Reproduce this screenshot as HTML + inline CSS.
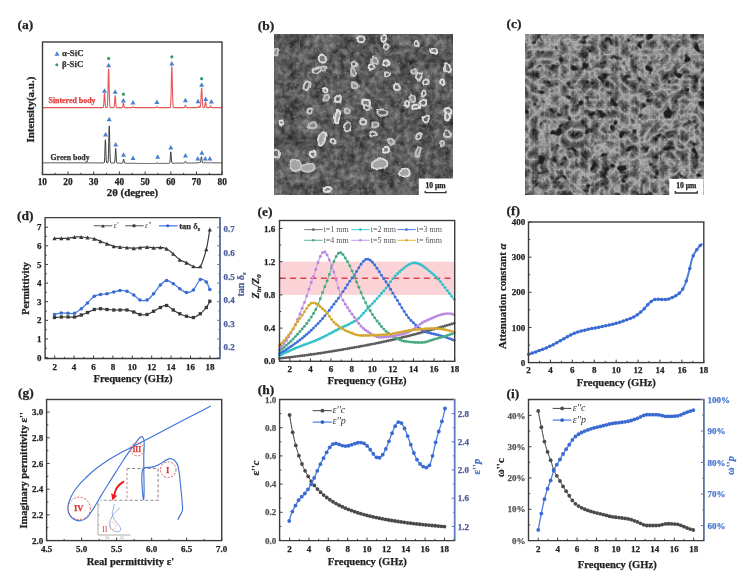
<!DOCTYPE html><html><head><meta charset="utf-8"><style>html,body{margin:0;padding:0;background:#fff;}svg{display:block;font-family:"Liberation Serif",serif;opacity:0.999;}</style></head><body>
<svg width="747" height="579" viewBox="0 0 747 579">
<rect width="747" height="579" fill="#fff"/>
<defs>
<filter id="semb" x="0" y="0" width="100%" height="100%" color-interpolation-filters="sRGB">
<feTurbulence type="fractalNoise" baseFrequency="0.06" numOctaves="2" seed="11" result="n"/>
<feColorMatrix in="n" type="matrix" values="0.6 0 0 0 0.05  0.6 0 0 0 0.05  0.6 0 0 0 0.05  0 0 0 0 1" result="A"/>
<feTurbulence type="fractalNoise" baseFrequency="0.2" numOctaves="2" seed="17" result="n2"/>
<feColorMatrix in="n2" type="matrix" values="0.9 0 0 0 -0.1  0.9 0 0 0 -0.1  0.9 0 0 0 -0.1  0 0 0 0 1" result="B"/>
<feComposite in="A" in2="B" operator="arithmetic" k1="0" k2="0.55" k3="0.45" k4="0" result="base"/>
<feTurbulence type="turbulence" baseFrequency="0.11" numOctaves="2" seed="5" result="t"/>
<feColorMatrix in="t" type="matrix" values="0 0 0 0 0.62  0 0 0 0 0.62  0 0 0 0 0.62  -3.5 0 0 0 0.45" result="edges"/>
<feMerge><feMergeNode in="base"/><feMergeNode in="edges"/></feMerge>
<feGaussianBlur stdDeviation="0.4"/>
</filter>
<filter id="semc" x="0" y="0" width="100%" height="100%" color-interpolation-filters="sRGB">
<feTurbulence type="turbulence" baseFrequency="0.1" numOctaves="3" seed="4" result="t"/>
<feColorMatrix in="t" type="matrix" values="-0.8 0 0 0 0.73  -0.8 0 0 0 0.73  -0.8 0 0 0 0.73  0 0 0 0 1" result="ridge"/>
<feTurbulence type="fractalNoise" baseFrequency="0.11" numOctaves="2" seed="21" result="n1"/>
<feColorMatrix in="n1" type="matrix" values="0 0 0 0 0  0 0 0 0 0  0 0 0 0 0  -7 0 0 0 2.8" result="holes"/>
<feFlood flood-color="#1e1e1e" result="blk"/>
<feComposite in="blk" in2="holes" operator="in" result="hl"/>
<feGaussianBlur in="hl" stdDeviation="0.5" result="hlb"/>
<feMerge><feMergeNode in="ridge"/><feMergeNode in="hlb"/></feMerge>
<feGaussianBlur stdDeviation="0.35"/>
</filter>
<filter id="ringblur" x="-5%" y="-5%" width="110%" height="110%" color-interpolation-filters="sRGB">
<feTurbulence type="fractalNoise" baseFrequency="0.12" numOctaves="1" seed="3" result="dn"/>
<feDisplacementMap in="SourceGraphic" in2="dn" scale="5" xChannelSelector="R" yChannelSelector="G" result="d"/>
<feGaussianBlur in="d" stdDeviation="0.65"/>
</filter>
<filter id="gblur" x="0" y="0" width="747" height="579" filterUnits="userSpaceOnUse" color-interpolation-filters="sRGB"><feGaussianBlur stdDeviation="0.5"/></filter>
<clipPath id="clipb"><rect x="274" y="34" width="179" height="161"/></clipPath>
</defs>
<text x="17.6" y="28.8" font-size="13.5" text-anchor="start" font-weight="bold" font-style="normal" fill="#222" stroke="#222" stroke-width="0.25">(a)</text>
<path d="M43 107.6 L43.25 107.6 L43.5 107.6 L43.75 107.6 L44 107.6 L44.25 107.6 L44.5 107.6 L44.75 107.6 L45 107.6 L45.25 107.6 L45.5 107.6 L45.75 107.6 L46 107.6 L46.25 107.6 L46.5 107.6 L46.75 107.6 L47 107.6 L47.25 107.6 L47.5 107.6 L47.75 107.6 L48 107.6 L48.25 107.6 L48.5 107.6 L48.75 107.6 L49 107.6 L49.25 107.6 L49.5 107.6 L49.75 107.6 L50 107.6 L50.25 107.6 L50.5 107.6 L50.75 107.6 L51 107.6 L51.25 107.6 L51.5 107.6 L51.75 107.6 L52 107.6 L52.25 107.6 L52.5 107.6 L52.75 107.6 L53 107.6 L53.25 107.6 L53.5 107.6 L53.75 107.6 L54 107.6 L54.25 107.6 L54.5 107.6 L54.75 107.6 L55 107.6 L55.25 107.6 L55.5 107.6 L55.75 107.6 L56 107.6 L56.25 107.6 L56.5 107.6 L56.75 107.6 L57 107.6 L57.25 107.6 L57.5 107.6 L57.75 107.6 L58 107.6 L58.25 107.6 L58.5 107.6 L58.75 107.6 L59 107.6 L59.25 107.6 L59.5 107.6 L59.75 107.6 L60 107.6 L60.25 107.6 L60.5 107.6 L60.75 107.6 L61 107.6 L61.25 107.6 L61.5 107.6 L61.75 107.6 L62 107.6 L62.25 107.6 L62.5 107.6 L62.75 107.6 L63 107.6 L63.25 107.6 L63.5 107.6 L63.75 107.6 L64 107.6 L64.25 107.6 L64.5 107.6 L64.75 107.6 L65 107.6 L65.25 107.6 L65.5 107.6 L65.75 107.6 L66 107.6 L66.25 107.6 L66.5 107.6 L66.75 107.6 L67 107.6 L67.25 107.6 L67.5 107.6 L67.75 107.6 L68 107.6 L68.25 107.6 L68.5 107.6 L68.75 107.6 L69 107.6 L69.25 107.6 L69.5 107.6 L69.75 107.6 L70 107.6 L70.25 107.6 L70.5 107.6 L70.75 107.6 L71 107.6 L71.25 107.6 L71.5 107.6 L71.75 107.6 L72 107.6 L72.25 107.6 L72.5 107.6 L72.75 107.6 L73 107.6 L73.25 107.6 L73.5 107.6 L73.75 107.6 L74 107.6 L74.25 107.6 L74.5 107.6 L74.75 107.6 L75 107.6 L75.25 107.6 L75.5 107.6 L75.75 107.6 L76 107.6 L76.25 107.6 L76.5 107.6 L76.75 107.6 L77 107.6 L77.25 107.6 L77.5 107.6 L77.75 107.6 L78 107.6 L78.25 107.6 L78.5 107.6 L78.75 107.6 L79 107.6 L79.25 107.6 L79.5 107.6 L79.75 107.6 L80 107.6 L80.25 107.6 L80.5 107.6 L80.75 107.6 L81 107.6 L81.25 107.6 L81.5 107.6 L81.75 107.6 L82 107.6 L82.25 107.6 L82.5 107.6 L82.75 107.6 L83 107.6 L83.25 107.6 L83.5 107.6 L83.75 107.6 L84 107.6 L84.25 107.6 L84.5 107.6 L84.75 107.6 L85 107.6 L85.25 107.6 L85.5 107.6 L85.75 107.6 L86 107.6 L86.25 107.6 L86.5 107.6 L86.75 107.6 L87 107.6 L87.25 107.6 L87.5 107.6 L87.75 107.6 L88 107.6 L88.25 107.6 L88.5 107.6 L88.75 107.6 L89 107.6 L89.25 107.6 L89.5 107.6 L89.75 107.6 L90 107.6 L90.25 107.6 L90.5 107.6 L90.75 107.6 L91 107.6 L91.25 107.6 L91.5 107.6 L91.75 107.6 L92 107.6 L92.25 107.6 L92.5 107.6 L92.75 107.6 L93 107.6 L93.25 107.6 L93.5 107.6 L93.75 107.6 L94 107.6 L94.25 107.6 L94.5 107.6 L94.75 107.6 L95 107.6 L95.25 107.6 L95.5 107.6 L95.75 107.6 L96 107.6 L96.25 107.6 L96.5 107.6 L96.75 107.6 L97 107.6 L97.25 107.6 L97.5 107.6 L97.75 107.6 L98 107.6 L98.25 107.6 L98.5 107.6 L98.75 107.6 L99 107.6 L99.25 107.6 L99.5 107.6 L99.75 107.6 L100 107.6 L100.25 107.6 L100.5 107.6 L100.75 107.6 L101 107.6 L101.25 107.6 L101.5 107.6 L101.75 107.6 L102 107.6 L102.25 107.6 L102.5 107.6 L102.75 107.59 L103 107.54 L103.25 107.28 L103.5 106.34 L103.75 103.9 L104 99.66 L104.25 95.08 L104.5 93.1 L104.75 95.27 L105 99.89 L105.25 104.06 L105.5 106.41 L105.75 107.31 L106 107.55 L106.25 107.59 L106.5 107.59 L106.75 107.56 L107 107.37 L107.25 106.6 L107.5 104.18 L107.75 98.48 L108 88.65 L108.25 76.94 L108.5 68.98 L108.75 69.7 L109 78.64 L109.25 90.37 L109.5 99.61 L109.75 104.72 L110 106.79 L110.25 107.42 L110.5 107.57 L110.75 107.6 L111 107.6 L111.25 107.6 L111.5 107.6 L111.75 107.6 L112 107.6 L112.25 107.6 L112.5 107.6 L112.75 107.6 L113 107.6 L113.25 107.6 L113.5 107.59 L113.75 107.51 L114 107.17 L114.25 106.04 L114.5 103.5 L114.75 99.67 L115 96.33 L115.25 95.84 L115.5 98.59 L115.75 102.53 L116 105.5 L116.25 106.96 L116.5 107.46 L116.75 107.58 L117 107.6 L117.25 107.6 L117.5 107.6 L117.75 107.6 L118 107.6 L118.25 107.6 L118.5 107.6 L118.75 107.6 L119 107.6 L119.25 107.6 L119.5 107.6 L119.75 107.6 L120 107.6 L120.25 107.6 L120.5 107.6 L120.75 107.6 L121 107.6 L121.25 107.6 L121.5 107.6 L121.75 107.6 L122 107.59 L122.25 107.52 L122.5 107.21 L122.75 106.32 L123 104.76 L123.25 103.34 L123.5 103.29 L123.75 104.64 L124 106.23 L124.25 107.17 L124.5 107.51 L124.75 107.59 L125 107.6 L125.25 107.6 L125.5 107.6 L125.75 107.6 L126 107.6 L126.25 107.6 L126.5 107.6 L126.75 107.6 L127 107.6 L127.25 107.6 L127.5 107.6 L127.75 107.6 L128 107.6 L128.25 107.6 L128.5 107.6 L128.75 107.6 L129 107.6 L129.25 107.6 L129.5 107.6 L129.75 107.6 L130 107.6 L130.25 107.6 L130.5 107.6 L130.75 107.6 L131 107.6 L131.25 107.6 L131.5 107.6 L131.75 107.59 L132 107.56 L132.25 107.44 L132.5 107.17 L132.75 106.81 L133 106.6 L133.25 106.75 L133.5 107.11 L133.75 107.41 L134 107.55 L134.25 107.59 L134.5 107.6 L134.75 107.6 L135 107.6 L135.25 107.6 L135.5 107.6 L135.75 107.6 L136 107.6 L136.25 107.6 L136.5 107.6 L136.75 107.6 L137 107.6 L137.25 107.6 L137.5 107.6 L137.75 107.6 L138 107.6 L138.25 107.6 L138.5 107.6 L138.75 107.6 L139 107.6 L139.25 107.6 L139.5 107.6 L139.75 107.6 L140 107.6 L140.25 107.6 L140.5 107.6 L140.75 107.6 L141 107.6 L141.25 107.6 L141.5 107.6 L141.75 107.6 L142 107.6 L142.25 107.6 L142.5 107.6 L142.75 107.6 L143 107.6 L143.25 107.6 L143.5 107.6 L143.75 107.6 L144 107.6 L144.25 107.6 L144.5 107.6 L144.75 107.6 L145 107.6 L145.25 107.6 L145.5 107.6 L145.75 107.6 L146 107.6 L146.25 107.6 L146.5 107.6 L146.75 107.6 L147 107.6 L147.25 107.6 L147.5 107.6 L147.75 107.6 L148 107.6 L148.25 107.6 L148.5 107.6 L148.75 107.6 L149 107.6 L149.25 107.6 L149.5 107.6 L149.75 107.6 L150 107.6 L150.25 107.6 L150.5 107.6 L150.75 107.6 L151 107.6 L151.25 107.6 L151.5 107.6 L151.75 107.6 L152 107.6 L152.25 107.6 L152.5 107.6 L152.75 107.6 L153 107.6 L153.25 107.6 L153.5 107.6 L153.75 107.6 L154 107.6 L154.25 107.6 L154.5 107.6 L154.75 107.6 L155 107.6 L155.25 107.6 L155.5 107.6 L155.75 107.59 L156 107.53 L156.25 107.36 L156.5 107.03 L156.75 106.69 L157 106.62 L157.25 106.89 L157.5 107.25 L157.75 107.48 L158 107.57 L158.25 107.6 L158.5 107.6 L158.75 107.6 L159 107.6 L159.25 107.6 L159.5 107.6 L159.75 107.6 L160 107.6 L160.25 107.6 L160.5 107.6 L160.75 107.6 L161 107.6 L161.25 107.6 L161.5 107.6 L161.75 107.6 L162 107.6 L162.25 107.6 L162.5 107.6 L162.75 107.6 L163 107.6 L163.25 107.6 L163.5 107.6 L163.75 107.6 L164 107.6 L164.25 107.6 L164.5 107.6 L164.75 107.6 L165 107.6 L165.25 107.6 L165.5 107.6 L165.75 107.6 L166 107.6 L166.25 107.6 L166.5 107.6 L166.75 107.6 L167 107.6 L167.25 107.6 L167.5 107.6 L167.75 107.6 L168 107.6 L168.25 107.6 L168.5 107.6 L168.75 107.6 L169 107.6 L169.25 107.6 L169.5 107.6 L169.75 107.59 L170 107.55 L170.25 107.31 L170.5 106.38 L170.75 103.54 L171 97.07 L171.25 86.33 L171.5 74.13 L171.75 66.6 L172 68.48 L172.25 78.54 L172.5 90.78 L172.75 100.02 L173 104.94 L173.25 106.87 L173.5 107.45 L173.75 107.57 L174 107.6 L174.25 107.6 L174.5 107.6 L174.75 107.6 L175 107.6 L175.25 107.6 L175.5 107.6 L175.75 107.6 L176 107.6 L176.25 107.6 L176.5 107.6 L176.75 107.6 L177 107.6 L177.25 107.6 L177.5 107.6 L177.75 107.6 L178 107.6 L178.25 107.6 L178.5 107.6 L178.75 107.6 L179 107.6 L179.25 107.6 L179.5 107.6 L179.75 107.6 L180 107.6 L180.25 107.6 L180.5 107.6 L180.75 107.6 L181 107.6 L181.25 107.6 L181.5 107.6 L181.75 107.6 L182 107.6 L182.25 107.6 L182.5 107.6 L182.75 107.6 L183 107.6 L183.25 107.6 L183.5 107.6 L183.75 107.6 L184 107.6 L184.25 107.58 L184.5 107.47 L184.75 107.12 L185 106.43 L185.25 105.66 L185.5 105.42 L185.75 105.94 L186 106.75 L186.25 107.3 L186.5 107.53 L186.75 107.59 L187 107.6 L187.25 107.6 L187.5 107.6 L187.75 107.6 L188 107.6 L188.25 107.6 L188.5 107.6 L188.75 107.6 L189 107.6 L189.25 107.6 L189.5 107.6 L189.75 107.6 L190 107.6 L190.25 107.6 L190.5 107.6 L190.75 107.6 L191 107.6 L191.25 107.6 L191.5 107.6 L191.75 107.6 L192 107.6 L192.25 107.6 L192.5 107.6 L192.75 107.6 L193 107.6 L193.25 107.6 L193.5 107.6 L193.75 107.6 L194 107.6 L194.25 107.6 L194.5 107.6 L194.75 107.6 L195 107.6 L195.25 107.6 L195.5 107.6 L195.75 107.6 L196 107.6 L196.25 107.6 L196.5 107.6 L196.75 107.6 L197 107.6 L197.25 107.6 L197.5 107.59 L197.75 107.56 L198 107.41 L198.25 107.04 L198.5 106.5 L198.75 106.12 L199 106.26 L199.25 106.77 L199.5 107.25 L199.75 107.49 L200 107.49 L200.25 107.18 L200.5 106.11 L200.75 103.5 L201 98.78 L201.25 92.85 L201.5 88.37 L201.75 88.08 L202 92.17 L202.25 98.1 L202.5 103.04 L202.75 105.9 L203 107.11 L203.25 107.49 L203.5 107.58 L203.75 107.59 L204 107.58 L204.25 107.47 L204.5 107.08 L204.75 106.08 L205 104.32 L205.25 102.43 L205.5 101.6 L205.75 102.49 L206 104.4 L206.25 106.13 L206.5 107.1 L206.75 107.48 L207 107.58 L207.25 107.6 L207.5 107.6 L207.75 107.6 L208 107.6 L208.25 107.6 L208.5 107.6 L208.75 107.6 L209 107.6 L209.25 107.6 L209.5 107.57 L209.75 107.44 L210 107.09 L210.25 106.47 L210.5 105.9 L210.75 105.87 L211 106.41 L211.25 107.05 L211.5 107.43 L211.75 107.56 L212 107.59 L212.25 107.6 L212.5 107.6 L212.75 107.6 L213 107.6 L213.25 107.6 L213.5 107.6 L213.75 107.6 L214 107.6 L214.25 107.6 L214.5 107.6 L214.75 107.6 L215 107.6 L215.25 107.6 L215.5 107.6 L215.75 107.6 L216 107.6 L216.25 107.6 L216.5 107.6 L216.75 107.6 L217 107.6 L217.25 107.6 L217.5 107.6 L217.75 107.6 L218 107.6 L218.25 107.6 L218.5 107.6 L218.75 107.6 L219 107.6 L219.25 107.6 L219.5 107.6 L219.75 107.6 L220 107.6 L220.25 107.6 L220.5 107.6 L220.75 107.6 L221 107.6 L221.25 107.6 L221.5 107.6" fill="none" stroke="#e45858" stroke-width="1.1" stroke-linejoin="round" />
<path d="M43 162.8 L43.25 162.8 L43.5 162.8 L43.75 162.8 L44 162.8 L44.25 162.8 L44.5 162.8 L44.75 162.8 L45 162.8 L45.25 162.8 L45.5 162.8 L45.75 162.8 L46 162.8 L46.25 162.8 L46.5 162.8 L46.75 162.8 L47 162.8 L47.25 162.8 L47.5 162.8 L47.75 162.8 L48 162.8 L48.25 162.8 L48.5 162.8 L48.75 162.8 L49 162.8 L49.25 162.8 L49.5 162.8 L49.75 162.8 L50 162.8 L50.25 162.8 L50.5 162.8 L50.75 162.8 L51 162.8 L51.25 162.8 L51.5 162.8 L51.75 162.8 L52 162.8 L52.25 162.8 L52.5 162.8 L52.75 162.8 L53 162.8 L53.25 162.8 L53.5 162.8 L53.75 162.8 L54 162.8 L54.25 162.8 L54.5 162.8 L54.75 162.8 L55 162.8 L55.25 162.8 L55.5 162.8 L55.75 162.8 L56 162.8 L56.25 162.8 L56.5 162.8 L56.75 162.8 L57 162.8 L57.25 162.8 L57.5 162.8 L57.75 162.8 L58 162.8 L58.25 162.8 L58.5 162.8 L58.75 162.8 L59 162.8 L59.25 162.8 L59.5 162.8 L59.75 162.8 L60 162.8 L60.25 162.8 L60.5 162.8 L60.75 162.8 L61 162.8 L61.25 162.8 L61.5 162.8 L61.75 162.8 L62 162.8 L62.25 162.8 L62.5 162.8 L62.75 162.8 L63 162.8 L63.25 162.8 L63.5 162.8 L63.75 162.8 L64 162.8 L64.25 162.8 L64.5 162.8 L64.75 162.8 L65 162.8 L65.25 162.8 L65.5 162.8 L65.75 162.8 L66 162.8 L66.25 162.8 L66.5 162.8 L66.75 162.8 L67 162.8 L67.25 162.8 L67.5 162.8 L67.75 162.8 L68 162.8 L68.25 162.8 L68.5 162.8 L68.75 162.8 L69 162.8 L69.25 162.8 L69.5 162.8 L69.75 162.8 L70 162.8 L70.25 162.8 L70.5 162.8 L70.75 162.8 L71 162.8 L71.25 162.8 L71.5 162.81 L71.75 162.81 L72 162.81 L72.25 162.81 L72.5 162.81 L72.75 162.81 L73 162.81 L73.25 162.81 L73.5 162.81 L73.75 162.81 L74 162.81 L74.25 162.81 L74.5 162.81 L74.75 162.81 L75 162.81 L75.25 162.81 L75.5 162.81 L75.75 162.81 L76 162.81 L76.25 162.81 L76.5 162.81 L76.75 162.81 L77 162.81 L77.25 162.81 L77.5 162.81 L77.75 162.81 L78 162.81 L78.25 162.81 L78.5 162.81 L78.75 162.81 L79 162.81 L79.25 162.81 L79.5 162.81 L79.75 162.81 L80 162.81 L80.25 162.81 L80.5 162.81 L80.75 162.82 L81 162.82 L81.25 162.82 L81.5 162.82 L81.75 162.82 L82 162.82 L82.25 162.82 L82.5 162.82 L82.75 162.82 L83 162.82 L83.25 162.82 L83.5 162.82 L83.75 162.82 L84 162.82 L84.25 162.82 L84.5 162.82 L84.75 162.82 L85 162.82 L85.25 162.82 L85.5 162.83 L85.75 162.83 L86 162.83 L86.25 162.83 L86.5 162.83 L86.75 162.83 L87 162.83 L87.25 162.83 L87.5 162.83 L87.75 162.83 L88 162.83 L88.25 162.83 L88.5 162.83 L88.75 162.83 L89 162.84 L89.25 162.84 L89.5 162.84 L89.75 162.84 L90 162.84 L90.25 162.84 L90.5 162.84 L90.75 162.84 L91 162.84 L91.25 162.84 L91.5 162.85 L91.75 162.85 L92 162.85 L92.25 162.85 L92.5 162.85 L92.75 162.85 L93 162.85 L93.25 162.85 L93.5 162.85 L93.75 162.86 L94 162.86 L94.25 162.86 L94.5 162.86 L94.75 162.86 L95 162.86 L95.25 162.86 L95.5 162.87 L95.75 162.87 L96 162.87 L96.25 162.87 L96.5 162.87 L96.75 162.87 L97 162.87 L97.25 162.88 L97.5 162.88 L97.75 162.88 L98 162.88 L98.25 162.88 L98.5 162.88 L98.75 162.89 L99 162.89 L99.25 162.89 L99.5 162.89 L99.75 162.89 L100 162.89 L100.25 162.9 L100.5 162.9 L100.75 162.9 L101 162.9 L101.25 162.9 L101.5 162.91 L101.75 162.91 L102 162.91 L102.25 162.91 L102.5 162.92 L102.75 162.92 L103 162.92 L103.25 162.92 L103.5 162.92 L103.75 162.92 L104 162.87 L104.25 162.53 L104.5 160.95 L104.75 156.36 L105 148.15 L105.25 140.44 L105.5 139.78 L105.75 146.81 L106 155.35 L106.25 160.53 L106.5 162.43 L106.75 162.88 L107 162.95 L107.25 162.96 L107.5 162.95 L107.75 162.82 L108 162.18 L108.25 159.82 L108.5 153.7 L108.75 142.95 L109 131.21 L109.25 125.99 L109.5 131.34 L109.75 143.11 L110 153.82 L110.25 159.89 L110.5 162.23 L110.75 162.86 L111 162.99 L111.25 163.01 L111.5 163.01 L111.75 163.02 L112 163.02 L112.25 163.02 L112.5 163.03 L112.75 163.03 L113 163.03 L113.25 163.04 L113.5 163.04 L113.75 163.04 L114 163.05 L114.25 163.03 L114.5 162.85 L114.75 162.02 L115 159.43 L115.25 154.5 L115.5 149.42 L115.75 148.35 L116 152.33 L116.25 157.77 L116.5 161.31 L116.75 162.69 L117 163.03 L117.25 163.09 L117.5 163.1 L117.75 163.1 L118 163.11 L118.25 163.11 L118.5 163.12 L118.75 163.12 L119 163.12 L119.25 163.13 L119.5 163.13 L119.75 163.14 L120 163.14 L120.25 163.14 L120.5 163.15 L120.75 163.15 L121 163.16 L121.25 163.16 L121.5 163.17 L121.75 163.17 L122 163.17 L122.25 163.17 L122.5 163.11 L122.75 162.83 L123 162 L123.25 160.52 L123.5 159.16 L123.75 159.06 L124 160.34 L124.25 161.87 L124.5 162.79 L124.75 163.13 L125 163.21 L125.25 163.23 L125.5 163.23 L125.75 163.24 L126 163.24 L126.25 163.25 L126.5 163.25 L126.75 163.25 L127 163.26 L127.25 163.26 L127.5 163.27 L127.75 163.27 L128 163.28 L128.25 163.28 L128.5 163.28 L128.75 163.29 L129 163.29 L129.25 163.3 L129.5 163.3 L129.75 163.3 L130 163.31 L130.25 163.31 L130.5 163.32 L130.75 163.32 L131 163.32 L131.25 163.33 L131.5 163.33 L131.75 163.33 L132 163.32 L132.25 163.25 L132.5 163.09 L132.75 162.87 L133 162.76 L133.25 162.85 L133.5 163.07 L133.75 163.25 L134 163.34 L134.25 163.37 L134.5 163.38 L134.75 163.38 L135 163.38 L135.25 163.39 L135.5 163.39 L135.75 163.4 L136 163.4 L136.25 163.4 L136.5 163.41 L136.75 163.41 L137 163.41 L137.25 163.41 L137.5 163.42 L137.75 163.42 L138 163.42 L138.25 163.43 L138.5 163.43 L138.75 163.43 L139 163.44 L139.25 163.44 L139.5 163.44 L139.75 163.44 L140 163.45 L140.25 163.45 L140.5 163.45 L140.75 163.45 L141 163.46 L141.25 163.46 L141.5 163.46 L141.75 163.46 L142 163.47 L142.25 163.47 L142.5 163.47 L142.75 163.47 L143 163.47 L143.25 163.47 L143.5 163.48 L143.75 163.48 L144 163.48 L144.25 163.48 L144.5 163.48 L144.75 163.48 L145 163.49 L145.25 163.49 L145.5 163.49 L145.75 163.49 L146 163.49 L146.25 163.49 L146.5 163.49 L146.75 163.49 L147 163.49 L147.25 163.5 L147.5 163.5 L147.75 163.5 L148 163.5 L148.25 163.5 L148.5 163.5 L148.75 163.5 L149 163.5 L149.25 163.5 L149.5 163.5 L149.75 163.5 L150 163.5 L150.25 163.5 L150.5 163.5 L150.75 163.5 L151 163.5 L151.25 163.5 L151.5 163.5 L151.75 163.5 L152 163.5 L152.25 163.5 L152.5 163.5 L152.75 163.5 L153 163.49 L153.25 163.49 L153.5 163.49 L153.75 163.49 L154 163.49 L154.25 163.49 L154.5 163.49 L154.75 163.49 L155 163.49 L155.25 163.48 L155.5 163.48 L155.75 163.47 L156 163.42 L156.25 163.28 L156.5 163.02 L156.75 162.75 L157 162.69 L157.25 162.9 L157.5 163.19 L157.75 163.37 L158 163.44 L158.25 163.46 L158.5 163.46 L158.75 163.46 L159 163.46 L159.25 163.45 L159.5 163.45 L159.75 163.45 L160 163.45 L160.25 163.44 L160.5 163.44 L160.75 163.44 L161 163.44 L161.25 163.43 L161.5 163.43 L161.75 163.43 L162 163.42 L162.25 163.42 L162.5 163.42 L162.75 163.41 L163 163.41 L163.25 163.41 L163.5 163.41 L163.75 163.4 L164 163.4 L164.25 163.4 L164.5 163.39 L164.75 163.39 L165 163.38 L165.25 163.38 L165.5 163.38 L165.75 163.37 L166 163.37 L166.25 163.37 L166.5 163.36 L166.75 163.36 L167 163.36 L167.25 163.35 L167.5 163.35 L167.75 163.34 L168 163.34 L168.25 163.34 L168.5 163.33 L168.75 163.33 L169 163.32 L169.25 163.29 L169.5 163.14 L169.75 162.56 L170 160.94 L170.25 157.86 L170.5 154.09 L170.75 151.87 L171 152.87 L171.25 156.31 L171.5 159.85 L171.75 162.04 L172 162.95 L172.25 163.21 L172.5 163.26 L172.75 163.26 L173 163.26 L173.25 163.25 L173.5 163.25 L173.75 163.25 L174 163.24 L174.25 163.24 L174.5 163.23 L174.75 163.23 L175 163.22 L175.25 163.22 L175.5 163.22 L175.75 163.21 L176 163.21 L176.25 163.2 L176.5 163.2 L176.75 163.19 L177 163.19 L177.25 163.19 L177.5 163.18 L177.75 163.18 L178 163.17 L178.25 163.17 L178.5 163.17 L178.75 163.16 L179 163.16 L179.25 163.15 L179.5 163.15 L179.75 163.14 L180 163.14 L180.25 163.14 L180.5 163.13 L180.75 163.13 L181 163.12 L181.25 163.12 L181.5 163.12 L181.75 163.11 L182 163.11 L182.25 163.1 L182.5 163.1 L182.75 163.1 L183 163.09 L183.25 163.09 L183.5 163.09 L183.75 163.08 L184 163.08 L184.25 163.05 L184.5 162.96 L184.75 162.68 L185 162.1 L185.25 161.47 L185.5 161.27 L185.75 161.7 L186 162.35 L186.25 162.8 L186.5 162.98 L186.75 163.03 L187 163.03 L187.25 163.03 L187.5 163.03 L187.75 163.02 L188 163.02 L188.25 163.02 L188.5 163.01 L188.75 163.01 L189 163.01 L189.25 163 L189.5 163 L189.75 163 L190 162.99 L190.25 162.99 L190.5 162.99 L190.75 162.99 L191 162.98 L191.25 162.98 L191.5 162.98 L191.75 162.97 L192 162.97 L192.25 162.97 L192.5 162.97 L192.75 162.96 L193 162.96 L193.25 162.96 L193.5 162.95 L193.75 162.95 L194 162.95 L194.25 162.95 L194.5 162.94 L194.75 162.94 L195 162.94 L195.25 162.94 L195.5 162.93 L195.75 162.93 L196 162.93 L196.25 162.93 L196.5 162.92 L196.75 162.92 L197 162.92 L197.25 162.92 L197.5 162.91 L197.75 162.89 L198 162.81 L198.25 162.61 L198.5 162.32 L198.75 162.11 L199 162.19 L199.25 162.46 L199.5 162.71 L199.75 162.84 L200 162.83 L200.25 162.63 L200.5 161.97 L200.75 160.55 L201 158.5 L201.25 156.85 L201.5 156.79 L201.75 158.36 L202 160.42 L202.25 161.89 L202.5 162.59 L202.75 162.81 L203 162.86 L203.25 162.87 L203.5 162.87 L203.75 162.87 L204 162.87 L204.25 162.86 L204.5 162.82 L204.75 162.69 L205 162.4 L205.25 162.03 L205.5 161.86 L205.75 162.04 L206 162.41 L206.25 162.69 L206.5 162.81 L206.75 162.85 L207 162.85 L207.25 162.85 L207.5 162.85 L207.75 162.85 L208 162.85 L208.25 162.85 L208.5 162.85 L208.75 162.84 L209 162.84 L209.25 162.84 L209.5 162.83 L209.75 162.79 L210 162.67 L210.25 162.46 L210.5 162.27 L210.75 162.26 L211 162.44 L211.25 162.65 L211.5 162.78 L211.75 162.82 L212 162.83 L212.25 162.83 L212.5 162.83 L212.75 162.83 L213 162.83 L213.25 162.83 L213.5 162.83 L213.75 162.83 L214 162.83 L214.25 162.83 L214.5 162.83 L214.75 162.82 L215 162.82 L215.25 162.82 L215.5 162.82 L215.75 162.82 L216 162.82 L216.25 162.82 L216.5 162.82 L216.75 162.82 L217 162.82 L217.25 162.82 L217.5 162.82 L217.75 162.82 L218 162.82 L218.25 162.82 L218.5 162.82 L218.75 162.82 L219 162.82 L219.25 162.82 L219.5 162.81 L219.75 162.81 L220 162.81 L220.25 162.81 L220.5 162.81 L220.75 162.81 L221 162.81 L221.25 162.81 L221.5 162.81" fill="none" stroke="#3a3a3a" stroke-width="1.0" stroke-linejoin="round" />
<path d="M104.49 88.15 L106.99 92.65 L101.99 92.65 Z" fill="#4a80d0"/>
<path d="M108.61 62.75 L111.11 67.25 L106.11 67.25 Z" fill="#4a80d0"/>
<path d="M115.16 89.35 L117.66 93.85 L112.66 93.85 Z" fill="#4a80d0"/>
<path d="M123.38 97.95 L125.88 102.45 L120.88 102.45 Z" fill="#4a80d0"/>
<path d="M133.02 99.95 L135.52 104.45 L130.52 104.45 Z" fill="#4a80d0"/>
<path d="M156.92 99.55 L159.42 104.05 L154.42 104.05 Z" fill="#4a80d0"/>
<path d="M171.83 60.95 L174.33 65.45 L169.33 65.45 Z" fill="#4a80d0"/>
<path d="M185.45 97.75 L187.95 102.25 L182.95 102.25 Z" fill="#4a80d0"/>
<path d="M198.04 98.75 L200.54 103.25 L195.54 103.25 Z" fill="#4a80d0"/>
<path d="M201.64 82.35 L204.14 86.85 L199.14 86.85 Z" fill="#4a80d0"/>
<path d="M205.75 96.45 L208.25 100.95 L203.25 100.95 Z" fill="#4a80d0"/>
<path d="M211.41 98.95 L213.91 103.45 L208.91 103.45 Z" fill="#4a80d0"/>
<circle cx="108.61" cy="58.4" r="1.6" fill="#3a9a66" stroke="none" stroke-width="0"/>
<circle cx="123.38" cy="94.2" r="1.6" fill="#3a9a66" stroke="none" stroke-width="0"/>
<circle cx="171.83" cy="56.8" r="1.6" fill="#3a9a66" stroke="none" stroke-width="0"/>
<circle cx="201.64" cy="78.7" r="1.6" fill="#3a9a66" stroke="none" stroke-width="0"/>
<path d="M105.52 131.95 L108.02 136.45 L103.02 136.45 Z" fill="#4a80d0"/>
<path d="M109.25 116.75 L111.75 121.25 L106.75 121.25 Z" fill="#4a80d0"/>
<path d="M115.67 141.95 L118.17 146.45 L113.17 146.45 Z" fill="#4a80d0"/>
<path d="M123.51 152.25 L126.01 156.75 L121.01 156.75 Z" fill="#4a80d0"/>
<path d="M133.02 155.55 L135.52 160.05 L130.52 160.05 Z" fill="#4a80d0"/>
<path d="M157.69 154.25 L160.19 158.75 L155.19 158.75 Z" fill="#4a80d0"/>
<path d="M170.8 144.95 L173.3 149.45 L168.3 149.45 Z" fill="#4a80d0"/>
<path d="M185.45 152.95 L187.95 157.45 L182.95 157.45 Z" fill="#4a80d0"/>
<path d="M197.78 155.95 L200.28 160.45 L195.28 160.45 Z" fill="#4a80d0"/>
<path d="M201.9 150.25 L204.4 154.75 L199.4 154.75 Z" fill="#4a80d0"/>
<path d="M205.24 155.95 L207.74 160.45 L202.74 160.45 Z" fill="#4a80d0"/>
<path d="M209.86 155.95 L212.36 160.45 L207.36 160.45 Z" fill="#4a80d0"/>
<rect x="42.5" y="42" width="179.5" height="132.5" fill="none" stroke="#3c3c3c" stroke-width="1.4"/>
<line x1="42.3" y1="174.5" x2="42.3" y2="171.5" stroke="#3c3c3c" stroke-width="1.0" />
<text x="42.3" y="184.8" font-size="9.3" text-anchor="middle" font-weight="bold" font-style="normal" fill="#222" stroke="#222" stroke-width="0.25">10</text>
<line x1="68" y1="174.5" x2="68" y2="171.5" stroke="#3c3c3c" stroke-width="1.0" />
<text x="68" y="184.8" font-size="9.3" text-anchor="middle" font-weight="bold" font-style="normal" fill="#222" stroke="#222" stroke-width="0.25">20</text>
<line x1="93.7" y1="174.5" x2="93.7" y2="171.5" stroke="#3c3c3c" stroke-width="1.0" />
<text x="93.7" y="184.8" font-size="9.3" text-anchor="middle" font-weight="bold" font-style="normal" fill="#222" stroke="#222" stroke-width="0.25">30</text>
<line x1="119.4" y1="174.5" x2="119.4" y2="171.5" stroke="#3c3c3c" stroke-width="1.0" />
<text x="119.4" y="184.8" font-size="9.3" text-anchor="middle" font-weight="bold" font-style="normal" fill="#222" stroke="#222" stroke-width="0.25">40</text>
<line x1="145.1" y1="174.5" x2="145.1" y2="171.5" stroke="#3c3c3c" stroke-width="1.0" />
<text x="145.1" y="184.8" font-size="9.3" text-anchor="middle" font-weight="bold" font-style="normal" fill="#222" stroke="#222" stroke-width="0.25">50</text>
<line x1="170.8" y1="174.5" x2="170.8" y2="171.5" stroke="#3c3c3c" stroke-width="1.0" />
<text x="170.8" y="184.8" font-size="9.3" text-anchor="middle" font-weight="bold" font-style="normal" fill="#222" stroke="#222" stroke-width="0.25">60</text>
<line x1="196.5" y1="174.5" x2="196.5" y2="171.5" stroke="#3c3c3c" stroke-width="1.0" />
<text x="196.5" y="184.8" font-size="9.3" text-anchor="middle" font-weight="bold" font-style="normal" fill="#222" stroke="#222" stroke-width="0.25">70</text>
<line x1="222.2" y1="174.5" x2="222.2" y2="171.5" stroke="#3c3c3c" stroke-width="1.0" />
<text x="222.2" y="184.8" font-size="9.3" text-anchor="middle" font-weight="bold" font-style="normal" fill="#222" stroke="#222" stroke-width="0.25">80</text>
<line x1="55.15" y1="174.5" x2="55.15" y2="172.8" stroke="#3c3c3c" stroke-width="1.0" />
<line x1="80.85" y1="174.5" x2="80.85" y2="172.8" stroke="#3c3c3c" stroke-width="1.0" />
<line x1="106.55" y1="174.5" x2="106.55" y2="172.8" stroke="#3c3c3c" stroke-width="1.0" />
<line x1="132.25" y1="174.5" x2="132.25" y2="172.8" stroke="#3c3c3c" stroke-width="1.0" />
<line x1="157.95" y1="174.5" x2="157.95" y2="172.8" stroke="#3c3c3c" stroke-width="1.0" />
<line x1="183.65" y1="174.5" x2="183.65" y2="172.8" stroke="#3c3c3c" stroke-width="1.0" />
<line x1="209.35" y1="174.5" x2="209.35" y2="172.8" stroke="#3c3c3c" stroke-width="1.0" />
<text x="132.5" y="195.6" font-size="10.8" text-anchor="middle" font-weight="bold" font-style="normal" fill="#222" stroke="#222" stroke-width="0.25">2&#952; (degree)</text>
<text x="34.2" y="109.6" font-size="11.0" text-anchor="middle" font-weight="bold" font-style="normal" fill="#222" stroke="#222" stroke-width="0.25" transform="rotate(-90 34.2 109.6)">Intensity(a.u.)</text>
<path d="M57 51.35 L59.5 55.85 L54.5 55.85 Z" fill="#4a80d0"/>
<text x="62" y="56.4" font-size="8.8" text-anchor="start" font-weight="bold" font-style="normal" fill="#333" stroke="#333" stroke-width="0.25">&#945;-SiC</text>
<circle cx="56.8" cy="64.8" r="1.5" fill="#3a9a66" stroke="none" stroke-width="0"/>
<text x="62" y="67.2" font-size="8.8" text-anchor="start" font-weight="bold" font-style="normal" fill="#333" stroke="#333" stroke-width="0.25">&#946;-SiC</text>
<text x="48.5" y="102.6" font-size="7.9" text-anchor="start" font-weight="bold" font-style="normal" fill="#e03c3c" stroke="#e03c3c" stroke-width="0.25">Sintered body</text>
<text x="50.5" y="159.6" font-size="7.8" text-anchor="start" font-weight="bold" font-style="normal" fill="#333" stroke="#333" stroke-width="0.25">Green body</text>
<text x="257.7" y="29.8" font-size="13.5" text-anchor="start" font-weight="bold" font-style="normal" fill="#222" stroke="#222" stroke-width="0.25">(b)</text>
<rect x="274" y="34" width="179" height="161" fill="#777"/>
<rect x="274" y="34" width="179" height="161" filter="url(#semb)"/>
<g clip-path="url(#clipb)"><g filter="url(#ringblur)">
<ellipse cx="322.2" cy="58.1" rx="3.5" ry="3.5" transform="rotate(0 322.2 58.1)" fill="#7a7a7a" stroke="#dedede" stroke-width="2.0"/>
<ellipse cx="317.5" cy="70.1" rx="4.0" ry="2.5" transform="rotate(-20 317.5 70.1)" fill="#5e5e5e" stroke="#cdcdcd" stroke-width="2.0"/>
<ellipse cx="323.5" cy="69" rx="3.0" ry="2.5" transform="rotate(0 323.5 69)" fill="#888888" stroke="#c0c0c0" stroke-width="2.0"/>
<ellipse cx="360.7" cy="39.3" rx="3.0" ry="3.0" transform="rotate(0 360.7 39.3)" fill="#666666" stroke="#d6d6d6" stroke-width="2.0"/>
<ellipse cx="383.6" cy="38.8" rx="3.5" ry="3.0" transform="rotate(0 383.6 38.8)" fill="#7a7a7a" stroke="#dedede" stroke-width="2.0"/>
<ellipse cx="386" cy="46" rx="2.5" ry="2.5" transform="rotate(0 386 46)" fill="#5e5e5e" stroke="#cdcdcd" stroke-width="2.0"/>
<ellipse cx="374" cy="60.5" rx="3.0" ry="3.0" transform="rotate(0 374 60.5)" fill="#888888" stroke="#c0c0c0" stroke-width="2.0"/>
<ellipse cx="371.6" cy="67.7" rx="3.0" ry="2.5" transform="rotate(0 371.6 67.7)" fill="#666666" stroke="#d6d6d6" stroke-width="2.0"/>
<ellipse cx="386" cy="62.9" rx="3.5" ry="2.5" transform="rotate(-10 386 62.9)" fill="#7a7a7a" stroke="#dedede" stroke-width="2.0"/>
<ellipse cx="354.7" cy="64.1" rx="2.5" ry="2.5" transform="rotate(0 354.7 64.1)" fill="#5e5e5e" stroke="#cdcdcd" stroke-width="2.0"/>
<ellipse cx="353.5" cy="72.6" rx="2.5" ry="3.5" transform="rotate(0 353.5 72.6)" fill="#888888" stroke="#c0c0c0" stroke-width="2.0"/>
<ellipse cx="416.2" cy="43.6" rx="2.5" ry="2.5" transform="rotate(0 416.2 43.6)" fill="#666666" stroke="#d6d6d6" stroke-width="2.0"/>
<ellipse cx="434.2" cy="50.9" rx="3.0" ry="3.0" transform="rotate(0 434.2 50.9)" fill="#7a7a7a" stroke="#dedede" stroke-width="2.0"/>
<ellipse cx="418.6" cy="76.2" rx="2.5" ry="4.0" transform="rotate(20 418.6 76.2)" fill="#5e5e5e" stroke="#cdcdcd" stroke-width="2.0"/>
<ellipse cx="413.8" cy="71.3" rx="2.5" ry="2.5" transform="rotate(0 413.8 71.3)" fill="#888888" stroke="#c0c0c0" stroke-width="2.0"/>
<ellipse cx="425.8" cy="82.2" rx="3.0" ry="3.0" transform="rotate(0 425.8 82.2)" fill="#666666" stroke="#d6d6d6" stroke-width="2.0"/>
<ellipse cx="442.7" cy="82.2" rx="2.5" ry="3.0" transform="rotate(0 442.7 82.2)" fill="#7a7a7a" stroke="#dedede" stroke-width="2.0"/>
<ellipse cx="306.5" cy="85.8" rx="2.5" ry="4.5" transform="rotate(20 306.5 85.8)" fill="#5e5e5e" stroke="#cdcdcd" stroke-width="2.0"/>
<ellipse cx="354.7" cy="85.8" rx="3.0" ry="2.5" transform="rotate(0 354.7 85.8)" fill="#888888" stroke="#c0c0c0" stroke-width="2.0"/>
<ellipse cx="396.9" cy="87" rx="3.0" ry="3.0" transform="rotate(0 396.9 87)" fill="#666666" stroke="#d6d6d6" stroke-width="2.0"/>
<ellipse cx="325.8" cy="90.6" rx="2.5" ry="2.5" transform="rotate(0 325.8 90.6)" fill="#7a7a7a" stroke="#dedede" stroke-width="2.0"/>
<ellipse cx="423.4" cy="93" rx="2.5" ry="2.5" transform="rotate(0 423.4 93)" fill="#5e5e5e" stroke="#cdcdcd" stroke-width="2.0"/>
<ellipse cx="325.8" cy="97.9" rx="2.5" ry="2.5" transform="rotate(0 325.8 97.9)" fill="#888888" stroke="#c0c0c0" stroke-width="2.0"/>
<ellipse cx="337.9" cy="99.1" rx="3.0" ry="3.0" transform="rotate(0 337.9 99.1)" fill="#666666" stroke="#d6d6d6" stroke-width="2.0"/>
<ellipse cx="365.6" cy="102.7" rx="3.5" ry="3.0" transform="rotate(0 365.6 102.7)" fill="#7a7a7a" stroke="#dedede" stroke-width="2.0"/>
<ellipse cx="366.8" cy="107.5" rx="3.0" ry="2.5" transform="rotate(0 366.8 107.5)" fill="#5e5e5e" stroke="#cdcdcd" stroke-width="2.0"/>
<ellipse cx="412.6" cy="99.1" rx="2.5" ry="3.0" transform="rotate(0 412.6 99.1)" fill="#888888" stroke="#c0c0c0" stroke-width="2.0"/>
<ellipse cx="423.4" cy="102.7" rx="3.0" ry="3.0" transform="rotate(0 423.4 102.7)" fill="#666666" stroke="#d6d6d6" stroke-width="2.0"/>
<ellipse cx="416.2" cy="106.3" rx="3.0" ry="2.5" transform="rotate(0 416.2 106.3)" fill="#7a7a7a" stroke="#dedede" stroke-width="2.0"/>
<ellipse cx="387.3" cy="73.8" rx="2.5" ry="2.5" transform="rotate(0 387.3 73.8)" fill="#5e5e5e" stroke="#cdcdcd" stroke-width="2.0"/>
<ellipse cx="276.4" cy="52" rx="2.5" ry="3.5" transform="rotate(0 276.4 52)" fill="#888888" stroke="#c0c0c0" stroke-width="2.0"/>
<ellipse cx="447.5" cy="67.7" rx="2.5" ry="3.5" transform="rotate(0 447.5 67.7)" fill="#666666" stroke="#d6d6d6" stroke-width="2.0"/>
<ellipse cx="447.5" cy="111" rx="3.0" ry="3.0" transform="rotate(0 447.5 111)" fill="#7a7a7a" stroke="#dedede" stroke-width="2.0"/>
<ellipse cx="310" cy="111" rx="2.5" ry="2.5" transform="rotate(0 310 111)" fill="#5e5e5e" stroke="#cdcdcd" stroke-width="2.0"/>
<ellipse cx="346.3" cy="111" rx="2.5" ry="2.5" transform="rotate(0 346.3 111)" fill="#888888" stroke="#c0c0c0" stroke-width="2.0"/>
<ellipse cx="406.5" cy="103.9" rx="2.5" ry="3.0" transform="rotate(0 406.5 103.9)" fill="#666666" stroke="#d6d6d6" stroke-width="2.0"/>
<ellipse cx="336.7" cy="117.2" rx="2.6" ry="6.5" transform="rotate(10 336.7 117.2)" fill="#a4a4a4" stroke="#dedede" stroke-width="2.0"/>
<ellipse cx="347.5" cy="126.9" rx="3.5" ry="5.0" transform="rotate(30 347.5 126.9)" fill="#5e5e5e" stroke="#cdcdcd" stroke-width="2.0"/>
<ellipse cx="312.6" cy="125.7" rx="4.0" ry="3.5" transform="rotate(0 312.6 125.7)" fill="#888888" stroke="#c0c0c0" stroke-width="2.0"/>
<ellipse cx="322.2" cy="138.9" rx="3.0" ry="7.0" transform="rotate(15 322.2 138.9)" fill="#a4a4a4" stroke="#d6d6d6" stroke-width="2.0"/>
<ellipse cx="312.6" cy="153.4" rx="3.0" ry="3.0" transform="rotate(0 312.6 153.4)" fill="#7a7a7a" stroke="#dedede" stroke-width="2.0"/>
<ellipse cx="295.7" cy="165.4" rx="6.0" ry="5.5" transform="rotate(0 295.7 165.4)" fill="#a4a4a4" stroke="#cdcdcd" stroke-width="2.0"/>
<ellipse cx="307.7" cy="167.8" rx="7.0" ry="4.0" transform="rotate(0 307.7 167.8)" fill="#a4a4a4" stroke="#c0c0c0" stroke-width="2.0"/>
<ellipse cx="380" cy="164.2" rx="8.5" ry="5.0" transform="rotate(-10 380 164.2)" fill="#a4a4a4" stroke="#d6d6d6" stroke-width="2.0"/>
<ellipse cx="404.1" cy="172.7" rx="5.5" ry="4.0" transform="rotate(10 404.1 172.7)" fill="#a4a4a4" stroke="#dedede" stroke-width="2.0"/>
<ellipse cx="382.4" cy="112.4" rx="5.0" ry="3.0" transform="rotate(0 382.4 112.4)" fill="#5e5e5e" stroke="#cdcdcd" stroke-width="2.0"/>
<ellipse cx="375.2" cy="124.5" rx="3.0" ry="3.0" transform="rotate(0 375.2 124.5)" fill="#888888" stroke="#c0c0c0" stroke-width="2.0"/>
<ellipse cx="363.2" cy="122" rx="3.0" ry="2.5" transform="rotate(0 363.2 122)" fill="#666666" stroke="#d6d6d6" stroke-width="2.0"/>
<ellipse cx="386" cy="149.8" rx="3.0" ry="3.0" transform="rotate(0 386 149.8)" fill="#7a7a7a" stroke="#dedede" stroke-width="2.0"/>
<ellipse cx="372.8" cy="134.1" rx="3.0" ry="2.5" transform="rotate(0 372.8 134.1)" fill="#5e5e5e" stroke="#cdcdcd" stroke-width="2.0"/>
<ellipse cx="418.6" cy="152.2" rx="2.5" ry="5.0" transform="rotate(20 418.6 152.2)" fill="#888888" stroke="#c0c0c0" stroke-width="2.0"/>
<ellipse cx="425.8" cy="119.6" rx="3.0" ry="3.0" transform="rotate(0 425.8 119.6)" fill="#666666" stroke="#d6d6d6" stroke-width="2.0"/>
<ellipse cx="447.5" cy="117.2" rx="2.5" ry="3.5" transform="rotate(0 447.5 117.2)" fill="#7a7a7a" stroke="#dedede" stroke-width="2.0"/>
<ellipse cx="447.5" cy="134.1" rx="2.5" ry="3.0" transform="rotate(0 447.5 134.1)" fill="#5e5e5e" stroke="#cdcdcd" stroke-width="2.0"/>
<ellipse cx="442.7" cy="143.7" rx="2.5" ry="3.0" transform="rotate(0 442.7 143.7)" fill="#888888" stroke="#c0c0c0" stroke-width="2.0"/>
<ellipse cx="276.4" cy="153.4" rx="2.5" ry="4.0" transform="rotate(0 276.4 153.4)" fill="#666666" stroke="#d6d6d6" stroke-width="2.0"/>
<ellipse cx="327" cy="189.5" rx="3.5" ry="2.5" transform="rotate(0 327 189.5)" fill="#7a7a7a" stroke="#dedede" stroke-width="2.0"/>
<ellipse cx="418.6" cy="136.5" rx="2.5" ry="2.5" transform="rotate(0 418.6 136.5)" fill="#5e5e5e" stroke="#cdcdcd" stroke-width="2.0"/>
<ellipse cx="390.9" cy="141.3" rx="2.5" ry="2.5" transform="rotate(0 390.9 141.3)" fill="#888888" stroke="#c0c0c0" stroke-width="2.0"/>
<ellipse cx="333" cy="141.3" rx="2.5" ry="2.5" transform="rotate(0 333 141.3)" fill="#666666" stroke="#d6d6d6" stroke-width="2.0"/>
<ellipse cx="281.2" cy="122" rx="2.5" ry="2.5" transform="rotate(0 281.2 122)" fill="#7a7a7a" stroke="#dedede" stroke-width="2.0"/>
</g></g>
<rect x="418.8" y="178.5" width="34.2" height="16.5" fill="#fff"/>
<text x="435.6" y="187.5" font-size="7.6" text-anchor="middle" font-weight="bold" font-style="normal" fill="#222" stroke="#222" stroke-width="0.25">10 &#956;m</text>
<path d="M425.2 190.8 V192.7 H446 V190.8" fill="none" stroke="#333" stroke-width="1.3"/>
<text x="506.4" y="28.2" font-size="13.5" text-anchor="start" font-weight="bold" font-style="normal" fill="#222" stroke="#222" stroke-width="0.25">(c)</text>
<rect x="525" y="34" width="178.5" height="161" fill="#777"/>
<rect x="525" y="34" width="178.5" height="161" filter="url(#semc)"/>
<rect x="669.3" y="178.8" width="34.2" height="16.2" fill="#fff"/>
<text x="686.3" y="187.8" font-size="7.6" text-anchor="middle" font-weight="bold" font-style="normal" fill="#222" stroke="#222" stroke-width="0.25">10 &#956;m</text>
<path d="M675.3 191.1 V193 H697.3 V191.1" fill="none" stroke="#333" stroke-width="1.3"/>
<text x="17.1" y="219.6" font-size="13.5" text-anchor="start" font-weight="bold" font-style="normal" fill="#222" stroke="#222" stroke-width="0.25">(d)</text>
<path d="M54.5 238.3 C55.63 238.3 59.05 238.3 61.3 238.3 C63.55 238.3 65.8 238.52 68 238.3 C70.2 238.08 72.28 237.22 74.5 237 C76.72 236.78 79.13 236.92 81.3 237 C83.47 237.08 85.33 237.2 87.5 237.5 C89.67 237.8 92.13 238.17 94.3 238.8 C96.47 239.43 98.38 240.47 100.5 241.3 C102.62 242.13 104.78 242.97 107 243.8 C109.22 244.63 111.63 245.77 113.8 246.3 C115.97 246.83 117.8 246.8 120 247 C122.2 247.2 124.7 247.28 127 247.5 C129.3 247.72 131.63 248.3 133.8 248.3 C135.97 248.3 137.8 247.72 140 247.5 C142.2 247.28 144.73 246.95 147 247 C149.27 247.05 151.37 247.73 153.6 247.8 C155.83 247.87 158.23 247.25 160.4 247.4 C162.57 247.55 164.45 247.62 166.6 248.7 C168.75 249.78 171.1 252.07 173.3 253.9 C175.5 255.73 177.6 258.23 179.8 259.7 C182 261.17 184.23 261.58 186.5 262.7 C188.77 263.82 191.1 265.78 193.4 266.4 C195.7 267.02 198.15 269.25 200.3 266.4 C202.45 263.55 204.72 255.45 206.3 249.3 C207.88 243.15 209.22 232.8 209.8 229.5" fill="none" stroke="#3a3a3a" stroke-width="1.2" />
<path d="M54.5 317.5 C55.63 317.42 59.05 317.08 61.3 317 C63.55 316.92 65.8 317 68 317 C70.2 317 72.28 317.33 74.5 317 C76.72 316.67 79.13 315.75 81.3 315 C83.47 314.25 85.33 313.42 87.5 312.5 C89.67 311.58 92.13 310.12 94.3 309.5 C96.47 308.88 98.38 308.75 100.5 308.75 C102.62 308.75 104.78 309.29 107 309.5 C109.22 309.71 111.63 309.92 113.8 310 C115.97 310.08 117.8 310 120 310 C122.2 310 124.7 309.67 127 310 C129.3 310.33 131.63 311.25 133.8 312 C135.97 312.75 137.8 314.08 140 314.5 C142.2 314.92 144.73 315.04 147 314.5 C149.27 313.96 151.37 312.42 153.6 311.25 C155.83 310.08 158.23 308.46 160.4 307.5 C162.57 306.54 164.45 305.08 166.6 305.5 C168.75 305.92 171.1 308.62 173.3 310 C175.5 311.38 177.6 312.71 179.8 313.75 C182 314.79 184.23 315.62 186.5 316.25 C188.77 316.88 191.1 317.92 193.4 317.5 C195.7 317.08 198.15 315.42 200.3 313.75 C202.45 312.08 204.72 309.58 206.3 307.5 C207.88 305.42 209.22 302.29 209.8 301.25" fill="none" stroke="#3a3a3a" stroke-width="1.2" />
<path d="M54.5 314.5 C55.63 314.25 59.05 313.21 61.3 313 C63.55 312.79 65.8 313.21 68 313.25 C70.2 313.29 72.28 314 74.5 313.25 C76.72 312.5 79.13 310.46 81.3 308.75 C83.47 307.04 85.33 305.08 87.5 303 C89.67 300.92 92.13 297.67 94.3 296.25 C96.47 294.83 98.38 294.92 100.5 294.5 C102.62 294.08 104.78 294.17 107 293.75 C109.22 293.33 111.63 292.54 113.8 292 C115.97 291.46 117.8 290.62 120 290.5 C122.2 290.38 124.7 290.5 127 291.25 C129.3 292 131.63 293.54 133.8 295 C135.97 296.46 137.8 299.17 140 300 C142.2 300.83 144.73 301.04 147 300 C149.27 298.96 151.37 296.25 153.6 293.75 C155.83 291.25 158.23 287.21 160.4 285 C162.57 282.79 164.45 280.71 166.6 280.5 C168.75 280.29 171.1 282.38 173.3 283.75 C175.5 285.12 177.6 287.29 179.8 288.75 C182 290.21 184.23 292.29 186.5 292.5 C188.77 292.71 191.1 292.17 193.4 290 C195.7 287.83 198.15 280.83 200.3 279.5 C202.45 278.17 204.72 280.33 206.3 282 C207.88 283.67 209.22 288.25 209.8 289.5" fill="none" stroke="#4a7ee0" stroke-width="1.3" />
<path d="M54.5 236.37 L56.65 240.24 L52.35 240.24 Z" fill="#3a3a3a"/>
<path d="M61.3 236.37 L63.45 240.24 L59.15 240.24 Z" fill="#3a3a3a"/>
<path d="M68 236.37 L70.15 240.24 L65.85 240.24 Z" fill="#3a3a3a"/>
<path d="M74.5 235.06 L76.65 238.94 L72.35 238.94 Z" fill="#3a3a3a"/>
<path d="M81.3 235.06 L83.45 238.94 L79.15 238.94 Z" fill="#3a3a3a"/>
<path d="M87.5 235.56 L89.65 239.44 L85.35 239.44 Z" fill="#3a3a3a"/>
<path d="M94.3 236.87 L96.45 240.74 L92.15 240.74 Z" fill="#3a3a3a"/>
<path d="M100.5 239.37 L102.65 243.24 L98.35 243.24 Z" fill="#3a3a3a"/>
<path d="M107 241.87 L109.15 245.74 L104.85 245.74 Z" fill="#3a3a3a"/>
<path d="M113.8 244.37 L115.95 248.24 L111.65 248.24 Z" fill="#3a3a3a"/>
<path d="M120 245.06 L122.15 248.94 L117.85 248.94 Z" fill="#3a3a3a"/>
<path d="M127 245.56 L129.15 249.44 L124.85 249.44 Z" fill="#3a3a3a"/>
<path d="M133.8 246.37 L135.95 250.24 L131.65 250.24 Z" fill="#3a3a3a"/>
<path d="M140 245.56 L142.15 249.44 L137.85 249.44 Z" fill="#3a3a3a"/>
<path d="M147 245.06 L149.15 248.94 L144.85 248.94 Z" fill="#3a3a3a"/>
<path d="M153.6 245.87 L155.75 249.74 L151.45 249.74 Z" fill="#3a3a3a"/>
<path d="M160.4 245.47 L162.55 249.34 L158.25 249.34 Z" fill="#3a3a3a"/>
<path d="M166.6 246.76 L168.75 250.63 L164.45 250.63 Z" fill="#3a3a3a"/>
<path d="M173.3 251.97 L175.45 255.84 L171.15 255.84 Z" fill="#3a3a3a"/>
<path d="M179.8 257.76 L181.95 261.63 L177.65 261.63 Z" fill="#3a3a3a"/>
<path d="M186.5 260.76 L188.65 264.63 L184.35 264.63 Z" fill="#3a3a3a"/>
<path d="M193.4 264.46 L195.55 268.33 L191.25 268.33 Z" fill="#3a3a3a"/>
<path d="M200.3 264.46 L202.45 268.33 L198.15 268.33 Z" fill="#3a3a3a"/>
<path d="M206.3 247.37 L208.45 251.24 L204.15 251.24 Z" fill="#3a3a3a"/>
<path d="M209.8 227.56 L211.95 231.44 L207.65 231.44 Z" fill="#3a3a3a"/>
<rect x="52.85" y="315.85" width="3.3" height="3.3" fill="#3a3a3a"/>
<rect x="59.65" y="315.35" width="3.3" height="3.3" fill="#3a3a3a"/>
<rect x="66.35" y="315.35" width="3.3" height="3.3" fill="#3a3a3a"/>
<rect x="72.85" y="315.35" width="3.3" height="3.3" fill="#3a3a3a"/>
<rect x="79.65" y="313.35" width="3.3" height="3.3" fill="#3a3a3a"/>
<rect x="85.85" y="310.85" width="3.3" height="3.3" fill="#3a3a3a"/>
<rect x="92.65" y="307.85" width="3.3" height="3.3" fill="#3a3a3a"/>
<rect x="98.85" y="307.1" width="3.3" height="3.3" fill="#3a3a3a"/>
<rect x="105.35" y="307.85" width="3.3" height="3.3" fill="#3a3a3a"/>
<rect x="112.15" y="308.35" width="3.3" height="3.3" fill="#3a3a3a"/>
<rect x="118.35" y="308.35" width="3.3" height="3.3" fill="#3a3a3a"/>
<rect x="125.35" y="308.35" width="3.3" height="3.3" fill="#3a3a3a"/>
<rect x="132.15" y="310.35" width="3.3" height="3.3" fill="#3a3a3a"/>
<rect x="138.35" y="312.85" width="3.3" height="3.3" fill="#3a3a3a"/>
<rect x="145.35" y="312.85" width="3.3" height="3.3" fill="#3a3a3a"/>
<rect x="151.95" y="309.6" width="3.3" height="3.3" fill="#3a3a3a"/>
<rect x="158.75" y="305.85" width="3.3" height="3.3" fill="#3a3a3a"/>
<rect x="164.95" y="303.85" width="3.3" height="3.3" fill="#3a3a3a"/>
<rect x="171.65" y="308.35" width="3.3" height="3.3" fill="#3a3a3a"/>
<rect x="178.15" y="312.1" width="3.3" height="3.3" fill="#3a3a3a"/>
<rect x="184.85" y="314.6" width="3.3" height="3.3" fill="#3a3a3a"/>
<rect x="191.75" y="315.85" width="3.3" height="3.3" fill="#3a3a3a"/>
<rect x="198.65" y="312.1" width="3.3" height="3.3" fill="#3a3a3a"/>
<rect x="204.65" y="305.85" width="3.3" height="3.3" fill="#3a3a3a"/>
<rect x="208.15" y="299.6" width="3.3" height="3.3" fill="#3a3a3a"/>
<circle cx="54.5" cy="314.5" r="1.8" fill="#3a6ad0" stroke="none" stroke-width="0"/>
<circle cx="61.3" cy="313" r="1.8" fill="#3a6ad0" stroke="none" stroke-width="0"/>
<circle cx="68" cy="313.25" r="1.8" fill="#3a6ad0" stroke="none" stroke-width="0"/>
<circle cx="74.5" cy="313.25" r="1.8" fill="#3a6ad0" stroke="none" stroke-width="0"/>
<circle cx="81.3" cy="308.75" r="1.8" fill="#3a6ad0" stroke="none" stroke-width="0"/>
<circle cx="87.5" cy="303" r="1.8" fill="#3a6ad0" stroke="none" stroke-width="0"/>
<circle cx="94.3" cy="296.25" r="1.8" fill="#3a6ad0" stroke="none" stroke-width="0"/>
<circle cx="100.5" cy="294.5" r="1.8" fill="#3a6ad0" stroke="none" stroke-width="0"/>
<circle cx="107" cy="293.75" r="1.8" fill="#3a6ad0" stroke="none" stroke-width="0"/>
<circle cx="113.8" cy="292" r="1.8" fill="#3a6ad0" stroke="none" stroke-width="0"/>
<circle cx="120" cy="290.5" r="1.8" fill="#3a6ad0" stroke="none" stroke-width="0"/>
<circle cx="127" cy="291.25" r="1.8" fill="#3a6ad0" stroke="none" stroke-width="0"/>
<circle cx="133.8" cy="295" r="1.8" fill="#3a6ad0" stroke="none" stroke-width="0"/>
<circle cx="140" cy="300" r="1.8" fill="#3a6ad0" stroke="none" stroke-width="0"/>
<circle cx="147" cy="300" r="1.8" fill="#3a6ad0" stroke="none" stroke-width="0"/>
<circle cx="153.6" cy="293.75" r="1.8" fill="#3a6ad0" stroke="none" stroke-width="0"/>
<circle cx="160.4" cy="285" r="1.8" fill="#3a6ad0" stroke="none" stroke-width="0"/>
<circle cx="166.6" cy="280.5" r="1.8" fill="#3a6ad0" stroke="none" stroke-width="0"/>
<circle cx="173.3" cy="283.75" r="1.8" fill="#3a6ad0" stroke="none" stroke-width="0"/>
<circle cx="179.8" cy="288.75" r="1.8" fill="#3a6ad0" stroke="none" stroke-width="0"/>
<circle cx="186.5" cy="292.5" r="1.8" fill="#3a6ad0" stroke="none" stroke-width="0"/>
<circle cx="193.4" cy="290" r="1.8" fill="#3a6ad0" stroke="none" stroke-width="0"/>
<circle cx="200.3" cy="279.5" r="1.8" fill="#3a6ad0" stroke="none" stroke-width="0"/>
<circle cx="206.3" cy="282" r="1.8" fill="#3a6ad0" stroke="none" stroke-width="0"/>
<circle cx="209.8" cy="289.5" r="1.8" fill="#3a6ad0" stroke="none" stroke-width="0"/>
<path d="M45.1 217.6 H220.0 V358.5 H45.1 Z" fill="none" stroke="#3c3c3c" stroke-width="1.4"/>
<line x1="220" y1="217.6" x2="220" y2="358.5" stroke="#5a7cc0" stroke-width="1.3" />
<line x1="54.7" y1="358.5" x2="54.7" y2="355.5" stroke="#3c3c3c" stroke-width="1.0" />
<text x="54.7" y="369.6" font-size="9.0" text-anchor="middle" font-weight="bold" font-style="normal" fill="#222" stroke="#222" stroke-width="0.25">2</text>
<line x1="74.1" y1="358.5" x2="74.1" y2="355.5" stroke="#3c3c3c" stroke-width="1.0" />
<text x="74.1" y="369.6" font-size="9.0" text-anchor="middle" font-weight="bold" font-style="normal" fill="#222" stroke="#222" stroke-width="0.25">4</text>
<line x1="93.5" y1="358.5" x2="93.5" y2="355.5" stroke="#3c3c3c" stroke-width="1.0" />
<text x="93.5" y="369.6" font-size="9.0" text-anchor="middle" font-weight="bold" font-style="normal" fill="#222" stroke="#222" stroke-width="0.25">6</text>
<line x1="112.9" y1="358.5" x2="112.9" y2="355.5" stroke="#3c3c3c" stroke-width="1.0" />
<text x="112.9" y="369.6" font-size="9.0" text-anchor="middle" font-weight="bold" font-style="normal" fill="#222" stroke="#222" stroke-width="0.25">8</text>
<line x1="132.3" y1="358.5" x2="132.3" y2="355.5" stroke="#3c3c3c" stroke-width="1.0" />
<text x="132.3" y="369.6" font-size="9.0" text-anchor="middle" font-weight="bold" font-style="normal" fill="#222" stroke="#222" stroke-width="0.25">10</text>
<line x1="151.7" y1="358.5" x2="151.7" y2="355.5" stroke="#3c3c3c" stroke-width="1.0" />
<text x="151.7" y="369.6" font-size="9.0" text-anchor="middle" font-weight="bold" font-style="normal" fill="#222" stroke="#222" stroke-width="0.25">12</text>
<line x1="171.1" y1="358.5" x2="171.1" y2="355.5" stroke="#3c3c3c" stroke-width="1.0" />
<text x="171.1" y="369.6" font-size="9.0" text-anchor="middle" font-weight="bold" font-style="normal" fill="#222" stroke="#222" stroke-width="0.25">14</text>
<line x1="190.5" y1="358.5" x2="190.5" y2="355.5" stroke="#3c3c3c" stroke-width="1.0" />
<text x="190.5" y="369.6" font-size="9.0" text-anchor="middle" font-weight="bold" font-style="normal" fill="#222" stroke="#222" stroke-width="0.25">16</text>
<line x1="209.9" y1="358.5" x2="209.9" y2="355.5" stroke="#3c3c3c" stroke-width="1.0" />
<text x="209.9" y="369.6" font-size="9.0" text-anchor="middle" font-weight="bold" font-style="normal" fill="#222" stroke="#222" stroke-width="0.25">18</text>
<line x1="64.4" y1="358.5" x2="64.4" y2="356.8" stroke="#3c3c3c" stroke-width="1.0" />
<line x1="83.8" y1="358.5" x2="83.8" y2="356.8" stroke="#3c3c3c" stroke-width="1.0" />
<line x1="103.2" y1="358.5" x2="103.2" y2="356.8" stroke="#3c3c3c" stroke-width="1.0" />
<line x1="122.6" y1="358.5" x2="122.6" y2="356.8" stroke="#3c3c3c" stroke-width="1.0" />
<line x1="142" y1="358.5" x2="142" y2="356.8" stroke="#3c3c3c" stroke-width="1.0" />
<line x1="161.4" y1="358.5" x2="161.4" y2="356.8" stroke="#3c3c3c" stroke-width="1.0" />
<line x1="180.8" y1="358.5" x2="180.8" y2="356.8" stroke="#3c3c3c" stroke-width="1.0" />
<line x1="200.2" y1="358.5" x2="200.2" y2="356.8" stroke="#3c3c3c" stroke-width="1.0" />
<line x1="45.1" y1="357.6" x2="48.1" y2="357.6" stroke="#3c3c3c" stroke-width="1.0" />
<text x="41.6" y="360.7" font-size="9.0" text-anchor="end" font-weight="bold" font-style="normal" fill="#222" stroke="#222" stroke-width="0.25">0</text>
<line x1="45.1" y1="348.29" x2="46.8" y2="348.29" stroke="#3c3c3c" stroke-width="1.0" />
<line x1="45.1" y1="338.97" x2="48.1" y2="338.97" stroke="#3c3c3c" stroke-width="1.0" />
<text x="41.6" y="342.07" font-size="9.0" text-anchor="end" font-weight="bold" font-style="normal" fill="#222" stroke="#222" stroke-width="0.25">1</text>
<line x1="45.1" y1="329.66" x2="46.8" y2="329.66" stroke="#3c3c3c" stroke-width="1.0" />
<line x1="45.1" y1="320.34" x2="48.1" y2="320.34" stroke="#3c3c3c" stroke-width="1.0" />
<text x="41.6" y="323.44" font-size="9.0" text-anchor="end" font-weight="bold" font-style="normal" fill="#222" stroke="#222" stroke-width="0.25">2</text>
<line x1="45.1" y1="311.03" x2="46.8" y2="311.03" stroke="#3c3c3c" stroke-width="1.0" />
<line x1="45.1" y1="301.71" x2="48.1" y2="301.71" stroke="#3c3c3c" stroke-width="1.0" />
<text x="41.6" y="304.81" font-size="9.0" text-anchor="end" font-weight="bold" font-style="normal" fill="#222" stroke="#222" stroke-width="0.25">3</text>
<line x1="45.1" y1="292.4" x2="46.8" y2="292.4" stroke="#3c3c3c" stroke-width="1.0" />
<line x1="45.1" y1="283.08" x2="48.1" y2="283.08" stroke="#3c3c3c" stroke-width="1.0" />
<text x="41.6" y="286.18" font-size="9.0" text-anchor="end" font-weight="bold" font-style="normal" fill="#222" stroke="#222" stroke-width="0.25">4</text>
<line x1="45.1" y1="273.77" x2="46.8" y2="273.77" stroke="#3c3c3c" stroke-width="1.0" />
<line x1="45.1" y1="264.45" x2="48.1" y2="264.45" stroke="#3c3c3c" stroke-width="1.0" />
<text x="41.6" y="267.55" font-size="9.0" text-anchor="end" font-weight="bold" font-style="normal" fill="#222" stroke="#222" stroke-width="0.25">5</text>
<line x1="45.1" y1="255.14" x2="46.8" y2="255.14" stroke="#3c3c3c" stroke-width="1.0" />
<line x1="45.1" y1="245.82" x2="48.1" y2="245.82" stroke="#3c3c3c" stroke-width="1.0" />
<text x="41.6" y="248.92" font-size="9.0" text-anchor="end" font-weight="bold" font-style="normal" fill="#222" stroke="#222" stroke-width="0.25">6</text>
<line x1="45.1" y1="236.51" x2="46.8" y2="236.51" stroke="#3c3c3c" stroke-width="1.0" />
<line x1="45.1" y1="227.19" x2="48.1" y2="227.19" stroke="#3c3c3c" stroke-width="1.0" />
<text x="41.6" y="230.29" font-size="9.0" text-anchor="end" font-weight="bold" font-style="normal" fill="#222" stroke="#222" stroke-width="0.25">7</text>
<line x1="220" y1="357.6" x2="217" y2="357.6" stroke="#5a7cc0" stroke-width="1.0" />
<line x1="220" y1="348.29" x2="218.3" y2="348.29" stroke="#5a7cc0" stroke-width="1.0" />
<line x1="220" y1="338.97" x2="217" y2="338.97" stroke="#5a7cc0" stroke-width="1.0" />
<line x1="220" y1="329.66" x2="218.3" y2="329.66" stroke="#5a7cc0" stroke-width="1.0" />
<line x1="220" y1="320.34" x2="217" y2="320.34" stroke="#5a7cc0" stroke-width="1.0" />
<line x1="220" y1="311.03" x2="218.3" y2="311.03" stroke="#5a7cc0" stroke-width="1.0" />
<line x1="220" y1="301.71" x2="217" y2="301.71" stroke="#5a7cc0" stroke-width="1.0" />
<line x1="220" y1="292.4" x2="218.3" y2="292.4" stroke="#5a7cc0" stroke-width="1.0" />
<line x1="220" y1="283.08" x2="217" y2="283.08" stroke="#5a7cc0" stroke-width="1.0" />
<line x1="220" y1="273.77" x2="218.3" y2="273.77" stroke="#5a7cc0" stroke-width="1.0" />
<line x1="220" y1="264.45" x2="217" y2="264.45" stroke="#5a7cc0" stroke-width="1.0" />
<line x1="220" y1="255.14" x2="218.3" y2="255.14" stroke="#5a7cc0" stroke-width="1.0" />
<line x1="220" y1="245.82" x2="217" y2="245.82" stroke="#5a7cc0" stroke-width="1.0" />
<line x1="220" y1="236.51" x2="218.3" y2="236.51" stroke="#5a7cc0" stroke-width="1.0" />
<line x1="220" y1="227.19" x2="217" y2="227.19" stroke="#5a7cc0" stroke-width="1.0" />
<text x="223.5" y="350.4" font-size="9.0" text-anchor="start" font-weight="bold" font-style="normal" fill="#4a5f98" stroke="#4a5f98" stroke-width="0.25">0.2</text>
<text x="223.5" y="326.8" font-size="9.0" text-anchor="start" font-weight="bold" font-style="normal" fill="#4a5f98" stroke="#4a5f98" stroke-width="0.25">0.3</text>
<text x="223.5" y="303.2" font-size="9.0" text-anchor="start" font-weight="bold" font-style="normal" fill="#4a5f98" stroke="#4a5f98" stroke-width="0.25">0.4</text>
<text x="223.5" y="279.6" font-size="9.0" text-anchor="start" font-weight="bold" font-style="normal" fill="#4a5f98" stroke="#4a5f98" stroke-width="0.25">0.5</text>
<text x="223.5" y="256" font-size="9.0" text-anchor="start" font-weight="bold" font-style="normal" fill="#4a5f98" stroke="#4a5f98" stroke-width="0.25">0.6</text>
<text x="223.5" y="232.4" font-size="9.0" text-anchor="start" font-weight="bold" font-style="normal" fill="#4a5f98" stroke="#4a5f98" stroke-width="0.25">0.7</text>
<text x="133" y="381.6" font-size="10.6" text-anchor="middle" font-weight="bold" font-style="normal" fill="#222" stroke="#222" stroke-width="0.25">Frequency (GHz)</text>
<text x="29.2" y="288.4" font-size="10.2" text-anchor="middle" font-weight="bold" font-style="normal" fill="#222" stroke="#222" stroke-width="0.25" transform="rotate(-90 29.2 288.4)">Permittivity</text>
<text x="244.3" y="284.5" font-size="10.0" text-anchor="middle" font-weight="bold" font-style="normal" fill="#4a5f98" stroke="#4a5f98" stroke-width="0.25" transform="rotate(-90 244.3 284.5)">tan &#948;<tspan font-size="6" dy="2">&#949;</tspan></text>
<line x1="93.8" y1="225.8" x2="112.3" y2="225.8" stroke="#555" stroke-width="1.0" />
<path d="M103 224.18 L104.8 227.42 L101.2 227.42 Z" fill="#333"/>
<text x="113.8" y="228.4" font-size="7.5" text-anchor="start" font-weight="normal" font-style="italic" fill="#444">&#949;'</text>
<line x1="125.2" y1="225.8" x2="143.6" y2="225.8" stroke="#555" stroke-width="1.0" />
<rect x="132.6" y="224.4" width="2.8" height="2.8" fill="#333"/>
<text x="145" y="228.4" font-size="7.5" text-anchor="start" font-weight="normal" font-style="italic" fill="#444">&#949;''</text>
<line x1="158.9" y1="225.8" x2="177.4" y2="225.8" stroke="#4a7ee0" stroke-width="1.3" />
<circle cx="167.7" cy="225.8" r="1.5" fill="#2e62c0" stroke="none" stroke-width="0"/>
<text x="179.2" y="228.8" font-size="8.6" text-anchor="start" font-weight="bold" font-style="normal" fill="#333" stroke="#333" stroke-width="0.25">tan &#948;<tspan font-size="5.5" dy="1.8">&#949;</tspan></text>
<text x="257.5" y="215.6" font-size="13.5" text-anchor="start" font-weight="bold" font-style="normal" fill="#222" stroke="#222" stroke-width="0.25">(e)</text>
<rect x="279.5" y="261.7" width="175.2" height="33.2" fill="#fbd3d6"/>
<line x1="279.7" y1="278.3" x2="454.7" y2="278.3" stroke="#e0414f" stroke-width="1.6" stroke-dasharray="6 4.3"/>
<path d="M279.5 358.4 L279.94 358.35 L280.38 358.31 L280.82 358.26 L281.26 358.21 L281.7 358.17 L282.13 358.12 L282.57 358.08 L283.01 358.03 L283.45 357.98 L283.89 357.93 L284.33 357.89 L284.77 357.84 L285.21 357.79 L285.65 357.74 L286.09 357.69 L286.53 357.65 L286.96 357.6 L287.4 357.55 L287.84 357.5 L288.28 357.45 L288.72 357.4 L289.16 357.35 L289.6 357.3 L290.04 357.25 L290.48 357.19 L290.92 357.14 L291.36 357.09 L291.79 357.04 L292.23 356.99 L292.67 356.94 L293.11 356.88 L293.55 356.83 L293.99 356.78 L294.43 356.72 L294.87 356.67 L295.31 356.62 L295.75 356.56 L296.19 356.51 L296.62 356.45 L297.06 356.4 L297.5 356.34 L297.94 356.29 L298.38 356.23 L298.82 356.18 L299.26 356.12 L299.7 356.06 L300.14 356.01 L300.58 355.95 L301.02 355.89 L301.45 355.84 L301.89 355.78 L302.33 355.72 L302.77 355.66 L303.21 355.61 L303.65 355.55 L304.09 355.49 L304.53 355.43 L304.97 355.37 L305.41 355.31 L305.85 355.25 L306.28 355.19 L306.72 355.13 L307.16 355.07 L307.6 355.01 L308.04 354.95 L308.48 354.89 L308.92 354.83 L309.36 354.77 L309.8 354.71 L310.24 354.65 L310.68 354.59 L311.12 354.52 L311.55 354.46 L311.99 354.4 L312.43 354.34 L312.87 354.27 L313.31 354.21 L313.75 354.15 L314.19 354.08 L314.63 354.02 L315.07 353.96 L315.51 353.89 L315.95 353.83 L316.38 353.76 L316.82 353.7 L317.26 353.63 L317.7 353.57 L318.14 353.5 L318.58 353.44 L319.02 353.37 L319.46 353.31 L319.9 353.24 L320.34 353.17 L320.78 353.11 L321.21 353.04 L321.65 352.97 L322.09 352.91 L322.53 352.84 L322.97 352.77 L323.41 352.7 L323.85 352.63 L324.29 352.57 L324.73 352.5 L325.17 352.43 L325.61 352.36 L326.04 352.29 L326.48 352.22 L326.92 352.15 L327.36 352.08 L327.8 352.02 L328.24 351.95 L328.68 351.88 L329.12 351.81 L329.56 351.73 L330 351.66 L330.44 351.59 L330.87 351.52 L331.31 351.45 L331.75 351.38 L332.19 351.31 L332.63 351.24 L333.07 351.17 L333.51 351.09 L333.95 351.02 L334.39 350.95 L334.83 350.88 L335.27 350.8 L335.7 350.73 L336.14 350.66 L336.58 350.59 L337.02 350.51 L337.46 350.44 L337.9 350.37 L338.34 350.29 L338.78 350.22 L339.22 350.14 L339.66 350.07 L340.1 350 L340.53 349.92 L340.97 349.85 L341.41 349.77 L341.85 349.7 L342.29 349.62 L342.73 349.55 L343.17 349.47 L343.61 349.39 L344.05 349.32 L344.49 349.24 L344.93 349.17 L345.36 349.09 L345.8 349.01 L346.24 348.94 L346.68 348.86 L347.12 348.78 L347.56 348.71 L348 348.63 L348.44 348.55 L348.88 348.47 L349.32 348.4 L349.76 348.32 L350.19 348.24 L350.63 348.16 L351.07 348.09 L351.51 348.01 L351.95 347.93 L352.39 347.85 L352.83 347.77 L353.27 347.69 L353.71 347.61 L354.15 347.53 L354.59 347.45 L355.02 347.38 L355.46 347.3 L355.9 347.22 L356.34 347.14 L356.78 347.06 L357.22 346.98 L357.66 346.9 L358.1 346.82 L358.54 346.74 L358.98 346.65 L359.42 346.57 L359.85 346.49 L360.29 346.41 L360.73 346.33 L361.17 346.25 L361.61 346.17 L362.05 346.09 L362.49 346.01 L362.93 345.92 L363.37 345.84 L363.81 345.76 L364.25 345.68 L364.68 345.6 L365.12 345.51 L365.56 345.43 L366 345.35 L366.44 345.27 L366.88 345.18 L367.32 345.1 L367.76 345.01 L368.2 344.93 L368.64 344.84 L369.08 344.76 L369.52 344.67 L369.95 344.59 L370.39 344.5 L370.83 344.42 L371.27 344.33 L371.71 344.24 L372.15 344.16 L372.59 344.07 L373.03 343.98 L373.47 343.89 L373.91 343.8 L374.35 343.72 L374.78 343.63 L375.22 343.54 L375.66 343.45 L376.1 343.36 L376.54 343.27 L376.98 343.18 L377.42 343.09 L377.86 342.99 L378.3 342.9 L378.74 342.81 L379.18 342.72 L379.61 342.63 L380.05 342.53 L380.49 342.44 L380.93 342.35 L381.37 342.25 L381.81 342.16 L382.25 342.07 L382.69 341.97 L383.13 341.88 L383.57 341.78 L384.01 341.69 L384.44 341.59 L384.88 341.5 L385.32 341.4 L385.76 341.3 L386.2 341.21 L386.64 341.11 L387.08 341.01 L387.52 340.92 L387.96 340.82 L388.4 340.72 L388.84 340.62 L389.27 340.52 L389.71 340.42 L390.15 340.32 L390.59 340.23 L391.03 340.13 L391.47 340.03 L391.91 339.93 L392.35 339.82 L392.79 339.72 L393.23 339.62 L393.67 339.52 L394.1 339.42 L394.54 339.32 L394.98 339.22 L395.42 339.11 L395.86 339.01 L396.3 338.91 L396.74 338.8 L397.18 338.7 L397.62 338.6 L398.06 338.49 L398.5 338.39 L398.93 338.28 L399.37 338.18 L399.81 338.07 L400.25 337.97 L400.69 337.86 L401.13 337.76 L401.57 337.65 L402.01 337.54 L402.45 337.44 L402.89 337.33 L403.33 337.22 L403.76 337.12 L404.2 337.01 L404.64 336.9 L405.08 336.79 L405.52 336.68 L405.96 336.58 L406.4 336.47 L406.84 336.36 L407.28 336.25 L407.72 336.14 L408.16 336.03 L408.59 335.92 L409.03 335.81 L409.47 335.7 L409.91 335.59 L410.35 335.47 L410.79 335.36 L411.23 335.25 L411.67 335.14 L412.11 335.03 L412.55 334.92 L412.99 334.8 L413.42 334.69 L413.86 334.58 L414.3 334.46 L414.74 334.35 L415.18 334.24 L415.62 334.12 L416.06 334.01 L416.5 333.89 L416.94 333.78 L417.38 333.66 L417.82 333.55 L418.25 333.43 L418.69 333.32 L419.13 333.2 L419.57 333.09 L420.01 332.97 L420.45 332.85 L420.89 332.74 L421.33 332.62 L421.77 332.5 L422.21 332.38 L422.65 332.27 L423.08 332.15 L423.52 332.03 L423.96 331.91 L424.4 331.79 L424.84 331.67 L425.28 331.56 L425.72 331.44 L426.16 331.32 L426.6 331.2 L427.04 331.08 L427.48 330.96 L427.92 330.84 L428.35 330.72 L428.79 330.6 L429.23 330.47 L429.67 330.35 L430.11 330.23 L430.55 330.11 L430.99 329.99 L431.43 329.87 L431.87 329.74 L432.31 329.62 L432.75 329.5 L433.18 329.38 L433.62 329.25 L434.06 329.13 L434.5 329.01 L434.94 328.88 L435.38 328.76 L435.82 328.63 L436.26 328.51 L436.7 328.39 L437.14 328.26 L437.58 328.14 L438.01 328.01 L438.45 327.89 L438.89 327.76 L439.33 327.64 L439.77 327.51 L440.21 327.38 L440.65 327.26 L441.09 327.13 L441.53 327 L441.97 326.88 L442.41 326.75 L442.84 326.62 L443.28 326.5 L443.72 326.37 L444.16 326.24 L444.6 326.11 L445.04 325.98 L445.48 325.86 L445.92 325.73 L446.36 325.6 L446.8 325.47 L447.24 325.34 L447.67 325.21 L448.11 325.08 L448.55 324.95 L448.99 324.82 L449.43 324.69 L449.87 324.56 L450.31 324.43 L450.75 324.3 L451.19 324.17 L451.63 324.04 L452.07 323.91 L452.5 323.78 L452.94 323.65 L453.38 323.52 L453.82 323.38 L454.26 323.25 L454.7 323.12" fill="none" stroke="#808080" stroke-width="1.2" stroke-linejoin="round" />
<circle cx="279.5" cy="358.4" r="1.45" fill="#5c5c5c" stroke="none" stroke-width="0"/>
<circle cx="281.77" cy="358.16" r="1.45" fill="#5c5c5c" stroke="none" stroke-width="0"/>
<circle cx="284.03" cy="357.92" r="1.45" fill="#5c5c5c" stroke="none" stroke-width="0"/>
<circle cx="286.3" cy="357.67" r="1.45" fill="#5c5c5c" stroke="none" stroke-width="0"/>
<circle cx="288.57" cy="357.42" r="1.45" fill="#5c5c5c" stroke="none" stroke-width="0"/>
<circle cx="290.84" cy="357.15" r="1.45" fill="#5c5c5c" stroke="none" stroke-width="0"/>
<circle cx="293.1" cy="356.88" r="1.45" fill="#5c5c5c" stroke="none" stroke-width="0"/>
<circle cx="295.37" cy="356.61" r="1.45" fill="#5c5c5c" stroke="none" stroke-width="0"/>
<circle cx="297.64" cy="356.33" r="1.45" fill="#5c5c5c" stroke="none" stroke-width="0"/>
<circle cx="299.91" cy="356.04" r="1.45" fill="#5c5c5c" stroke="none" stroke-width="0"/>
<circle cx="302.17" cy="355.74" r="1.45" fill="#5c5c5c" stroke="none" stroke-width="0"/>
<circle cx="304.44" cy="355.44" r="1.45" fill="#5c5c5c" stroke="none" stroke-width="0"/>
<circle cx="306.71" cy="355.14" r="1.45" fill="#5c5c5c" stroke="none" stroke-width="0"/>
<circle cx="308.97" cy="354.82" r="1.45" fill="#5c5c5c" stroke="none" stroke-width="0"/>
<circle cx="311.24" cy="354.51" r="1.45" fill="#5c5c5c" stroke="none" stroke-width="0"/>
<circle cx="313.51" cy="354.18" r="1.45" fill="#5c5c5c" stroke="none" stroke-width="0"/>
<circle cx="315.78" cy="353.85" r="1.45" fill="#5c5c5c" stroke="none" stroke-width="0"/>
<circle cx="318.04" cy="353.52" r="1.45" fill="#5c5c5c" stroke="none" stroke-width="0"/>
<circle cx="320.31" cy="353.18" r="1.45" fill="#5c5c5c" stroke="none" stroke-width="0"/>
<circle cx="322.58" cy="352.83" r="1.45" fill="#5c5c5c" stroke="none" stroke-width="0"/>
<circle cx="324.85" cy="352.48" r="1.45" fill="#5c5c5c" stroke="none" stroke-width="0"/>
<circle cx="327.11" cy="352.12" r="1.45" fill="#5c5c5c" stroke="none" stroke-width="0"/>
<circle cx="329.38" cy="351.76" r="1.45" fill="#5c5c5c" stroke="none" stroke-width="0"/>
<circle cx="331.65" cy="351.4" r="1.45" fill="#5c5c5c" stroke="none" stroke-width="0"/>
<circle cx="333.92" cy="351.03" r="1.45" fill="#5c5c5c" stroke="none" stroke-width="0"/>
<circle cx="336.18" cy="350.65" r="1.45" fill="#5c5c5c" stroke="none" stroke-width="0"/>
<circle cx="338.45" cy="350.27" r="1.45" fill="#5c5c5c" stroke="none" stroke-width="0"/>
<circle cx="340.72" cy="349.89" r="1.45" fill="#5c5c5c" stroke="none" stroke-width="0"/>
<circle cx="342.98" cy="349.5" r="1.45" fill="#5c5c5c" stroke="none" stroke-width="0"/>
<circle cx="345.25" cy="349.11" r="1.45" fill="#5c5c5c" stroke="none" stroke-width="0"/>
<circle cx="347.52" cy="348.71" r="1.45" fill="#5c5c5c" stroke="none" stroke-width="0"/>
<circle cx="349.79" cy="348.31" r="1.45" fill="#5c5c5c" stroke="none" stroke-width="0"/>
<circle cx="352.05" cy="347.91" r="1.45" fill="#5c5c5c" stroke="none" stroke-width="0"/>
<circle cx="354.32" cy="347.5" r="1.45" fill="#5c5c5c" stroke="none" stroke-width="0"/>
<circle cx="356.59" cy="347.09" r="1.45" fill="#5c5c5c" stroke="none" stroke-width="0"/>
<circle cx="358.86" cy="346.68" r="1.45" fill="#5c5c5c" stroke="none" stroke-width="0"/>
<circle cx="361.12" cy="346.26" r="1.45" fill="#5c5c5c" stroke="none" stroke-width="0"/>
<circle cx="363.39" cy="345.84" r="1.45" fill="#5c5c5c" stroke="none" stroke-width="0"/>
<circle cx="365.66" cy="345.41" r="1.45" fill="#5c5c5c" stroke="none" stroke-width="0"/>
<circle cx="367.92" cy="344.98" r="1.45" fill="#5c5c5c" stroke="none" stroke-width="0"/>
<circle cx="370.19" cy="344.54" r="1.45" fill="#5c5c5c" stroke="none" stroke-width="0"/>
<circle cx="372.46" cy="344.09" r="1.45" fill="#5c5c5c" stroke="none" stroke-width="0"/>
<circle cx="374.73" cy="343.64" r="1.45" fill="#5c5c5c" stroke="none" stroke-width="0"/>
<circle cx="376.99" cy="343.17" r="1.45" fill="#5c5c5c" stroke="none" stroke-width="0"/>
<circle cx="379.26" cy="342.7" r="1.45" fill="#5c5c5c" stroke="none" stroke-width="0"/>
<circle cx="381.53" cy="342.22" r="1.45" fill="#5c5c5c" stroke="none" stroke-width="0"/>
<circle cx="383.8" cy="341.73" r="1.45" fill="#5c5c5c" stroke="none" stroke-width="0"/>
<circle cx="386.06" cy="341.24" r="1.45" fill="#5c5c5c" stroke="none" stroke-width="0"/>
<circle cx="388.33" cy="340.73" r="1.45" fill="#5c5c5c" stroke="none" stroke-width="0"/>
<circle cx="390.6" cy="340.22" r="1.45" fill="#5c5c5c" stroke="none" stroke-width="0"/>
<circle cx="392.86" cy="339.71" r="1.45" fill="#5c5c5c" stroke="none" stroke-width="0"/>
<circle cx="395.13" cy="339.18" r="1.45" fill="#5c5c5c" stroke="none" stroke-width="0"/>
<circle cx="397.4" cy="338.65" r="1.45" fill="#5c5c5c" stroke="none" stroke-width="0"/>
<circle cx="399.67" cy="338.11" r="1.45" fill="#5c5c5c" stroke="none" stroke-width="0"/>
<circle cx="401.93" cy="337.56" r="1.45" fill="#5c5c5c" stroke="none" stroke-width="0"/>
<circle cx="404.2" cy="337.01" r="1.45" fill="#5c5c5c" stroke="none" stroke-width="0"/>
<circle cx="406.47" cy="336.45" r="1.45" fill="#5c5c5c" stroke="none" stroke-width="0"/>
<circle cx="408.74" cy="335.88" r="1.45" fill="#5c5c5c" stroke="none" stroke-width="0"/>
<circle cx="411" cy="335.31" r="1.45" fill="#5c5c5c" stroke="none" stroke-width="0"/>
<circle cx="413.27" cy="334.73" r="1.45" fill="#5c5c5c" stroke="none" stroke-width="0"/>
<circle cx="415.54" cy="334.14" r="1.45" fill="#5c5c5c" stroke="none" stroke-width="0"/>
<circle cx="417.8" cy="333.55" r="1.45" fill="#5c5c5c" stroke="none" stroke-width="0"/>
<circle cx="420.07" cy="332.95" r="1.45" fill="#5c5c5c" stroke="none" stroke-width="0"/>
<circle cx="422.34" cy="332.35" r="1.45" fill="#5c5c5c" stroke="none" stroke-width="0"/>
<circle cx="424.61" cy="331.74" r="1.45" fill="#5c5c5c" stroke="none" stroke-width="0"/>
<circle cx="426.87" cy="331.12" r="1.45" fill="#5c5c5c" stroke="none" stroke-width="0"/>
<circle cx="429.14" cy="330.5" r="1.45" fill="#5c5c5c" stroke="none" stroke-width="0"/>
<circle cx="431.41" cy="329.87" r="1.45" fill="#5c5c5c" stroke="none" stroke-width="0"/>
<circle cx="433.68" cy="329.24" r="1.45" fill="#5c5c5c" stroke="none" stroke-width="0"/>
<circle cx="435.94" cy="328.6" r="1.45" fill="#5c5c5c" stroke="none" stroke-width="0"/>
<circle cx="438.21" cy="327.96" r="1.45" fill="#5c5c5c" stroke="none" stroke-width="0"/>
<circle cx="440.48" cy="327.31" r="1.45" fill="#5c5c5c" stroke="none" stroke-width="0"/>
<circle cx="442.75" cy="326.65" r="1.45" fill="#5c5c5c" stroke="none" stroke-width="0"/>
<circle cx="445.01" cy="325.99" r="1.45" fill="#5c5c5c" stroke="none" stroke-width="0"/>
<circle cx="447.28" cy="325.33" r="1.45" fill="#5c5c5c" stroke="none" stroke-width="0"/>
<circle cx="449.55" cy="324.66" r="1.45" fill="#5c5c5c" stroke="none" stroke-width="0"/>
<circle cx="451.81" cy="323.98" r="1.45" fill="#5c5c5c" stroke="none" stroke-width="0"/>
<circle cx="454.08" cy="323.31" r="1.45" fill="#5c5c5c" stroke="none" stroke-width="0"/>
<path d="M279.5 355.49 L279.94 355.28 L280.38 355.07 L280.82 354.86 L281.26 354.65 L281.7 354.44 L282.13 354.24 L282.57 354.03 L283.01 353.83 L283.45 353.62 L283.89 353.42 L284.33 353.21 L284.77 353.01 L285.21 352.81 L285.65 352.6 L286.09 352.4 L286.53 352.2 L286.96 352 L287.4 351.8 L287.84 351.6 L288.28 351.41 L288.72 351.21 L289.16 351.01 L289.6 350.82 L290.04 350.62 L290.48 350.43 L290.92 350.23 L291.36 350.04 L291.79 349.85 L292.23 349.66 L292.67 349.46 L293.11 349.27 L293.55 349.09 L293.99 348.9 L294.43 348.71 L294.87 348.52 L295.31 348.34 L295.75 348.15 L296.19 347.97 L296.62 347.78 L297.06 347.6 L297.5 347.42 L297.94 347.23 L298.38 347.05 L298.82 346.88 L299.26 346.7 L299.7 346.53 L300.14 346.35 L300.58 346.18 L301.02 346.01 L301.45 345.85 L301.89 345.68 L302.33 345.52 L302.77 345.35 L303.21 345.19 L303.65 345.03 L304.09 344.87 L304.53 344.71 L304.97 344.55 L305.41 344.39 L305.85 344.23 L306.28 344.07 L306.72 343.92 L307.16 343.76 L307.6 343.6 L308.04 343.44 L308.48 343.28 L308.92 343.12 L309.36 342.96 L309.8 342.8 L310.24 342.64 L310.68 342.48 L311.12 342.32 L311.55 342.16 L311.99 341.99 L312.43 341.83 L312.87 341.66 L313.31 341.49 L313.75 341.32 L314.19 341.15 L314.63 340.97 L315.07 340.8 L315.51 340.62 L315.95 340.44 L316.38 340.25 L316.82 340.07 L317.26 339.88 L317.7 339.69 L318.14 339.5 L318.58 339.3 L319.02 339.1 L319.46 338.9 L319.9 338.7 L320.34 338.49 L320.78 338.29 L321.21 338.08 L321.65 337.86 L322.09 337.65 L322.53 337.43 L322.97 337.22 L323.41 337 L323.85 336.78 L324.29 336.56 L324.73 336.33 L325.17 336.11 L325.61 335.88 L326.04 335.65 L326.48 335.43 L326.92 335.2 L327.36 334.97 L327.8 334.74 L328.24 334.51 L328.68 334.27 L329.12 334.04 L329.56 333.81 L330 333.57 L330.44 333.34 L330.87 333.11 L331.31 332.87 L331.75 332.64 L332.19 332.4 L332.63 332.17 L333.07 331.94 L333.51 331.7 L333.95 331.47 L334.39 331.24 L334.83 331.01 L335.27 330.77 L335.7 330.54 L336.14 330.31 L336.58 330.09 L337.02 329.86 L337.46 329.63 L337.9 329.41 L338.34 329.19 L338.78 328.97 L339.22 328.76 L339.66 328.55 L340.1 328.34 L340.53 328.13 L340.97 327.93 L341.41 327.73 L341.85 327.52 L342.29 327.32 L342.73 327.12 L343.17 326.92 L343.61 326.72 L344.05 326.52 L344.49 326.33 L344.93 326.13 L345.36 325.93 L345.8 325.72 L346.24 325.52 L346.68 325.32 L347.12 325.11 L347.56 324.91 L348 324.7 L348.44 324.49 L348.88 324.27 L349.32 324.06 L349.76 323.84 L350.19 323.62 L350.63 323.39 L351.07 323.16 L351.51 322.92 L351.95 322.69 L352.39 322.44 L352.83 322.2 L353.27 321.94 L353.71 321.69 L354.15 321.42 L354.59 321.15 L355.02 320.88 L355.46 320.6 L355.9 320.31 L356.34 320.02 L356.78 319.71 L357.22 319.41 L357.66 319.09 L358.1 318.76 L358.54 318.41 L358.98 318.03 L359.42 317.62 L359.85 317.19 L360.29 316.75 L360.73 316.29 L361.17 315.82 L361.61 315.33 L362.05 314.84 L362.49 314.34 L362.93 313.85 L363.37 313.35 L363.81 312.85 L364.25 312.36 L364.68 311.88 L365.12 311.41 L365.56 310.94 L366 310.48 L366.44 310.01 L366.88 309.54 L367.32 309.08 L367.76 308.61 L368.2 308.14 L368.64 307.68 L369.08 307.21 L369.52 306.74 L369.95 306.27 L370.39 305.8 L370.83 305.33 L371.27 304.86 L371.71 304.39 L372.15 303.92 L372.59 303.45 L373.03 302.97 L373.47 302.5 L373.91 302.02 L374.35 301.55 L374.78 301.07 L375.22 300.59 L375.66 300.11 L376.1 299.63 L376.54 299.14 L376.98 298.66 L377.42 298.17 L377.86 297.68 L378.3 297.19 L378.74 296.7 L379.18 296.21 L379.61 295.71 L380.05 295.22 L380.49 294.72 L380.93 294.22 L381.37 293.71 L381.81 293.21 L382.25 292.7 L382.69 292.19 L383.13 291.68 L383.57 291.17 L384.01 290.65 L384.44 290.13 L384.88 289.6 L385.32 289.06 L385.76 288.51 L386.2 287.94 L386.64 287.35 L387.08 286.76 L387.52 286.16 L387.96 285.55 L388.4 284.94 L388.84 284.32 L389.27 283.7 L389.71 283.08 L390.15 282.45 L390.59 281.84 L391.03 281.22 L391.47 280.61 L391.91 280.01 L392.35 279.42 L392.79 278.84 L393.23 278.27 L393.67 277.72 L394.1 277.18 L394.54 276.66 L394.98 276.16 L395.42 275.68 L395.86 275.22 L396.3 274.78 L396.74 274.37 L397.18 273.98 L397.62 273.6 L398.06 273.21 L398.5 272.82 L398.93 272.43 L399.37 272.04 L399.81 271.64 L400.25 271.25 L400.69 270.86 L401.13 270.47 L401.57 270.08 L402.01 269.7 L402.45 269.32 L402.89 268.94 L403.33 268.57 L403.76 268.2 L404.2 267.85 L404.64 267.49 L405.08 267.15 L405.52 266.81 L405.96 266.49 L406.4 266.17 L406.84 265.87 L407.28 265.57 L407.72 265.29 L408.16 265.02 L408.59 264.76 L409.03 264.52 L409.47 264.29 L409.91 264.08 L410.35 263.88 L410.79 263.7 L411.23 263.54 L411.67 263.4 L412.11 263.27 L412.55 263.17 L412.99 263.08 L413.42 263.01 L413.86 262.97 L414.3 262.95 L414.74 262.95 L415.18 262.97 L415.62 263.01 L416.06 263.07 L416.5 263.15 L416.94 263.25 L417.38 263.37 L417.82 263.5 L418.25 263.65 L418.69 263.82 L419.13 264 L419.57 264.19 L420.01 264.4 L420.45 264.63 L420.89 264.86 L421.33 265.11 L421.77 265.37 L422.21 265.64 L422.65 265.92 L423.08 266.21 L423.52 266.52 L423.96 266.82 L424.4 267.14 L424.84 267.47 L425.28 267.8 L425.72 268.14 L426.16 268.48 L426.6 268.83 L427.04 269.18 L427.48 269.54 L427.92 269.9 L428.35 270.26 L428.79 270.63 L429.23 270.99 L429.67 271.36 L430.11 271.73 L430.55 272.09 L430.99 272.46 L431.43 272.82 L431.87 273.19 L432.31 273.54 L432.75 273.9 L433.18 274.25 L433.62 274.61 L434.06 274.99 L434.5 275.38 L434.94 275.78 L435.38 276.2 L435.82 276.63 L436.26 277.07 L436.7 277.52 L437.14 277.99 L437.58 278.46 L438.01 278.95 L438.45 279.44 L438.89 279.94 L439.33 280.45 L439.77 280.97 L440.21 281.5 L440.65 282.03 L441.09 282.57 L441.53 283.11 L441.97 283.67 L442.41 284.22 L442.84 284.78 L443.28 285.35 L443.72 285.91 L444.16 286.48 L444.6 287.06 L445.04 287.63 L445.48 288.21 L445.92 288.79 L446.36 289.36 L446.8 289.94 L447.24 290.52 L447.67 291.1 L448.11 291.67 L448.55 292.24 L448.99 292.81 L449.43 293.38 L449.87 293.95 L450.31 294.51 L450.75 295.06 L451.19 295.61 L451.63 296.16 L452.07 296.7 L452.5 297.23 L452.94 297.76 L453.38 298.29 L453.82 298.82 L454.26 299.35 L454.7 299.88" fill="none" stroke="#50d8d8" stroke-width="1.2" stroke-linejoin="round" />
<circle cx="279.5" cy="355.49" r="1.45" fill="#30c0c8" stroke="none" stroke-width="0"/>
<circle cx="281.77" cy="354.41" r="1.45" fill="#30c0c8" stroke="none" stroke-width="0"/>
<circle cx="284.03" cy="353.35" r="1.45" fill="#30c0c8" stroke="none" stroke-width="0"/>
<circle cx="286.3" cy="352.3" r="1.45" fill="#30c0c8" stroke="none" stroke-width="0"/>
<circle cx="288.57" cy="351.28" r="1.45" fill="#30c0c8" stroke="none" stroke-width="0"/>
<circle cx="290.84" cy="350.27" r="1.45" fill="#30c0c8" stroke="none" stroke-width="0"/>
<circle cx="293.1" cy="349.28" r="1.45" fill="#30c0c8" stroke="none" stroke-width="0"/>
<circle cx="295.37" cy="348.31" r="1.45" fill="#30c0c8" stroke="none" stroke-width="0"/>
<circle cx="297.64" cy="347.36" r="1.45" fill="#30c0c8" stroke="none" stroke-width="0"/>
<circle cx="299.91" cy="346.44" r="1.45" fill="#30c0c8" stroke="none" stroke-width="0"/>
<circle cx="302.17" cy="345.58" r="1.45" fill="#30c0c8" stroke="none" stroke-width="0"/>
<circle cx="304.44" cy="344.74" r="1.45" fill="#30c0c8" stroke="none" stroke-width="0"/>
<circle cx="306.71" cy="343.92" r="1.45" fill="#30c0c8" stroke="none" stroke-width="0"/>
<circle cx="308.97" cy="343.1" r="1.45" fill="#30c0c8" stroke="none" stroke-width="0"/>
<circle cx="311.24" cy="342.27" r="1.45" fill="#30c0c8" stroke="none" stroke-width="0"/>
<circle cx="313.51" cy="341.41" r="1.45" fill="#30c0c8" stroke="none" stroke-width="0"/>
<circle cx="315.78" cy="340.51" r="1.45" fill="#30c0c8" stroke="none" stroke-width="0"/>
<circle cx="318.04" cy="339.54" r="1.45" fill="#30c0c8" stroke="none" stroke-width="0"/>
<circle cx="320.31" cy="338.5" r="1.45" fill="#30c0c8" stroke="none" stroke-width="0"/>
<circle cx="322.58" cy="337.41" r="1.45" fill="#30c0c8" stroke="none" stroke-width="0"/>
<circle cx="324.85" cy="336.27" r="1.45" fill="#30c0c8" stroke="none" stroke-width="0"/>
<circle cx="327.11" cy="335.1" r="1.45" fill="#30c0c8" stroke="none" stroke-width="0"/>
<circle cx="329.38" cy="333.9" r="1.45" fill="#30c0c8" stroke="none" stroke-width="0"/>
<circle cx="331.65" cy="332.69" r="1.45" fill="#30c0c8" stroke="none" stroke-width="0"/>
<circle cx="333.92" cy="331.49" r="1.45" fill="#30c0c8" stroke="none" stroke-width="0"/>
<circle cx="336.18" cy="330.29" r="1.45" fill="#30c0c8" stroke="none" stroke-width="0"/>
<circle cx="338.45" cy="329.14" r="1.45" fill="#30c0c8" stroke="none" stroke-width="0"/>
<circle cx="340.72" cy="328.05" r="1.45" fill="#30c0c8" stroke="none" stroke-width="0"/>
<circle cx="342.98" cy="327.01" r="1.45" fill="#30c0c8" stroke="none" stroke-width="0"/>
<circle cx="345.25" cy="325.98" r="1.45" fill="#30c0c8" stroke="none" stroke-width="0"/>
<circle cx="347.52" cy="324.93" r="1.45" fill="#30c0c8" stroke="none" stroke-width="0"/>
<circle cx="349.79" cy="323.82" r="1.45" fill="#30c0c8" stroke="none" stroke-width="0"/>
<circle cx="352.05" cy="322.63" r="1.45" fill="#30c0c8" stroke="none" stroke-width="0"/>
<circle cx="354.32" cy="321.32" r="1.45" fill="#30c0c8" stroke="none" stroke-width="0"/>
<circle cx="356.59" cy="319.85" r="1.45" fill="#30c0c8" stroke="none" stroke-width="0"/>
<circle cx="358.86" cy="318.13" r="1.45" fill="#30c0c8" stroke="none" stroke-width="0"/>
<circle cx="361.12" cy="315.87" r="1.45" fill="#30c0c8" stroke="none" stroke-width="0"/>
<circle cx="363.39" cy="313.32" r="1.45" fill="#30c0c8" stroke="none" stroke-width="0"/>
<circle cx="365.66" cy="310.84" r="1.45" fill="#30c0c8" stroke="none" stroke-width="0"/>
<circle cx="367.92" cy="308.43" r="1.45" fill="#30c0c8" stroke="none" stroke-width="0"/>
<circle cx="370.19" cy="306.02" r="1.45" fill="#30c0c8" stroke="none" stroke-width="0"/>
<circle cx="372.46" cy="303.59" r="1.45" fill="#30c0c8" stroke="none" stroke-width="0"/>
<circle cx="374.73" cy="301.13" r="1.45" fill="#30c0c8" stroke="none" stroke-width="0"/>
<circle cx="376.99" cy="298.64" r="1.45" fill="#30c0c8" stroke="none" stroke-width="0"/>
<circle cx="379.26" cy="296.11" r="1.45" fill="#30c0c8" stroke="none" stroke-width="0"/>
<circle cx="381.53" cy="293.53" r="1.45" fill="#30c0c8" stroke="none" stroke-width="0"/>
<circle cx="383.8" cy="290.9" r="1.45" fill="#30c0c8" stroke="none" stroke-width="0"/>
<circle cx="386.06" cy="288.12" r="1.45" fill="#30c0c8" stroke="none" stroke-width="0"/>
<circle cx="388.33" cy="285.03" r="1.45" fill="#30c0c8" stroke="none" stroke-width="0"/>
<circle cx="390.6" cy="281.83" r="1.45" fill="#30c0c8" stroke="none" stroke-width="0"/>
<circle cx="392.86" cy="278.74" r="1.45" fill="#30c0c8" stroke="none" stroke-width="0"/>
<circle cx="395.13" cy="275.99" r="1.45" fill="#30c0c8" stroke="none" stroke-width="0"/>
<circle cx="397.4" cy="273.79" r="1.45" fill="#30c0c8" stroke="none" stroke-width="0"/>
<circle cx="399.67" cy="271.77" r="1.45" fill="#30c0c8" stroke="none" stroke-width="0"/>
<circle cx="401.93" cy="269.76" r="1.45" fill="#30c0c8" stroke="none" stroke-width="0"/>
<circle cx="404.2" cy="267.85" r="1.45" fill="#30c0c8" stroke="none" stroke-width="0"/>
<circle cx="406.47" cy="266.12" r="1.45" fill="#30c0c8" stroke="none" stroke-width="0"/>
<circle cx="408.74" cy="264.68" r="1.45" fill="#30c0c8" stroke="none" stroke-width="0"/>
<circle cx="411" cy="263.62" r="1.45" fill="#30c0c8" stroke="none" stroke-width="0"/>
<circle cx="413.27" cy="263.03" r="1.45" fill="#30c0c8" stroke="none" stroke-width="0"/>
<circle cx="415.54" cy="263" r="1.45" fill="#30c0c8" stroke="none" stroke-width="0"/>
<circle cx="417.8" cy="263.5" r="1.45" fill="#30c0c8" stroke="none" stroke-width="0"/>
<circle cx="420.07" cy="264.43" r="1.45" fill="#30c0c8" stroke="none" stroke-width="0"/>
<circle cx="422.34" cy="265.73" r="1.45" fill="#30c0c8" stroke="none" stroke-width="0"/>
<circle cx="424.61" cy="267.29" r="1.45" fill="#30c0c8" stroke="none" stroke-width="0"/>
<circle cx="426.87" cy="269.05" r="1.45" fill="#30c0c8" stroke="none" stroke-width="0"/>
<circle cx="429.14" cy="270.92" r="1.45" fill="#30c0c8" stroke="none" stroke-width="0"/>
<circle cx="431.41" cy="272.81" r="1.45" fill="#30c0c8" stroke="none" stroke-width="0"/>
<circle cx="433.68" cy="274.66" r="1.45" fill="#30c0c8" stroke="none" stroke-width="0"/>
<circle cx="435.94" cy="276.75" r="1.45" fill="#30c0c8" stroke="none" stroke-width="0"/>
<circle cx="438.21" cy="279.17" r="1.45" fill="#30c0c8" stroke="none" stroke-width="0"/>
<circle cx="440.48" cy="281.82" r="1.45" fill="#30c0c8" stroke="none" stroke-width="0"/>
<circle cx="442.75" cy="284.65" r="1.45" fill="#30c0c8" stroke="none" stroke-width="0"/>
<circle cx="445.01" cy="287.6" r="1.45" fill="#30c0c8" stroke="none" stroke-width="0"/>
<circle cx="447.28" cy="290.58" r="1.45" fill="#30c0c8" stroke="none" stroke-width="0"/>
<circle cx="449.55" cy="293.53" r="1.45" fill="#30c0c8" stroke="none" stroke-width="0"/>
<circle cx="451.81" cy="296.39" r="1.45" fill="#30c0c8" stroke="none" stroke-width="0"/>
<circle cx="454.08" cy="299.13" r="1.45" fill="#30c0c8" stroke="none" stroke-width="0"/>
<path d="M279.5 353.42 L279.94 353.18 L280.38 352.94 L280.82 352.7 L281.26 352.46 L281.7 352.21 L282.13 351.97 L282.57 351.71 L283.01 351.46 L283.45 351.21 L283.89 350.95 L284.33 350.69 L284.77 350.42 L285.21 350.16 L285.65 349.89 L286.09 349.62 L286.53 349.34 L286.96 349.07 L287.4 348.79 L287.84 348.51 L288.28 348.22 L288.72 347.94 L289.16 347.65 L289.6 347.36 L290.04 347.07 L290.48 346.78 L290.92 346.48 L291.36 346.18 L291.79 345.88 L292.23 345.58 L292.67 345.27 L293.11 344.97 L293.55 344.66 L293.99 344.35 L294.43 344.03 L294.87 343.72 L295.31 343.4 L295.75 343.08 L296.19 342.76 L296.62 342.44 L297.06 342.12 L297.5 341.79 L297.94 341.46 L298.38 341.13 L298.82 340.8 L299.26 340.46 L299.7 340.13 L300.14 339.78 L300.58 339.44 L301.02 339.1 L301.45 338.75 L301.89 338.39 L302.33 338.04 L302.77 337.68 L303.21 337.32 L303.65 336.96 L304.09 336.59 L304.53 336.23 L304.97 335.85 L305.41 335.48 L305.85 335.1 L306.28 334.73 L306.72 334.34 L307.16 333.96 L307.6 333.57 L308.04 333.18 L308.48 332.79 L308.92 332.39 L309.36 331.99 L309.8 331.59 L310.24 331.18 L310.68 330.78 L311.12 330.37 L311.55 329.95 L311.99 329.54 L312.43 329.12 L312.87 328.7 L313.31 328.27 L313.75 327.85 L314.19 327.42 L314.63 326.99 L315.07 326.55 L315.51 326.11 L315.95 325.67 L316.38 325.23 L316.82 324.78 L317.26 324.33 L317.7 323.88 L318.14 323.42 L318.58 322.96 L319.02 322.49 L319.46 322.02 L319.9 321.54 L320.34 321.06 L320.78 320.57 L321.21 320.07 L321.65 319.58 L322.09 319.08 L322.53 318.57 L322.97 318.06 L323.41 317.54 L323.85 317.02 L324.29 316.5 L324.73 315.97 L325.17 315.44 L325.61 314.91 L326.04 314.37 L326.48 313.83 L326.92 313.29 L327.36 312.74 L327.8 312.19 L328.24 311.63 L328.68 311.08 L329.12 310.52 L329.56 309.96 L330 309.39 L330.44 308.83 L330.87 308.26 L331.31 307.69 L331.75 307.12 L332.19 306.54 L332.63 305.97 L333.07 305.39 L333.51 304.81 L333.95 304.23 L334.39 303.65 L334.83 303.06 L335.27 302.48 L335.7 301.89 L336.14 301.31 L336.58 300.72 L337.02 300.14 L337.46 299.55 L337.9 298.95 L338.34 298.35 L338.78 297.73 L339.22 297.12 L339.66 296.49 L340.1 295.86 L340.53 295.22 L340.97 294.58 L341.41 293.94 L341.85 293.28 L342.29 292.63 L342.73 291.97 L343.17 291.31 L343.61 290.65 L344.05 289.98 L344.49 289.32 L344.93 288.65 L345.36 287.98 L345.8 287.32 L346.24 286.65 L346.68 285.98 L347.12 285.32 L347.56 284.65 L348 283.99 L348.44 283.33 L348.88 282.68 L349.32 282.03 L349.76 281.38 L350.19 280.73 L350.63 280.1 L351.07 279.46 L351.51 278.84 L351.95 278.21 L352.39 277.6 L352.83 276.99 L353.27 276.39 L353.71 275.8 L354.15 275.2 L354.59 274.57 L355.02 273.92 L355.46 273.25 L355.9 272.56 L356.34 271.86 L356.78 271.14 L357.22 270.42 L357.66 269.7 L358.1 268.97 L358.54 268.24 L358.98 267.53 L359.42 266.82 L359.85 266.12 L360.29 265.44 L360.73 264.77 L361.17 264.13 L361.61 263.51 L362.05 262.92 L362.49 262.36 L362.93 261.84 L363.37 261.35 L363.81 260.91 L364.25 260.51 L364.68 260.16 L365.12 259.85 L365.56 259.61 L366 259.42 L366.44 259.29 L366.88 259.22 L367.32 259.22 L367.76 259.26 L368.2 259.36 L368.64 259.49 L369.08 259.67 L369.52 259.89 L369.95 260.15 L370.39 260.44 L370.83 260.77 L371.27 261.14 L371.71 261.53 L372.15 261.96 L372.59 262.42 L373.03 262.9 L373.47 263.41 L373.91 263.94 L374.35 264.5 L374.78 265.08 L375.22 265.67 L375.66 266.29 L376.1 266.92 L376.54 267.56 L376.98 268.22 L377.42 268.89 L377.86 269.56 L378.3 270.25 L378.74 270.94 L379.18 271.63 L379.61 272.33 L380.05 273.03 L380.49 273.73 L380.93 274.42 L381.37 275.11 L381.81 275.8 L382.25 276.48 L382.69 277.15 L383.13 277.81 L383.57 278.46 L384.01 279.1 L384.44 279.72 L384.88 280.33 L385.32 280.95 L385.76 281.59 L386.2 282.24 L386.64 282.9 L387.08 283.58 L387.52 284.26 L387.96 284.96 L388.4 285.67 L388.84 286.38 L389.27 287.1 L389.71 287.83 L390.15 288.56 L390.59 289.3 L391.03 290.04 L391.47 290.78 L391.91 291.53 L392.35 292.27 L392.79 293.01 L393.23 293.75 L393.67 294.49 L394.1 295.22 L394.54 295.95 L394.98 296.68 L395.42 297.39 L395.86 298.1 L396.3 298.8 L396.74 299.49 L397.18 300.18 L397.62 300.86 L398.06 301.56 L398.5 302.26 L398.93 302.97 L399.37 303.68 L399.81 304.39 L400.25 305.11 L400.69 305.83 L401.13 306.55 L401.57 307.26 L402.01 307.98 L402.45 308.69 L402.89 309.4 L403.33 310.1 L403.76 310.8 L404.2 311.49 L404.64 312.17 L405.08 312.84 L405.52 313.5 L405.96 314.15 L406.4 314.79 L406.84 315.41 L407.28 316.02 L407.72 316.61 L408.16 317.18 L408.59 317.74 L409.03 318.28 L409.47 318.79 L409.91 319.29 L410.35 319.76 L410.79 320.22 L411.23 320.68 L411.67 321.13 L412.11 321.59 L412.55 322.03 L412.99 322.47 L413.42 322.91 L413.86 323.34 L414.3 323.77 L414.74 324.19 L415.18 324.61 L415.62 325.02 L416.06 325.42 L416.5 325.82 L416.94 326.2 L417.38 326.58 L417.82 326.95 L418.25 327.32 L418.69 327.67 L419.13 328.01 L419.57 328.34 L420.01 328.67 L420.45 328.98 L420.89 329.28 L421.33 329.57 L421.77 329.85 L422.21 330.12 L422.65 330.37 L423.08 330.61 L423.52 330.84 L423.96 331.05 L424.4 331.25 L424.84 331.43 L425.28 331.61 L425.72 331.77 L426.16 331.93 L426.6 332.08 L427.04 332.23 L427.48 332.37 L427.92 332.51 L428.35 332.64 L428.79 332.76 L429.23 332.88 L429.67 333 L430.11 333.11 L430.55 333.22 L430.99 333.33 L431.43 333.44 L431.87 333.54 L432.31 333.64 L432.75 333.74 L433.18 333.84 L433.62 333.93 L434.06 334.03 L434.5 334.13 L434.94 334.23 L435.38 334.32 L435.82 334.42 L436.26 334.52 L436.7 334.63 L437.14 334.73 L437.58 334.84 L438.01 334.95 L438.45 335.06 L438.89 335.18 L439.33 335.3 L439.77 335.42 L440.21 335.55 L440.65 335.68 L441.09 335.82 L441.53 335.95 L441.97 336.09 L442.41 336.23 L442.84 336.37 L443.28 336.51 L443.72 336.65 L444.16 336.8 L444.6 336.94 L445.04 337.09 L445.48 337.23 L445.92 337.38 L446.36 337.53 L446.8 337.68 L447.24 337.83 L447.67 337.98 L448.11 338.13 L448.55 338.29 L448.99 338.44 L449.43 338.6 L449.87 338.76 L450.31 338.92 L450.75 339.08 L451.19 339.24 L451.63 339.4 L452.07 339.56 L452.5 339.72 L452.94 339.89 L453.38 340.05 L453.82 340.22 L454.26 340.38 L454.7 340.55" fill="none" stroke="#5a88e8" stroke-width="1.2" stroke-linejoin="round" />
<circle cx="279.5" cy="353.42" r="1.45" fill="#3f6ed8" stroke="none" stroke-width="0"/>
<circle cx="281.77" cy="352.17" r="1.45" fill="#3f6ed8" stroke="none" stroke-width="0"/>
<circle cx="284.03" cy="350.86" r="1.45" fill="#3f6ed8" stroke="none" stroke-width="0"/>
<circle cx="286.3" cy="349.48" r="1.45" fill="#3f6ed8" stroke="none" stroke-width="0"/>
<circle cx="288.57" cy="348.04" r="1.45" fill="#3f6ed8" stroke="none" stroke-width="0"/>
<circle cx="290.84" cy="346.53" r="1.45" fill="#3f6ed8" stroke="none" stroke-width="0"/>
<circle cx="293.1" cy="344.97" r="1.45" fill="#3f6ed8" stroke="none" stroke-width="0"/>
<circle cx="295.37" cy="343.35" r="1.45" fill="#3f6ed8" stroke="none" stroke-width="0"/>
<circle cx="297.64" cy="341.69" r="1.45" fill="#3f6ed8" stroke="none" stroke-width="0"/>
<circle cx="299.91" cy="339.97" r="1.45" fill="#3f6ed8" stroke="none" stroke-width="0"/>
<circle cx="302.17" cy="338.17" r="1.45" fill="#3f6ed8" stroke="none" stroke-width="0"/>
<circle cx="304.44" cy="336.3" r="1.45" fill="#3f6ed8" stroke="none" stroke-width="0"/>
<circle cx="306.71" cy="334.36" r="1.45" fill="#3f6ed8" stroke="none" stroke-width="0"/>
<circle cx="308.97" cy="332.34" r="1.45" fill="#3f6ed8" stroke="none" stroke-width="0"/>
<circle cx="311.24" cy="330.25" r="1.45" fill="#3f6ed8" stroke="none" stroke-width="0"/>
<circle cx="313.51" cy="328.08" r="1.45" fill="#3f6ed8" stroke="none" stroke-width="0"/>
<circle cx="315.78" cy="325.84" r="1.45" fill="#3f6ed8" stroke="none" stroke-width="0"/>
<circle cx="318.04" cy="323.52" r="1.45" fill="#3f6ed8" stroke="none" stroke-width="0"/>
<circle cx="320.31" cy="321.08" r="1.45" fill="#3f6ed8" stroke="none" stroke-width="0"/>
<circle cx="322.58" cy="318.51" r="1.45" fill="#3f6ed8" stroke="none" stroke-width="0"/>
<circle cx="324.85" cy="315.83" r="1.45" fill="#3f6ed8" stroke="none" stroke-width="0"/>
<circle cx="327.11" cy="313.05" r="1.45" fill="#3f6ed8" stroke="none" stroke-width="0"/>
<circle cx="329.38" cy="310.18" r="1.45" fill="#3f6ed8" stroke="none" stroke-width="0"/>
<circle cx="331.65" cy="307.25" r="1.45" fill="#3f6ed8" stroke="none" stroke-width="0"/>
<circle cx="333.92" cy="304.27" r="1.45" fill="#3f6ed8" stroke="none" stroke-width="0"/>
<circle cx="336.18" cy="301.26" r="1.45" fill="#3f6ed8" stroke="none" stroke-width="0"/>
<circle cx="338.45" cy="298.19" r="1.45" fill="#3f6ed8" stroke="none" stroke-width="0"/>
<circle cx="340.72" cy="294.96" r="1.45" fill="#3f6ed8" stroke="none" stroke-width="0"/>
<circle cx="342.98" cy="291.59" r="1.45" fill="#3f6ed8" stroke="none" stroke-width="0"/>
<circle cx="345.25" cy="288.16" r="1.45" fill="#3f6ed8" stroke="none" stroke-width="0"/>
<circle cx="347.52" cy="284.72" r="1.45" fill="#3f6ed8" stroke="none" stroke-width="0"/>
<circle cx="349.79" cy="281.33" r="1.45" fill="#3f6ed8" stroke="none" stroke-width="0"/>
<circle cx="352.05" cy="278.07" r="1.45" fill="#3f6ed8" stroke="none" stroke-width="0"/>
<circle cx="354.32" cy="274.96" r="1.45" fill="#3f6ed8" stroke="none" stroke-width="0"/>
<circle cx="356.59" cy="271.46" r="1.45" fill="#3f6ed8" stroke="none" stroke-width="0"/>
<circle cx="358.86" cy="267.72" r="1.45" fill="#3f6ed8" stroke="none" stroke-width="0"/>
<circle cx="361.12" cy="264.2" r="1.45" fill="#3f6ed8" stroke="none" stroke-width="0"/>
<circle cx="363.39" cy="261.33" r="1.45" fill="#3f6ed8" stroke="none" stroke-width="0"/>
<circle cx="365.66" cy="259.56" r="1.45" fill="#3f6ed8" stroke="none" stroke-width="0"/>
<circle cx="367.92" cy="259.29" r="1.45" fill="#3f6ed8" stroke="none" stroke-width="0"/>
<circle cx="370.19" cy="260.3" r="1.45" fill="#3f6ed8" stroke="none" stroke-width="0"/>
<circle cx="372.46" cy="262.28" r="1.45" fill="#3f6ed8" stroke="none" stroke-width="0"/>
<circle cx="374.73" cy="265" r="1.45" fill="#3f6ed8" stroke="none" stroke-width="0"/>
<circle cx="376.99" cy="268.24" r="1.45" fill="#3f6ed8" stroke="none" stroke-width="0"/>
<circle cx="379.26" cy="271.77" r="1.45" fill="#3f6ed8" stroke="none" stroke-width="0"/>
<circle cx="381.53" cy="275.36" r="1.45" fill="#3f6ed8" stroke="none" stroke-width="0"/>
<circle cx="383.8" cy="278.8" r="1.45" fill="#3f6ed8" stroke="none" stroke-width="0"/>
<circle cx="386.06" cy="282.03" r="1.45" fill="#3f6ed8" stroke="none" stroke-width="0"/>
<circle cx="388.33" cy="285.56" r="1.45" fill="#3f6ed8" stroke="none" stroke-width="0"/>
<circle cx="390.6" cy="289.31" r="1.45" fill="#3f6ed8" stroke="none" stroke-width="0"/>
<circle cx="392.86" cy="293.14" r="1.45" fill="#3f6ed8" stroke="none" stroke-width="0"/>
<circle cx="395.13" cy="296.92" r="1.45" fill="#3f6ed8" stroke="none" stroke-width="0"/>
<circle cx="397.4" cy="300.52" r="1.45" fill="#3f6ed8" stroke="none" stroke-width="0"/>
<circle cx="399.67" cy="304.16" r="1.45" fill="#3f6ed8" stroke="none" stroke-width="0"/>
<circle cx="401.93" cy="307.86" r="1.45" fill="#3f6ed8" stroke="none" stroke-width="0"/>
<circle cx="404.2" cy="311.48" r="1.45" fill="#3f6ed8" stroke="none" stroke-width="0"/>
<circle cx="406.47" cy="314.89" r="1.45" fill="#3f6ed8" stroke="none" stroke-width="0"/>
<circle cx="408.74" cy="317.91" r="1.45" fill="#3f6ed8" stroke="none" stroke-width="0"/>
<circle cx="411" cy="320.45" r="1.45" fill="#3f6ed8" stroke="none" stroke-width="0"/>
<circle cx="413.27" cy="322.76" r="1.45" fill="#3f6ed8" stroke="none" stroke-width="0"/>
<circle cx="415.54" cy="324.94" r="1.45" fill="#3f6ed8" stroke="none" stroke-width="0"/>
<circle cx="417.8" cy="326.94" r="1.45" fill="#3f6ed8" stroke="none" stroke-width="0"/>
<circle cx="420.07" cy="328.71" r="1.45" fill="#3f6ed8" stroke="none" stroke-width="0"/>
<circle cx="422.34" cy="330.19" r="1.45" fill="#3f6ed8" stroke="none" stroke-width="0"/>
<circle cx="424.61" cy="331.33" r="1.45" fill="#3f6ed8" stroke="none" stroke-width="0"/>
<circle cx="426.87" cy="332.18" r="1.45" fill="#3f6ed8" stroke="none" stroke-width="0"/>
<circle cx="429.14" cy="332.86" r="1.45" fill="#3f6ed8" stroke="none" stroke-width="0"/>
<circle cx="431.41" cy="333.43" r="1.45" fill="#3f6ed8" stroke="none" stroke-width="0"/>
<circle cx="433.68" cy="333.95" r="1.45" fill="#3f6ed8" stroke="none" stroke-width="0"/>
<circle cx="435.94" cy="334.45" r="1.45" fill="#3f6ed8" stroke="none" stroke-width="0"/>
<circle cx="438.21" cy="335" r="1.45" fill="#3f6ed8" stroke="none" stroke-width="0"/>
<circle cx="440.48" cy="335.63" r="1.45" fill="#3f6ed8" stroke="none" stroke-width="0"/>
<circle cx="442.75" cy="336.34" r="1.45" fill="#3f6ed8" stroke="none" stroke-width="0"/>
<circle cx="445.01" cy="337.08" r="1.45" fill="#3f6ed8" stroke="none" stroke-width="0"/>
<circle cx="447.28" cy="337.84" r="1.45" fill="#3f6ed8" stroke="none" stroke-width="0"/>
<circle cx="449.55" cy="338.64" r="1.45" fill="#3f6ed8" stroke="none" stroke-width="0"/>
<circle cx="451.81" cy="339.47" r="1.45" fill="#3f6ed8" stroke="none" stroke-width="0"/>
<circle cx="454.08" cy="340.31" r="1.45" fill="#3f6ed8" stroke="none" stroke-width="0"/>
<path d="M279.5 350.51 L279.94 350.22 L280.38 349.92 L280.82 349.62 L281.26 349.3 L281.7 348.99 L282.13 348.67 L282.57 348.34 L283.01 348 L283.45 347.66 L283.89 347.32 L284.33 346.97 L284.77 346.61 L285.21 346.25 L285.65 345.88 L286.09 345.51 L286.53 345.14 L286.96 344.75 L287.4 344.37 L287.84 343.98 L288.28 343.58 L288.72 343.18 L289.16 342.77 L289.6 342.36 L290.04 341.95 L290.48 341.53 L290.92 341.11 L291.36 340.68 L291.79 340.25 L292.23 339.81 L292.67 339.37 L293.11 338.93 L293.55 338.48 L293.99 338.03 L294.43 337.58 L294.87 337.12 L295.31 336.66 L295.75 336.2 L296.19 335.73 L296.62 335.26 L297.06 334.78 L297.5 334.31 L297.94 333.83 L298.38 333.35 L298.82 332.86 L299.26 332.37 L299.7 331.88 L300.14 331.39 L300.58 330.9 L301.02 330.4 L301.45 329.89 L301.89 329.39 L302.33 328.88 L302.77 328.36 L303.21 327.84 L303.65 327.32 L304.09 326.79 L304.53 326.25 L304.97 325.71 L305.41 325.16 L305.85 324.61 L306.28 324.04 L306.72 323.47 L307.16 322.89 L307.6 322.31 L308.04 321.71 L308.48 321.11 L308.92 320.49 L309.36 319.87 L309.8 319.24 L310.24 318.59 L310.68 317.94 L311.12 317.28 L311.55 316.6 L311.99 315.91 L312.43 315.21 L312.87 314.5 L313.31 313.78 L313.75 313.04 L314.19 312.29 L314.63 311.53 L315.07 310.75 L315.51 309.96 L315.95 309.14 L316.38 308.26 L316.82 307.34 L317.26 306.38 L317.7 305.37 L318.14 304.33 L318.58 303.26 L319.02 302.16 L319.46 301.03 L319.9 299.88 L320.34 298.71 L320.78 297.53 L321.21 296.34 L321.65 295.15 L322.09 293.95 L322.53 292.75 L322.97 291.56 L323.41 290.38 L323.85 289.21 L324.29 288.07 L324.73 286.94 L325.17 285.83 L325.61 284.76 L326.04 283.71 L326.48 282.63 L326.92 281.5 L327.36 280.32 L327.8 279.12 L328.24 277.88 L328.68 276.62 L329.12 275.34 L329.56 274.04 L330 272.73 L330.44 271.43 L330.87 270.12 L331.31 268.82 L331.75 267.53 L332.19 266.26 L332.63 265.02 L333.07 263.8 L333.51 262.61 L333.95 261.47 L334.39 260.37 L334.83 259.32 L335.27 258.33 L335.7 257.39 L336.14 256.52 L336.58 255.73 L337.02 255.01 L337.46 254.37 L337.9 253.82 L338.34 253.36 L338.78 253.01 L339.22 252.75 L339.66 252.6 L340.1 252.57 L340.53 252.65 L340.97 252.82 L341.41 253.08 L341.85 253.43 L342.29 253.85 L342.73 254.33 L343.17 254.87 L343.61 255.46 L344.05 256.1 L344.49 256.77 L344.93 257.46 L345.36 258.18 L345.8 258.91 L346.24 259.63 L346.68 260.36 L347.12 261.07 L347.56 261.76 L348 262.48 L348.44 263.24 L348.88 264.04 L349.32 264.89 L349.76 265.77 L350.19 266.69 L350.63 267.64 L351.07 268.62 L351.51 269.62 L351.95 270.65 L352.39 271.69 L352.83 272.75 L353.27 273.82 L353.71 274.9 L354.15 275.98 L354.59 277.07 L355.02 278.15 L355.46 279.23 L355.9 280.3 L356.34 281.36 L356.78 282.41 L357.22 283.43 L357.66 284.44 L358.1 285.46 L358.54 286.5 L358.98 287.55 L359.42 288.61 L359.85 289.68 L360.29 290.76 L360.73 291.83 L361.17 292.9 L361.61 293.96 L362.05 295.01 L362.49 296.05 L362.93 297.06 L363.37 298.05 L363.81 299.01 L364.25 299.95 L364.68 300.84 L365.12 301.7 L365.56 302.54 L366 303.38 L366.44 304.2 L366.88 305.01 L367.32 305.81 L367.76 306.6 L368.2 307.39 L368.64 308.16 L369.08 308.92 L369.52 309.68 L369.95 310.42 L370.39 311.15 L370.83 311.87 L371.27 312.59 L371.71 313.29 L372.15 313.98 L372.59 314.67 L373.03 315.34 L373.47 316 L373.91 316.65 L374.35 317.29 L374.78 317.92 L375.22 318.54 L375.66 319.15 L376.1 319.75 L376.54 320.33 L376.98 320.91 L377.42 321.48 L377.86 322.04 L378.3 322.59 L378.74 323.15 L379.18 323.7 L379.61 324.25 L380.05 324.79 L380.49 325.32 L380.93 325.85 L381.37 326.38 L381.81 326.89 L382.25 327.4 L382.69 327.9 L383.13 328.39 L383.57 328.87 L384.01 329.33 L384.44 329.79 L384.88 330.23 L385.32 330.66 L385.76 331.08 L386.2 331.48 L386.64 331.87 L387.08 332.24 L387.52 332.6 L387.96 332.94 L388.4 333.26 L388.84 333.56 L389.27 333.85 L389.71 334.15 L390.15 334.44 L390.59 334.73 L391.03 335.02 L391.47 335.3 L391.91 335.58 L392.35 335.86 L392.79 336.14 L393.23 336.41 L393.67 336.68 L394.1 336.94 L394.54 337.2 L394.98 337.46 L395.42 337.7 L395.86 337.95 L396.3 338.19 L396.74 338.42 L397.18 338.64 L397.62 338.86 L398.06 339.08 L398.5 339.28 L398.93 339.48 L399.37 339.67 L399.81 339.86 L400.25 340.03 L400.69 340.2 L401.13 340.36 L401.57 340.51 L402.01 340.65 L402.45 340.78 L402.89 340.9 L403.33 341.02 L403.76 341.12 L404.2 341.21 L404.64 341.29 L405.08 341.36 L405.52 341.42 L405.96 341.48 L406.4 341.54 L406.84 341.59 L407.28 341.65 L407.72 341.71 L408.16 341.76 L408.59 341.81 L409.03 341.86 L409.47 341.92 L409.91 341.96 L410.35 342.01 L410.79 342.06 L411.23 342.1 L411.67 342.15 L412.11 342.19 L412.55 342.23 L412.99 342.27 L413.42 342.31 L413.86 342.34 L414.3 342.37 L414.74 342.41 L415.18 342.44 L415.62 342.46 L416.06 342.49 L416.5 342.51 L416.94 342.53 L417.38 342.55 L417.82 342.57 L418.25 342.59 L418.69 342.6 L419.13 342.61 L419.57 342.62 L420.01 342.62 L420.45 342.62 L420.89 342.62 L421.33 342.61 L421.77 342.59 L422.21 342.56 L422.65 342.52 L423.08 342.47 L423.52 342.41 L423.96 342.34 L424.4 342.27 L424.84 342.18 L425.28 342.09 L425.72 342 L426.16 341.89 L426.6 341.78 L427.04 341.67 L427.48 341.55 L427.92 341.43 L428.35 341.3 L428.79 341.16 L429.23 341.03 L429.67 340.89 L430.11 340.75 L430.55 340.6 L430.99 340.46 L431.43 340.31 L431.87 340.17 L432.31 340.02 L432.75 339.87 L433.18 339.72 L433.62 339.58 L434.06 339.43 L434.5 339.29 L434.94 339.15 L435.38 339.01 L435.82 338.87 L436.26 338.74 L436.7 338.61 L437.14 338.49 L437.58 338.37 L438.01 338.24 L438.45 338.12 L438.89 338 L439.33 337.87 L439.77 337.75 L440.21 337.62 L440.65 337.49 L441.09 337.36 L441.53 337.24 L441.97 337.11 L442.41 336.98 L442.84 336.85 L443.28 336.72 L443.72 336.58 L444.16 336.45 L444.6 336.32 L445.04 336.19 L445.48 336.05 L445.92 335.92 L446.36 335.78 L446.8 335.64 L447.24 335.51 L447.67 335.37 L448.11 335.23 L448.55 335.09 L448.99 334.95 L449.43 334.81 L449.87 334.67 L450.31 334.53 L450.75 334.39 L451.19 334.24 L451.63 334.1 L452.07 333.96 L452.5 333.81 L452.94 333.67 L453.38 333.52 L453.82 333.37 L454.26 333.23 L454.7 333.08" fill="none" stroke="#66c09a" stroke-width="1.2" stroke-linejoin="round" />
<circle cx="279.5" cy="350.51" r="1.45" fill="#48a880" stroke="none" stroke-width="0"/>
<circle cx="281.77" cy="348.94" r="1.45" fill="#48a880" stroke="none" stroke-width="0"/>
<circle cx="284.03" cy="347.21" r="1.45" fill="#48a880" stroke="none" stroke-width="0"/>
<circle cx="286.3" cy="345.33" r="1.45" fill="#48a880" stroke="none" stroke-width="0"/>
<circle cx="288.57" cy="343.32" r="1.45" fill="#48a880" stroke="none" stroke-width="0"/>
<circle cx="290.84" cy="341.18" r="1.45" fill="#48a880" stroke="none" stroke-width="0"/>
<circle cx="293.1" cy="338.94" r="1.45" fill="#48a880" stroke="none" stroke-width="0"/>
<circle cx="295.37" cy="336.59" r="1.45" fill="#48a880" stroke="none" stroke-width="0"/>
<circle cx="297.64" cy="334.16" r="1.45" fill="#48a880" stroke="none" stroke-width="0"/>
<circle cx="299.91" cy="331.65" r="1.45" fill="#48a880" stroke="none" stroke-width="0"/>
<circle cx="302.17" cy="329.07" r="1.45" fill="#48a880" stroke="none" stroke-width="0"/>
<circle cx="304.44" cy="326.36" r="1.45" fill="#48a880" stroke="none" stroke-width="0"/>
<circle cx="306.71" cy="323.49" r="1.45" fill="#48a880" stroke="none" stroke-width="0"/>
<circle cx="308.97" cy="320.42" r="1.45" fill="#48a880" stroke="none" stroke-width="0"/>
<circle cx="311.24" cy="317.08" r="1.45" fill="#48a880" stroke="none" stroke-width="0"/>
<circle cx="313.51" cy="313.45" r="1.45" fill="#48a880" stroke="none" stroke-width="0"/>
<circle cx="315.78" cy="309.46" r="1.45" fill="#48a880" stroke="none" stroke-width="0"/>
<circle cx="318.04" cy="304.56" r="1.45" fill="#48a880" stroke="none" stroke-width="0"/>
<circle cx="320.31" cy="298.78" r="1.45" fill="#48a880" stroke="none" stroke-width="0"/>
<circle cx="322.58" cy="292.62" r="1.45" fill="#48a880" stroke="none" stroke-width="0"/>
<circle cx="324.85" cy="286.64" r="1.45" fill="#48a880" stroke="none" stroke-width="0"/>
<circle cx="327.11" cy="280.99" r="1.45" fill="#48a880" stroke="none" stroke-width="0"/>
<circle cx="329.38" cy="274.56" r="1.45" fill="#48a880" stroke="none" stroke-width="0"/>
<circle cx="331.65" cy="267.84" r="1.45" fill="#48a880" stroke="none" stroke-width="0"/>
<circle cx="333.92" cy="261.55" r="1.45" fill="#48a880" stroke="none" stroke-width="0"/>
<circle cx="336.18" cy="256.45" r="1.45" fill="#48a880" stroke="none" stroke-width="0"/>
<circle cx="338.45" cy="253.27" r="1.45" fill="#48a880" stroke="none" stroke-width="0"/>
<circle cx="340.72" cy="252.71" r="1.45" fill="#48a880" stroke="none" stroke-width="0"/>
<circle cx="342.98" cy="254.64" r="1.45" fill="#48a880" stroke="none" stroke-width="0"/>
<circle cx="345.25" cy="257.99" r="1.45" fill="#48a880" stroke="none" stroke-width="0"/>
<circle cx="347.52" cy="261.7" r="1.45" fill="#48a880" stroke="none" stroke-width="0"/>
<circle cx="349.79" cy="265.83" r="1.45" fill="#48a880" stroke="none" stroke-width="0"/>
<circle cx="352.05" cy="270.89" r="1.45" fill="#48a880" stroke="none" stroke-width="0"/>
<circle cx="354.32" cy="276.41" r="1.45" fill="#48a880" stroke="none" stroke-width="0"/>
<circle cx="356.59" cy="281.95" r="1.45" fill="#48a880" stroke="none" stroke-width="0"/>
<circle cx="358.86" cy="287.26" r="1.45" fill="#48a880" stroke="none" stroke-width="0"/>
<circle cx="361.12" cy="292.78" r="1.45" fill="#48a880" stroke="none" stroke-width="0"/>
<circle cx="363.39" cy="298.1" r="1.45" fill="#48a880" stroke="none" stroke-width="0"/>
<circle cx="365.66" cy="302.72" r="1.45" fill="#48a880" stroke="none" stroke-width="0"/>
<circle cx="367.92" cy="306.9" r="1.45" fill="#48a880" stroke="none" stroke-width="0"/>
<circle cx="370.19" cy="310.82" r="1.45" fill="#48a880" stroke="none" stroke-width="0"/>
<circle cx="372.46" cy="314.47" r="1.45" fill="#48a880" stroke="none" stroke-width="0"/>
<circle cx="374.73" cy="317.84" r="1.45" fill="#48a880" stroke="none" stroke-width="0"/>
<circle cx="376.99" cy="320.93" r="1.45" fill="#48a880" stroke="none" stroke-width="0"/>
<circle cx="379.26" cy="323.81" r="1.45" fill="#48a880" stroke="none" stroke-width="0"/>
<circle cx="381.53" cy="326.56" r="1.45" fill="#48a880" stroke="none" stroke-width="0"/>
<circle cx="383.8" cy="329.11" r="1.45" fill="#48a880" stroke="none" stroke-width="0"/>
<circle cx="386.06" cy="331.36" r="1.45" fill="#48a880" stroke="none" stroke-width="0"/>
<circle cx="388.33" cy="333.21" r="1.45" fill="#48a880" stroke="none" stroke-width="0"/>
<circle cx="390.6" cy="334.73" r="1.45" fill="#48a880" stroke="none" stroke-width="0"/>
<circle cx="392.86" cy="336.19" r="1.45" fill="#48a880" stroke="none" stroke-width="0"/>
<circle cx="395.13" cy="337.54" r="1.45" fill="#48a880" stroke="none" stroke-width="0"/>
<circle cx="397.4" cy="338.76" r="1.45" fill="#48a880" stroke="none" stroke-width="0"/>
<circle cx="399.67" cy="339.8" r="1.45" fill="#48a880" stroke="none" stroke-width="0"/>
<circle cx="401.93" cy="340.63" r="1.45" fill="#48a880" stroke="none" stroke-width="0"/>
<circle cx="404.2" cy="341.21" r="1.45" fill="#48a880" stroke="none" stroke-width="0"/>
<circle cx="406.47" cy="341.55" r="1.45" fill="#48a880" stroke="none" stroke-width="0"/>
<circle cx="408.74" cy="341.83" r="1.45" fill="#48a880" stroke="none" stroke-width="0"/>
<circle cx="411" cy="342.08" r="1.45" fill="#48a880" stroke="none" stroke-width="0"/>
<circle cx="413.27" cy="342.29" r="1.45" fill="#48a880" stroke="none" stroke-width="0"/>
<circle cx="415.54" cy="342.46" r="1.45" fill="#48a880" stroke="none" stroke-width="0"/>
<circle cx="417.8" cy="342.57" r="1.45" fill="#48a880" stroke="none" stroke-width="0"/>
<circle cx="420.07" cy="342.62" r="1.45" fill="#48a880" stroke="none" stroke-width="0"/>
<circle cx="422.34" cy="342.55" r="1.45" fill="#48a880" stroke="none" stroke-width="0"/>
<circle cx="424.61" cy="342.23" r="1.45" fill="#48a880" stroke="none" stroke-width="0"/>
<circle cx="426.87" cy="341.71" r="1.45" fill="#48a880" stroke="none" stroke-width="0"/>
<circle cx="429.14" cy="341.06" r="1.45" fill="#48a880" stroke="none" stroke-width="0"/>
<circle cx="431.41" cy="340.32" r="1.45" fill="#48a880" stroke="none" stroke-width="0"/>
<circle cx="433.68" cy="339.56" r="1.45" fill="#48a880" stroke="none" stroke-width="0"/>
<circle cx="435.94" cy="338.83" r="1.45" fill="#48a880" stroke="none" stroke-width="0"/>
<circle cx="438.21" cy="338.19" r="1.45" fill="#48a880" stroke="none" stroke-width="0"/>
<circle cx="440.48" cy="337.54" r="1.45" fill="#48a880" stroke="none" stroke-width="0"/>
<circle cx="442.75" cy="336.88" r="1.45" fill="#48a880" stroke="none" stroke-width="0"/>
<circle cx="445.01" cy="336.19" r="1.45" fill="#48a880" stroke="none" stroke-width="0"/>
<circle cx="447.28" cy="335.49" r="1.45" fill="#48a880" stroke="none" stroke-width="0"/>
<circle cx="449.55" cy="334.77" r="1.45" fill="#48a880" stroke="none" stroke-width="0"/>
<circle cx="451.81" cy="334.04" r="1.45" fill="#48a880" stroke="none" stroke-width="0"/>
<circle cx="454.08" cy="333.29" r="1.45" fill="#48a880" stroke="none" stroke-width="0"/>
<path d="M279.5 348.85 L279.94 348.42 L280.38 347.97 L280.82 347.51 L281.26 347.03 L281.7 346.53 L282.13 346.02 L282.57 345.49 L283.01 344.95 L283.45 344.39 L283.89 343.82 L284.33 343.24 L284.77 342.64 L285.21 342.03 L285.65 341.4 L286.09 340.77 L286.53 340.12 L286.96 339.46 L287.4 338.79 L287.84 338.11 L288.28 337.42 L288.72 336.71 L289.16 336 L289.6 335.28 L290.04 334.55 L290.48 333.81 L290.92 333.06 L291.36 332.31 L291.79 331.55 L292.23 330.77 L292.67 329.97 L293.11 329.14 L293.55 328.29 L293.99 327.42 L294.43 326.53 L294.87 325.61 L295.31 324.68 L295.75 323.72 L296.19 322.75 L296.62 321.77 L297.06 320.76 L297.5 319.74 L297.94 318.71 L298.38 317.67 L298.82 316.61 L299.26 315.54 L299.7 314.46 L300.14 313.38 L300.58 312.28 L301.02 311.18 L301.45 310.07 L301.89 308.96 L302.33 307.84 L302.77 306.72 L303.21 305.59 L303.65 304.47 L304.09 303.34 L304.53 302.17 L304.97 300.97 L305.41 299.75 L305.85 298.5 L306.28 297.22 L306.72 295.93 L307.16 294.63 L307.6 293.31 L308.04 291.99 L308.48 290.67 L308.92 289.34 L309.36 288.02 L309.8 286.71 L310.24 285.42 L310.68 284.13 L311.12 282.87 L311.55 281.63 L311.99 280.42 L312.43 279.23 L312.87 278.08 L313.31 276.9 L313.75 275.67 L314.19 274.4 L314.63 273.08 L315.07 271.74 L315.51 270.38 L315.95 269.01 L316.38 267.64 L316.82 266.26 L317.26 264.91 L317.7 263.57 L318.14 262.27 L318.58 261 L319.02 259.78 L319.46 258.61 L319.9 257.51 L320.34 256.47 L320.78 255.52 L321.21 254.65 L321.65 253.88 L322.09 253.22 L322.53 252.67 L322.97 252.24 L323.41 251.93 L323.85 251.77 L324.29 251.75 L324.73 251.89 L325.17 252.17 L325.61 252.59 L326.04 253.14 L326.48 253.79 L326.92 254.54 L327.36 255.38 L327.8 256.29 L328.24 257.27 L328.68 258.29 L329.12 259.35 L329.56 260.44 L330 261.55 L330.44 262.65 L330.87 263.74 L331.31 264.82 L331.75 265.85 L332.19 266.92 L332.63 268.09 L333.07 269.35 L333.51 270.68 L333.95 272.09 L334.39 273.55 L334.83 275.06 L335.27 276.62 L335.7 278.2 L336.14 279.8 L336.58 281.4 L337.02 283.01 L337.46 284.61 L337.9 286.19 L338.34 287.73 L338.78 289.24 L339.22 290.7 L339.66 292.09 L340.1 293.42 L340.53 294.66 L340.97 295.82 L341.41 296.88 L341.85 297.83 L342.29 298.75 L342.73 299.63 L343.17 300.48 L343.61 301.31 L344.05 302.11 L344.49 302.89 L344.93 303.65 L345.36 304.39 L345.8 305.1 L346.24 305.8 L346.68 306.49 L347.12 307.16 L347.56 307.81 L348 308.46 L348.44 309.09 L348.88 309.72 L349.32 310.34 L349.76 310.96 L350.19 311.57 L350.63 312.18 L351.07 312.79 L351.51 313.4 L351.95 314.01 L352.39 314.62 L352.83 315.24 L353.27 315.86 L353.71 316.48 L354.15 317.1 L354.59 317.72 L355.02 318.34 L355.46 318.95 L355.9 319.56 L356.34 320.17 L356.78 320.77 L357.22 321.36 L357.66 321.94 L358.1 322.52 L358.54 323.09 L358.98 323.64 L359.42 324.19 L359.85 324.72 L360.29 325.24 L360.73 325.75 L361.17 326.24 L361.61 326.71 L362.05 327.17 L362.49 327.61 L362.93 328.03 L363.37 328.43 L363.81 328.81 L364.25 329.17 L364.68 329.51 L365.12 329.82 L365.56 330.13 L366 330.43 L366.44 330.74 L366.88 331.05 L367.32 331.36 L367.76 331.66 L368.2 331.96 L368.64 332.26 L369.08 332.56 L369.52 332.85 L369.95 333.14 L370.39 333.42 L370.83 333.7 L371.27 333.97 L371.71 334.24 L372.15 334.49 L372.59 334.74 L373.03 334.98 L373.47 335.22 L373.91 335.44 L374.35 335.65 L374.78 335.85 L375.22 336.04 L375.66 336.22 L376.1 336.39 L376.54 336.54 L376.98 336.68 L377.42 336.8 L377.86 336.91 L378.3 337.01 L378.74 337.09 L379.18 337.15 L379.61 337.19 L380.05 337.22 L380.49 337.23 L380.93 337.23 L381.37 337.22 L381.81 337.22 L382.25 337.21 L382.69 337.19 L383.13 337.17 L383.57 337.15 L384.01 337.13 L384.44 337.11 L384.88 337.08 L385.32 337.05 L385.76 337.01 L386.2 336.98 L386.64 336.94 L387.08 336.9 L387.52 336.85 L387.96 336.81 L388.4 336.76 L388.84 336.71 L389.27 336.65 L389.71 336.6 L390.15 336.54 L390.59 336.48 L391.03 336.41 L391.47 336.35 L391.91 336.28 L392.35 336.21 L392.79 336.14 L393.23 336.07 L393.67 336 L394.1 335.92 L394.54 335.84 L394.98 335.76 L395.42 335.68 L395.86 335.59 L396.3 335.51 L396.74 335.42 L397.18 335.33 L397.62 335.24 L398.06 335.15 L398.5 335.06 L398.93 334.97 L399.37 334.87 L399.81 334.77 L400.25 334.68 L400.69 334.58 L401.13 334.48 L401.57 334.38 L402.01 334.27 L402.45 334.17 L402.89 334.07 L403.33 333.96 L403.76 333.86 L404.2 333.75 L404.64 333.64 L405.08 333.53 L405.52 333.42 L405.96 333.29 L406.4 333.14 L406.84 332.98 L407.28 332.8 L407.72 332.61 L408.16 332.41 L408.59 332.19 L409.03 331.96 L409.47 331.71 L409.91 331.46 L410.35 331.19 L410.79 330.92 L411.23 330.64 L411.67 330.35 L412.11 330.05 L412.55 329.74 L412.99 329.43 L413.42 329.12 L413.86 328.8 L414.3 328.47 L414.74 328.15 L415.18 327.82 L415.62 327.49 L416.06 327.15 L416.5 326.82 L416.94 326.49 L417.38 326.16 L417.82 325.83 L418.25 325.51 L418.69 325.19 L419.13 324.87 L419.57 324.55 L420.01 324.25 L420.45 323.95 L420.89 323.65 L421.33 323.37 L421.77 323.09 L422.21 322.82 L422.65 322.56 L423.08 322.32 L423.52 322.08 L423.96 321.86 L424.4 321.65 L424.84 321.45 L425.28 321.26 L425.72 321.06 L426.16 320.86 L426.6 320.67 L427.04 320.47 L427.48 320.27 L427.92 320.07 L428.35 319.87 L428.79 319.67 L429.23 319.47 L429.67 319.26 L430.11 319.06 L430.55 318.86 L430.99 318.66 L431.43 318.46 L431.87 318.26 L432.31 318.07 L432.75 317.87 L433.18 317.68 L433.62 317.49 L434.06 317.3 L434.5 317.11 L434.94 316.92 L435.38 316.74 L435.82 316.56 L436.26 316.39 L436.7 316.21 L437.14 316.04 L437.58 315.88 L438.01 315.72 L438.45 315.56 L438.89 315.41 L439.33 315.26 L439.77 315.12 L440.21 314.98 L440.65 314.84 L441.09 314.72 L441.53 314.59 L441.97 314.48 L442.41 314.37 L442.84 314.26 L443.28 314.17 L443.72 314.08 L444.16 313.99 L444.6 313.91 L445.04 313.84 L445.48 313.78 L445.92 313.73 L446.36 313.68 L446.8 313.64 L447.24 313.61 L447.67 313.59 L448.11 313.58 L448.55 313.58 L448.99 313.59 L449.43 313.61 L449.87 313.66 L450.31 313.71 L450.75 313.78 L451.19 313.87 L451.63 313.96 L452.07 314.06 L452.5 314.18 L452.94 314.29 L453.38 314.42 L453.82 314.55 L454.26 314.68 L454.7 314.82" fill="none" stroke="#cda0ec" stroke-width="1.2" stroke-linejoin="round" />
<circle cx="279.5" cy="348.85" r="1.45" fill="#b888e0" stroke="none" stroke-width="0"/>
<circle cx="281.77" cy="346.45" r="1.45" fill="#b888e0" stroke="none" stroke-width="0"/>
<circle cx="284.03" cy="343.63" r="1.45" fill="#b888e0" stroke="none" stroke-width="0"/>
<circle cx="286.3" cy="340.45" r="1.45" fill="#b888e0" stroke="none" stroke-width="0"/>
<circle cx="288.57" cy="336.96" r="1.45" fill="#b888e0" stroke="none" stroke-width="0"/>
<circle cx="290.84" cy="333.2" r="1.45" fill="#b888e0" stroke="none" stroke-width="0"/>
<circle cx="293.1" cy="329.16" r="1.45" fill="#b888e0" stroke="none" stroke-width="0"/>
<circle cx="295.37" cy="324.54" r="1.45" fill="#b888e0" stroke="none" stroke-width="0"/>
<circle cx="297.64" cy="319.43" r="1.45" fill="#b888e0" stroke="none" stroke-width="0"/>
<circle cx="299.91" cy="313.95" r="1.45" fill="#b888e0" stroke="none" stroke-width="0"/>
<circle cx="302.17" cy="308.25" r="1.45" fill="#b888e0" stroke="none" stroke-width="0"/>
<circle cx="304.44" cy="302.41" r="1.45" fill="#b888e0" stroke="none" stroke-width="0"/>
<circle cx="306.71" cy="295.98" r="1.45" fill="#b888e0" stroke="none" stroke-width="0"/>
<circle cx="308.97" cy="289.18" r="1.45" fill="#b888e0" stroke="none" stroke-width="0"/>
<circle cx="311.24" cy="282.51" r="1.45" fill="#b888e0" stroke="none" stroke-width="0"/>
<circle cx="313.51" cy="276.35" r="1.45" fill="#b888e0" stroke="none" stroke-width="0"/>
<circle cx="315.78" cy="269.54" r="1.45" fill="#b888e0" stroke="none" stroke-width="0"/>
<circle cx="318.04" cy="262.55" r="1.45" fill="#b888e0" stroke="none" stroke-width="0"/>
<circle cx="320.31" cy="256.53" r="1.45" fill="#b888e0" stroke="none" stroke-width="0"/>
<circle cx="322.58" cy="252.62" r="1.45" fill="#b888e0" stroke="none" stroke-width="0"/>
<circle cx="324.85" cy="251.95" r="1.45" fill="#b888e0" stroke="none" stroke-width="0"/>
<circle cx="327.11" cy="254.89" r="1.45" fill="#b888e0" stroke="none" stroke-width="0"/>
<circle cx="329.38" cy="260" r="1.45" fill="#b888e0" stroke="none" stroke-width="0"/>
<circle cx="331.65" cy="265.61" r="1.45" fill="#b888e0" stroke="none" stroke-width="0"/>
<circle cx="333.92" cy="271.98" r="1.45" fill="#b888e0" stroke="none" stroke-width="0"/>
<circle cx="336.18" cy="279.94" r="1.45" fill="#b888e0" stroke="none" stroke-width="0"/>
<circle cx="338.45" cy="288.12" r="1.45" fill="#b888e0" stroke="none" stroke-width="0"/>
<circle cx="340.72" cy="295.16" r="1.45" fill="#b888e0" stroke="none" stroke-width="0"/>
<circle cx="342.98" cy="300.13" r="1.45" fill="#b888e0" stroke="none" stroke-width="0"/>
<circle cx="345.25" cy="304.2" r="1.45" fill="#b888e0" stroke="none" stroke-width="0"/>
<circle cx="347.52" cy="307.75" r="1.45" fill="#b888e0" stroke="none" stroke-width="0"/>
<circle cx="349.79" cy="311" r="1.45" fill="#b888e0" stroke="none" stroke-width="0"/>
<circle cx="352.05" cy="314.15" r="1.45" fill="#b888e0" stroke="none" stroke-width="0"/>
<circle cx="354.32" cy="317.35" r="1.45" fill="#b888e0" stroke="none" stroke-width="0"/>
<circle cx="356.59" cy="320.5" r="1.45" fill="#b888e0" stroke="none" stroke-width="0"/>
<circle cx="358.86" cy="323.49" r="1.45" fill="#b888e0" stroke="none" stroke-width="0"/>
<circle cx="361.12" cy="326.18" r="1.45" fill="#b888e0" stroke="none" stroke-width="0"/>
<circle cx="363.39" cy="328.45" r="1.45" fill="#b888e0" stroke="none" stroke-width="0"/>
<circle cx="365.66" cy="330.19" r="1.45" fill="#b888e0" stroke="none" stroke-width="0"/>
<circle cx="367.92" cy="331.78" r="1.45" fill="#b888e0" stroke="none" stroke-width="0"/>
<circle cx="370.19" cy="333.29" r="1.45" fill="#b888e0" stroke="none" stroke-width="0"/>
<circle cx="372.46" cy="334.67" r="1.45" fill="#b888e0" stroke="none" stroke-width="0"/>
<circle cx="374.73" cy="335.83" r="1.45" fill="#b888e0" stroke="none" stroke-width="0"/>
<circle cx="376.99" cy="336.68" r="1.45" fill="#b888e0" stroke="none" stroke-width="0"/>
<circle cx="379.26" cy="337.16" r="1.45" fill="#b888e0" stroke="none" stroke-width="0"/>
<circle cx="381.53" cy="337.22" r="1.45" fill="#b888e0" stroke="none" stroke-width="0"/>
<circle cx="383.8" cy="337.14" r="1.45" fill="#b888e0" stroke="none" stroke-width="0"/>
<circle cx="386.06" cy="336.99" r="1.45" fill="#b888e0" stroke="none" stroke-width="0"/>
<circle cx="388.33" cy="336.76" r="1.45" fill="#b888e0" stroke="none" stroke-width="0"/>
<circle cx="390.6" cy="336.48" r="1.45" fill="#b888e0" stroke="none" stroke-width="0"/>
<circle cx="392.86" cy="336.13" r="1.45" fill="#b888e0" stroke="none" stroke-width="0"/>
<circle cx="395.13" cy="335.73" r="1.45" fill="#b888e0" stroke="none" stroke-width="0"/>
<circle cx="397.4" cy="335.29" r="1.45" fill="#b888e0" stroke="none" stroke-width="0"/>
<circle cx="399.67" cy="334.81" r="1.45" fill="#b888e0" stroke="none" stroke-width="0"/>
<circle cx="401.93" cy="334.29" r="1.45" fill="#b888e0" stroke="none" stroke-width="0"/>
<circle cx="404.2" cy="333.75" r="1.45" fill="#b888e0" stroke="none" stroke-width="0"/>
<circle cx="406.47" cy="333.12" r="1.45" fill="#b888e0" stroke="none" stroke-width="0"/>
<circle cx="408.74" cy="332.11" r="1.45" fill="#b888e0" stroke="none" stroke-width="0"/>
<circle cx="411" cy="330.78" r="1.45" fill="#b888e0" stroke="none" stroke-width="0"/>
<circle cx="413.27" cy="329.23" r="1.45" fill="#b888e0" stroke="none" stroke-width="0"/>
<circle cx="415.54" cy="327.55" r="1.45" fill="#b888e0" stroke="none" stroke-width="0"/>
<circle cx="417.8" cy="325.84" r="1.45" fill="#b888e0" stroke="none" stroke-width="0"/>
<circle cx="420.07" cy="324.21" r="1.45" fill="#b888e0" stroke="none" stroke-width="0"/>
<circle cx="422.34" cy="322.74" r="1.45" fill="#b888e0" stroke="none" stroke-width="0"/>
<circle cx="424.61" cy="321.55" r="1.45" fill="#b888e0" stroke="none" stroke-width="0"/>
<circle cx="426.87" cy="320.54" r="1.45" fill="#b888e0" stroke="none" stroke-width="0"/>
<circle cx="429.14" cy="319.51" r="1.45" fill="#b888e0" stroke="none" stroke-width="0"/>
<circle cx="431.41" cy="318.47" r="1.45" fill="#b888e0" stroke="none" stroke-width="0"/>
<circle cx="433.68" cy="317.46" r="1.45" fill="#b888e0" stroke="none" stroke-width="0"/>
<circle cx="435.94" cy="316.51" r="1.45" fill="#b888e0" stroke="none" stroke-width="0"/>
<circle cx="438.21" cy="315.65" r="1.45" fill="#b888e0" stroke="none" stroke-width="0"/>
<circle cx="440.48" cy="314.9" r="1.45" fill="#b888e0" stroke="none" stroke-width="0"/>
<circle cx="442.75" cy="314.29" r="1.45" fill="#b888e0" stroke="none" stroke-width="0"/>
<circle cx="445.01" cy="313.85" r="1.45" fill="#b888e0" stroke="none" stroke-width="0"/>
<circle cx="447.28" cy="313.61" r="1.45" fill="#b888e0" stroke="none" stroke-width="0"/>
<circle cx="449.55" cy="313.62" r="1.45" fill="#b888e0" stroke="none" stroke-width="0"/>
<circle cx="451.81" cy="314" r="1.45" fill="#b888e0" stroke="none" stroke-width="0"/>
<circle cx="454.08" cy="314.63" r="1.45" fill="#b888e0" stroke="none" stroke-width="0"/>
<path d="M279.5 345.53 L279.94 345.08 L280.38 344.62 L280.82 344.16 L281.26 343.69 L281.7 343.21 L282.13 342.73 L282.57 342.24 L283.01 341.75 L283.45 341.26 L283.89 340.75 L284.33 340.25 L284.77 339.73 L285.21 339.22 L285.65 338.69 L286.09 338.16 L286.53 337.63 L286.96 337.09 L287.4 336.55 L287.84 336 L288.28 335.45 L288.72 334.89 L289.16 334.33 L289.6 333.76 L290.04 333.19 L290.48 332.6 L290.92 332 L291.36 331.38 L291.79 330.75 L292.23 330.11 L292.67 329.46 L293.11 328.8 L293.55 328.13 L293.99 327.46 L294.43 326.78 L294.87 326.1 L295.31 325.41 L295.75 324.72 L296.19 324.03 L296.62 323.35 L297.06 322.66 L297.5 321.98 L297.94 321.3 L298.38 320.63 L298.82 319.97 L299.26 319.31 L299.7 318.66 L300.14 318.03 L300.58 317.4 L301.02 316.79 L301.45 316.19 L301.89 315.61 L302.33 315.02 L302.77 314.4 L303.21 313.76 L303.65 313.09 L304.09 312.42 L304.53 311.73 L304.97 311.04 L305.41 310.35 L305.85 309.66 L306.28 308.98 L306.72 308.32 L307.16 307.67 L307.6 307.04 L308.04 306.43 L308.48 305.86 L308.92 305.32 L309.36 304.83 L309.8 304.37 L310.24 303.96 L310.68 303.61 L311.12 303.31 L311.55 303.08 L311.99 302.91 L312.43 302.81 L312.87 302.79 L313.31 302.81 L313.75 302.87 L314.19 302.97 L314.63 303.1 L315.07 303.26 L315.51 303.44 L315.95 303.66 L316.38 303.89 L316.82 304.15 L317.26 304.44 L317.7 304.74 L318.14 305.05 L318.58 305.39 L319.02 305.73 L319.46 306.09 L319.9 306.45 L320.34 306.83 L320.78 307.21 L321.21 307.59 L321.65 307.98 L322.09 308.36 L322.53 308.75 L322.97 309.13 L323.41 309.5 L323.85 309.87 L324.29 310.25 L324.73 310.66 L325.17 311.11 L325.61 311.58 L326.04 312.07 L326.48 312.58 L326.92 313.12 L327.36 313.67 L327.8 314.23 L328.24 314.81 L328.68 315.39 L329.12 315.98 L329.56 316.58 L330 317.17 L330.44 317.77 L330.87 318.36 L331.31 318.94 L331.75 319.52 L332.19 320.08 L332.63 320.63 L333.07 321.17 L333.51 321.69 L333.95 322.18 L334.39 322.65 L334.83 323.1 L335.27 323.51 L335.7 323.9 L336.14 324.26 L336.58 324.61 L337.02 324.96 L337.46 325.31 L337.9 325.65 L338.34 325.98 L338.78 326.31 L339.22 326.63 L339.66 326.95 L340.1 327.26 L340.53 327.56 L340.97 327.86 L341.41 328.15 L341.85 328.43 L342.29 328.71 L342.73 328.98 L343.17 329.24 L343.61 329.49 L344.05 329.74 L344.49 329.98 L344.93 330.21 L345.36 330.44 L345.8 330.65 L346.24 330.86 L346.68 331.06 L347.12 331.25 L347.56 331.44 L348 331.62 L348.44 331.8 L348.88 331.98 L349.32 332.17 L349.76 332.35 L350.19 332.53 L350.63 332.71 L351.07 332.89 L351.51 333.07 L351.95 333.25 L352.39 333.42 L352.83 333.59 L353.27 333.76 L353.71 333.92 L354.15 334.08 L354.59 334.23 L355.02 334.38 L355.46 334.52 L355.9 334.65 L356.34 334.78 L356.78 334.9 L357.22 335.01 L357.66 335.11 L358.1 335.2 L358.54 335.29 L358.98 335.36 L359.42 335.43 L359.85 335.48 L360.29 335.52 L360.73 335.55 L361.17 335.57 L361.61 335.57 L362.05 335.57 L362.49 335.57 L362.93 335.57 L363.37 335.56 L363.81 335.56 L364.25 335.55 L364.68 335.55 L365.12 335.54 L365.56 335.54 L366 335.53 L366.44 335.52 L366.88 335.51 L367.32 335.5 L367.76 335.49 L368.2 335.48 L368.64 335.47 L369.08 335.46 L369.52 335.44 L369.95 335.43 L370.39 335.42 L370.83 335.4 L371.27 335.39 L371.71 335.37 L372.15 335.36 L372.59 335.34 L373.03 335.32 L373.47 335.31 L373.91 335.29 L374.35 335.27 L374.78 335.25 L375.22 335.23 L375.66 335.21 L376.1 335.19 L376.54 335.17 L376.98 335.15 L377.42 335.13 L377.86 335.11 L378.3 335.08 L378.74 335.06 L379.18 335.04 L379.61 335.02 L380.05 334.99 L380.49 334.97 L380.93 334.95 L381.37 334.92 L381.81 334.9 L382.25 334.87 L382.69 334.85 L383.13 334.83 L383.57 334.8 L384.01 334.78 L384.44 334.75 L384.88 334.72 L385.32 334.69 L385.76 334.66 L386.2 334.62 L386.64 334.58 L387.08 334.54 L387.52 334.49 L387.96 334.44 L388.4 334.39 L388.84 334.34 L389.27 334.28 L389.71 334.22 L390.15 334.15 L390.59 334.09 L391.03 334.02 L391.47 333.95 L391.91 333.87 L392.35 333.8 L392.79 333.72 L393.23 333.64 L393.67 333.56 L394.1 333.48 L394.54 333.39 L394.98 333.31 L395.42 333.22 L395.86 333.13 L396.3 333.04 L396.74 332.95 L397.18 332.86 L397.62 332.77 L398.06 332.68 L398.5 332.58 L398.93 332.49 L399.37 332.4 L399.81 332.3 L400.25 332.21 L400.69 332.12 L401.13 332.02 L401.57 331.93 L402.01 331.83 L402.45 331.74 L402.89 331.65 L403.33 331.56 L403.76 331.47 L404.2 331.37 L404.64 331.29 L405.08 331.2 L405.52 331.11 L405.96 331.02 L406.4 330.94 L406.84 330.86 L407.28 330.78 L407.72 330.7 L408.16 330.62 L408.59 330.54 L409.03 330.47 L409.47 330.4 L409.91 330.33 L410.35 330.26 L410.79 330.19 L411.23 330.13 L411.67 330.07 L412.11 330.02 L412.55 329.96 L412.99 329.91 L413.42 329.86 L413.86 329.82 L414.3 329.78 L414.74 329.74 L415.18 329.7 L415.62 329.66 L416.06 329.63 L416.5 329.59 L416.94 329.55 L417.38 329.51 L417.82 329.47 L418.25 329.44 L418.69 329.4 L419.13 329.36 L419.57 329.32 L420.01 329.29 L420.45 329.25 L420.89 329.21 L421.33 329.18 L421.77 329.14 L422.21 329.11 L422.65 329.07 L423.08 329.04 L423.52 329.01 L423.96 328.98 L424.4 328.94 L424.84 328.91 L425.28 328.88 L425.72 328.85 L426.16 328.83 L426.6 328.8 L427.04 328.77 L427.48 328.75 L427.92 328.72 L428.35 328.7 L428.79 328.68 L429.23 328.66 L429.67 328.64 L430.11 328.62 L430.55 328.6 L430.99 328.59 L431.43 328.57 L431.87 328.56 L432.31 328.55 L432.75 328.54 L433.18 328.53 L433.62 328.53 L434.06 328.52 L434.5 328.52 L434.94 328.52 L435.38 328.52 L435.82 328.52 L436.26 328.53 L436.7 328.55 L437.14 328.57 L437.58 328.59 L438.01 328.62 L438.45 328.66 L438.89 328.69 L439.33 328.74 L439.77 328.78 L440.21 328.83 L440.65 328.89 L441.09 328.95 L441.53 329.01 L441.97 329.08 L442.41 329.15 L442.84 329.22 L443.28 329.3 L443.72 329.38 L444.16 329.47 L444.6 329.55 L445.04 329.64 L445.48 329.74 L445.92 329.83 L446.36 329.93 L446.8 330.04 L447.24 330.14 L447.67 330.25 L448.11 330.36 L448.55 330.47 L448.99 330.59 L449.43 330.7 L449.87 330.82 L450.31 330.94 L450.75 331.07 L451.19 331.19 L451.63 331.32 L452.07 331.45 L452.5 331.58 L452.94 331.71 L453.38 331.84 L453.82 331.98 L454.26 332.11 L454.7 332.25" fill="none" stroke="#e4bc48" stroke-width="1.2" stroke-linejoin="round" />
<circle cx="279.5" cy="345.53" r="1.45" fill="#d4a830" stroke="none" stroke-width="0"/>
<circle cx="281.77" cy="343.13" r="1.45" fill="#d4a830" stroke="none" stroke-width="0"/>
<circle cx="284.03" cy="340.59" r="1.45" fill="#d4a830" stroke="none" stroke-width="0"/>
<circle cx="286.3" cy="337.9" r="1.45" fill="#d4a830" stroke="none" stroke-width="0"/>
<circle cx="288.57" cy="335.09" r="1.45" fill="#d4a830" stroke="none" stroke-width="0"/>
<circle cx="290.84" cy="332.11" r="1.45" fill="#d4a830" stroke="none" stroke-width="0"/>
<circle cx="293.1" cy="328.81" r="1.45" fill="#d4a830" stroke="none" stroke-width="0"/>
<circle cx="295.37" cy="325.31" r="1.45" fill="#d4a830" stroke="none" stroke-width="0"/>
<circle cx="297.64" cy="321.77" r="1.45" fill="#d4a830" stroke="none" stroke-width="0"/>
<circle cx="299.91" cy="318.36" r="1.45" fill="#d4a830" stroke="none" stroke-width="0"/>
<circle cx="302.17" cy="315.24" r="1.45" fill="#d4a830" stroke="none" stroke-width="0"/>
<circle cx="304.44" cy="311.87" r="1.45" fill="#d4a830" stroke="none" stroke-width="0"/>
<circle cx="306.71" cy="308.34" r="1.45" fill="#d4a830" stroke="none" stroke-width="0"/>
<circle cx="308.97" cy="305.26" r="1.45" fill="#d4a830" stroke="none" stroke-width="0"/>
<circle cx="311.24" cy="303.24" r="1.45" fill="#d4a830" stroke="none" stroke-width="0"/>
<circle cx="313.51" cy="302.84" r="1.45" fill="#d4a830" stroke="none" stroke-width="0"/>
<circle cx="315.78" cy="303.57" r="1.45" fill="#d4a830" stroke="none" stroke-width="0"/>
<circle cx="318.04" cy="304.98" r="1.45" fill="#d4a830" stroke="none" stroke-width="0"/>
<circle cx="320.31" cy="306.81" r="1.45" fill="#d4a830" stroke="none" stroke-width="0"/>
<circle cx="322.58" cy="308.79" r="1.45" fill="#d4a830" stroke="none" stroke-width="0"/>
<circle cx="324.85" cy="310.78" r="1.45" fill="#d4a830" stroke="none" stroke-width="0"/>
<circle cx="327.11" cy="313.35" r="1.45" fill="#d4a830" stroke="none" stroke-width="0"/>
<circle cx="329.38" cy="316.34" r="1.45" fill="#d4a830" stroke="none" stroke-width="0"/>
<circle cx="331.65" cy="319.38" r="1.45" fill="#d4a830" stroke="none" stroke-width="0"/>
<circle cx="333.92" cy="322.14" r="1.45" fill="#d4a830" stroke="none" stroke-width="0"/>
<circle cx="336.18" cy="324.29" r="1.45" fill="#d4a830" stroke="none" stroke-width="0"/>
<circle cx="338.45" cy="326.06" r="1.45" fill="#d4a830" stroke="none" stroke-width="0"/>
<circle cx="340.72" cy="327.68" r="1.45" fill="#d4a830" stroke="none" stroke-width="0"/>
<circle cx="342.98" cy="329.13" r="1.45" fill="#d4a830" stroke="none" stroke-width="0"/>
<circle cx="345.25" cy="330.38" r="1.45" fill="#d4a830" stroke="none" stroke-width="0"/>
<circle cx="347.52" cy="331.42" r="1.45" fill="#d4a830" stroke="none" stroke-width="0"/>
<circle cx="349.79" cy="332.36" r="1.45" fill="#d4a830" stroke="none" stroke-width="0"/>
<circle cx="352.05" cy="333.29" r="1.45" fill="#d4a830" stroke="none" stroke-width="0"/>
<circle cx="354.32" cy="334.14" r="1.45" fill="#d4a830" stroke="none" stroke-width="0"/>
<circle cx="356.59" cy="334.85" r="1.45" fill="#d4a830" stroke="none" stroke-width="0"/>
<circle cx="358.86" cy="335.34" r="1.45" fill="#d4a830" stroke="none" stroke-width="0"/>
<circle cx="361.12" cy="335.56" r="1.45" fill="#d4a830" stroke="none" stroke-width="0"/>
<circle cx="363.39" cy="335.56" r="1.45" fill="#d4a830" stroke="none" stroke-width="0"/>
<circle cx="365.66" cy="335.53" r="1.45" fill="#d4a830" stroke="none" stroke-width="0"/>
<circle cx="367.92" cy="335.49" r="1.45" fill="#d4a830" stroke="none" stroke-width="0"/>
<circle cx="370.19" cy="335.42" r="1.45" fill="#d4a830" stroke="none" stroke-width="0"/>
<circle cx="372.46" cy="335.35" r="1.45" fill="#d4a830" stroke="none" stroke-width="0"/>
<circle cx="374.73" cy="335.25" r="1.45" fill="#d4a830" stroke="none" stroke-width="0"/>
<circle cx="376.99" cy="335.15" r="1.45" fill="#d4a830" stroke="none" stroke-width="0"/>
<circle cx="379.26" cy="335.04" r="1.45" fill="#d4a830" stroke="none" stroke-width="0"/>
<circle cx="381.53" cy="334.91" r="1.45" fill="#d4a830" stroke="none" stroke-width="0"/>
<circle cx="383.8" cy="334.79" r="1.45" fill="#d4a830" stroke="none" stroke-width="0"/>
<circle cx="386.06" cy="334.64" r="1.45" fill="#d4a830" stroke="none" stroke-width="0"/>
<circle cx="388.33" cy="334.4" r="1.45" fill="#d4a830" stroke="none" stroke-width="0"/>
<circle cx="390.6" cy="334.08" r="1.45" fill="#d4a830" stroke="none" stroke-width="0"/>
<circle cx="392.86" cy="333.71" r="1.45" fill="#d4a830" stroke="none" stroke-width="0"/>
<circle cx="395.13" cy="333.28" r="1.45" fill="#d4a830" stroke="none" stroke-width="0"/>
<circle cx="397.4" cy="332.82" r="1.45" fill="#d4a830" stroke="none" stroke-width="0"/>
<circle cx="399.67" cy="332.33" r="1.45" fill="#d4a830" stroke="none" stroke-width="0"/>
<circle cx="401.93" cy="331.85" r="1.45" fill="#d4a830" stroke="none" stroke-width="0"/>
<circle cx="404.2" cy="331.38" r="1.45" fill="#d4a830" stroke="none" stroke-width="0"/>
<circle cx="406.47" cy="330.93" r="1.45" fill="#d4a830" stroke="none" stroke-width="0"/>
<circle cx="408.74" cy="330.52" r="1.45" fill="#d4a830" stroke="none" stroke-width="0"/>
<circle cx="411" cy="330.16" r="1.45" fill="#d4a830" stroke="none" stroke-width="0"/>
<circle cx="413.27" cy="329.88" r="1.45" fill="#d4a830" stroke="none" stroke-width="0"/>
<circle cx="415.54" cy="329.67" r="1.45" fill="#d4a830" stroke="none" stroke-width="0"/>
<circle cx="417.8" cy="329.47" r="1.45" fill="#d4a830" stroke="none" stroke-width="0"/>
<circle cx="420.07" cy="329.28" r="1.45" fill="#d4a830" stroke="none" stroke-width="0"/>
<circle cx="422.34" cy="329.1" r="1.45" fill="#d4a830" stroke="none" stroke-width="0"/>
<circle cx="424.61" cy="328.93" r="1.45" fill="#d4a830" stroke="none" stroke-width="0"/>
<circle cx="426.87" cy="328.78" r="1.45" fill="#d4a830" stroke="none" stroke-width="0"/>
<circle cx="429.14" cy="328.66" r="1.45" fill="#d4a830" stroke="none" stroke-width="0"/>
<circle cx="431.41" cy="328.57" r="1.45" fill="#d4a830" stroke="none" stroke-width="0"/>
<circle cx="433.68" cy="328.52" r="1.45" fill="#d4a830" stroke="none" stroke-width="0"/>
<circle cx="435.94" cy="328.52" r="1.45" fill="#d4a830" stroke="none" stroke-width="0"/>
<circle cx="438.21" cy="328.64" r="1.45" fill="#d4a830" stroke="none" stroke-width="0"/>
<circle cx="440.48" cy="328.87" r="1.45" fill="#d4a830" stroke="none" stroke-width="0"/>
<circle cx="442.75" cy="329.21" r="1.45" fill="#d4a830" stroke="none" stroke-width="0"/>
<circle cx="445.01" cy="329.64" r="1.45" fill="#d4a830" stroke="none" stroke-width="0"/>
<circle cx="447.28" cy="330.15" r="1.45" fill="#d4a830" stroke="none" stroke-width="0"/>
<circle cx="449.55" cy="330.73" r="1.45" fill="#d4a830" stroke="none" stroke-width="0"/>
<circle cx="451.81" cy="331.37" r="1.45" fill="#d4a830" stroke="none" stroke-width="0"/>
<circle cx="454.08" cy="332.06" r="1.45" fill="#d4a830" stroke="none" stroke-width="0"/>
<rect x="279.5" y="220.5" width="175.2" height="140.8" fill="none" stroke="#3c3c3c" stroke-width="1.4"/>
<line x1="289.81" y1="361.3" x2="289.81" y2="358.3" stroke="#3c3c3c" stroke-width="1.0" />
<text x="289.81" y="371.8" font-size="9.0" text-anchor="middle" font-weight="bold" font-style="normal" fill="#222" stroke="#222" stroke-width="0.25">2</text>
<line x1="310.42" y1="361.3" x2="310.42" y2="358.3" stroke="#3c3c3c" stroke-width="1.0" />
<text x="310.42" y="371.8" font-size="9.0" text-anchor="middle" font-weight="bold" font-style="normal" fill="#222" stroke="#222" stroke-width="0.25">4</text>
<line x1="331.03" y1="361.3" x2="331.03" y2="358.3" stroke="#3c3c3c" stroke-width="1.0" />
<text x="331.03" y="371.8" font-size="9.0" text-anchor="middle" font-weight="bold" font-style="normal" fill="#222" stroke="#222" stroke-width="0.25">6</text>
<line x1="351.64" y1="361.3" x2="351.64" y2="358.3" stroke="#3c3c3c" stroke-width="1.0" />
<text x="351.64" y="371.8" font-size="9.0" text-anchor="middle" font-weight="bold" font-style="normal" fill="#222" stroke="#222" stroke-width="0.25">8</text>
<line x1="372.25" y1="361.3" x2="372.25" y2="358.3" stroke="#3c3c3c" stroke-width="1.0" />
<text x="372.25" y="371.8" font-size="9.0" text-anchor="middle" font-weight="bold" font-style="normal" fill="#222" stroke="#222" stroke-width="0.25">10</text>
<line x1="392.86" y1="361.3" x2="392.86" y2="358.3" stroke="#3c3c3c" stroke-width="1.0" />
<text x="392.86" y="371.8" font-size="9.0" text-anchor="middle" font-weight="bold" font-style="normal" fill="#222" stroke="#222" stroke-width="0.25">12</text>
<line x1="413.48" y1="361.3" x2="413.48" y2="358.3" stroke="#3c3c3c" stroke-width="1.0" />
<text x="413.48" y="371.8" font-size="9.0" text-anchor="middle" font-weight="bold" font-style="normal" fill="#222" stroke="#222" stroke-width="0.25">14</text>
<line x1="434.09" y1="361.3" x2="434.09" y2="358.3" stroke="#3c3c3c" stroke-width="1.0" />
<text x="434.09" y="371.8" font-size="9.0" text-anchor="middle" font-weight="bold" font-style="normal" fill="#222" stroke="#222" stroke-width="0.25">16</text>
<line x1="454.7" y1="361.3" x2="454.7" y2="358.3" stroke="#3c3c3c" stroke-width="1.0" />
<text x="454.7" y="371.8" font-size="9.0" text-anchor="middle" font-weight="bold" font-style="normal" fill="#222" stroke="#222" stroke-width="0.25">18</text>
<line x1="279.5" y1="361.3" x2="279.5" y2="359.6" stroke="#3c3c3c" stroke-width="1.0" />
<line x1="300.11" y1="361.3" x2="300.11" y2="359.6" stroke="#3c3c3c" stroke-width="1.0" />
<line x1="320.72" y1="361.3" x2="320.72" y2="359.6" stroke="#3c3c3c" stroke-width="1.0" />
<line x1="341.34" y1="361.3" x2="341.34" y2="359.6" stroke="#3c3c3c" stroke-width="1.0" />
<line x1="361.95" y1="361.3" x2="361.95" y2="359.6" stroke="#3c3c3c" stroke-width="1.0" />
<line x1="382.56" y1="361.3" x2="382.56" y2="359.6" stroke="#3c3c3c" stroke-width="1.0" />
<line x1="403.17" y1="361.3" x2="403.17" y2="359.6" stroke="#3c3c3c" stroke-width="1.0" />
<line x1="423.78" y1="361.3" x2="423.78" y2="359.6" stroke="#3c3c3c" stroke-width="1.0" />
<line x1="444.39" y1="361.3" x2="444.39" y2="359.6" stroke="#3c3c3c" stroke-width="1.0" />
<line x1="279.5" y1="361.3" x2="282.5" y2="361.3" stroke="#3c3c3c" stroke-width="1.0" />
<text x="275.3" y="364.4" font-size="9.0" text-anchor="end" font-weight="bold" font-style="normal" fill="#222" stroke="#222" stroke-width="0.25">0.0</text>
<line x1="279.5" y1="344.7" x2="281.2" y2="344.7" stroke="#3c3c3c" stroke-width="1.0" />
<line x1="279.5" y1="328.1" x2="282.5" y2="328.1" stroke="#3c3c3c" stroke-width="1.0" />
<text x="275.3" y="331.2" font-size="9.0" text-anchor="end" font-weight="bold" font-style="normal" fill="#222" stroke="#222" stroke-width="0.25">0.4</text>
<line x1="279.5" y1="311.5" x2="281.2" y2="311.5" stroke="#3c3c3c" stroke-width="1.0" />
<line x1="279.5" y1="294.9" x2="282.5" y2="294.9" stroke="#3c3c3c" stroke-width="1.0" />
<text x="275.3" y="298" font-size="9.0" text-anchor="end" font-weight="bold" font-style="normal" fill="#222" stroke="#222" stroke-width="0.25">0.8</text>
<line x1="279.5" y1="278.3" x2="281.2" y2="278.3" stroke="#3c3c3c" stroke-width="1.0" />
<line x1="279.5" y1="261.7" x2="282.5" y2="261.7" stroke="#3c3c3c" stroke-width="1.0" />
<text x="275.3" y="264.8" font-size="9.0" text-anchor="end" font-weight="bold" font-style="normal" fill="#222" stroke="#222" stroke-width="0.25">1.2</text>
<line x1="279.5" y1="245.1" x2="281.2" y2="245.1" stroke="#3c3c3c" stroke-width="1.0" />
<line x1="279.5" y1="228.5" x2="282.5" y2="228.5" stroke="#3c3c3c" stroke-width="1.0" />
<text x="275.3" y="231.6" font-size="9.0" text-anchor="end" font-weight="bold" font-style="normal" fill="#222" stroke="#222" stroke-width="0.25">1.6</text>
<text x="367.1" y="383.6" font-size="10.6" text-anchor="middle" font-weight="bold" font-style="normal" fill="#222" stroke="#222" stroke-width="0.25">Frequency (GHz)</text>
<text x="258.8" y="286.4" font-size="10.2" text-anchor="middle" font-weight="bold" font-style="italic" fill="#222" stroke="#222" stroke-width="0.25" transform="rotate(-90 258.8 286.4)">Z<tspan font-size="6.5" dy="2">in</tspan><tspan dy="-2">/Z</tspan><tspan font-size="6.5" dy="2">0</tspan></text>
<line x1="304.3" y1="229.6" x2="322.6" y2="229.6" stroke="#808080" stroke-width="1.1" />
<circle cx="313.3" cy="229.6" r="1.3" fill="#5c5c5c" stroke="none" stroke-width="0"/>
<text x="323.6" y="232.3" font-size="8.0" text-anchor="start" font-weight="normal" font-style="normal" fill="#555">t=1 mm</text>
<line x1="351.4" y1="229.6" x2="369.7" y2="229.6" stroke="#50d8d8" stroke-width="1.1" />
<circle cx="360.4" cy="229.6" r="1.3" fill="#30c0c8" stroke="none" stroke-width="0"/>
<text x="370.7" y="232.3" font-size="8.0" text-anchor="start" font-weight="normal" font-style="normal" fill="#555">t=2 mm</text>
<line x1="397.4" y1="229.6" x2="415.7" y2="229.6" stroke="#5a88e8" stroke-width="1.1" />
<circle cx="406.4" cy="229.6" r="1.3" fill="#3f6ed8" stroke="none" stroke-width="0"/>
<text x="416.7" y="232.3" font-size="8.0" text-anchor="start" font-weight="normal" font-style="normal" fill="#555">t=3 mm</text>
<line x1="304.3" y1="240.3" x2="322.6" y2="240.3" stroke="#66c09a" stroke-width="1.1" />
<circle cx="313.3" cy="240.3" r="1.3" fill="#48a880" stroke="none" stroke-width="0"/>
<text x="323.6" y="243" font-size="8.0" text-anchor="start" font-weight="normal" font-style="normal" fill="#555">t=4 mm</text>
<line x1="351.4" y1="240.3" x2="369.7" y2="240.3" stroke="#cda0ec" stroke-width="1.1" />
<circle cx="360.4" cy="240.3" r="1.3" fill="#b888e0" stroke="none" stroke-width="0"/>
<text x="370.7" y="243" font-size="8.0" text-anchor="start" font-weight="normal" font-style="normal" fill="#555">t=5 mm</text>
<line x1="397.4" y1="240.3" x2="415.7" y2="240.3" stroke="#e4bc48" stroke-width="1.1" />
<circle cx="406.4" cy="240.3" r="1.3" fill="#d4a830" stroke="none" stroke-width="0"/>
<text x="416.7" y="243" font-size="8.0" text-anchor="start" font-weight="normal" font-style="normal" fill="#555">t= 6mm</text>
<text x="506.5" y="215.1" font-size="13.5" text-anchor="start" font-weight="bold" font-style="normal" fill="#222" stroke="#222" stroke-width="0.25">(f)</text>
<path d="M528.75 354.25 L529.33 354.06 L529.91 353.88 L530.49 353.69 L531.07 353.49 L531.66 353.3 L532.24 353.1 L532.82 352.91 L533.4 352.71 L533.98 352.51 L534.56 352.31 L535.14 352.1 L535.72 351.89 L536.3 351.69 L536.89 351.47 L537.47 351.26 L538.05 351.05 L538.63 350.83 L539.21 350.62 L539.79 350.4 L540.37 350.19 L540.95 349.97 L541.53 349.75 L542.12 349.53 L542.7 349.3 L543.28 349.08 L543.86 348.85 L544.44 348.62 L545.02 348.39 L545.6 348.15 L546.18 347.91 L546.76 347.67 L547.35 347.42 L547.93 347.17 L548.51 346.92 L549.09 346.66 L549.67 346.4 L550.25 346.13 L550.83 345.86 L551.41 345.57 L551.99 345.28 L552.58 344.99 L553.16 344.68 L553.74 344.37 L554.32 344.06 L554.9 343.74 L555.48 343.42 L556.06 343.09 L556.64 342.76 L557.22 342.43 L557.81 342.11 L558.39 341.78 L558.97 341.45 L559.55 341.12 L560.13 340.79 L560.71 340.47 L561.29 340.15 L561.87 339.84 L562.45 339.52 L563.04 339.21 L563.62 338.9 L564.2 338.57 L564.78 338.25 L565.36 337.92 L565.94 337.59 L566.52 337.25 L567.1 336.92 L567.68 336.59 L568.27 336.26 L568.85 335.94 L569.43 335.62 L570.01 335.3 L570.59 335 L571.17 334.7 L571.75 334.41 L572.33 334.13 L572.91 333.86 L573.49 333.6 L574.08 333.36 L574.66 333.13 L575.24 332.91 L575.82 332.71 L576.4 332.51 L576.98 332.31 L577.56 332.13 L578.14 331.94 L578.72 331.77 L579.31 331.59 L579.89 331.43 L580.47 331.26 L581.05 331.1 L581.63 330.94 L582.21 330.79 L582.79 330.64 L583.37 330.49 L583.95 330.35 L584.54 330.2 L585.12 330.06 L585.7 329.92 L586.28 329.79 L586.86 329.65 L587.44 329.51 L588.02 329.38 L588.6 329.25 L589.18 329.12 L589.77 329 L590.35 328.88 L590.93 328.76 L591.51 328.64 L592.09 328.53 L592.67 328.42 L593.25 328.31 L593.83 328.2 L594.41 328.09 L595 327.98 L595.58 327.87 L596.16 327.76 L596.74 327.65 L597.32 327.54 L597.9 327.42 L598.48 327.31 L599.06 327.19 L599.64 327.07 L600.23 326.95 L600.81 326.83 L601.39 326.71 L601.97 326.59 L602.55 326.47 L603.13 326.35 L603.71 326.23 L604.29 326.11 L604.87 325.99 L605.46 325.86 L606.04 325.74 L606.62 325.62 L607.2 325.49 L607.78 325.36 L608.36 325.23 L608.94 325.1 L609.52 324.97 L610.1 324.83 L610.69 324.7 L611.27 324.56 L611.85 324.41 L612.43 324.27 L613.01 324.12 L613.59 323.97 L614.17 323.82 L614.75 323.66 L615.33 323.5 L615.92 323.35 L616.5 323.18 L617.08 323.02 L617.66 322.85 L618.24 322.68 L618.82 322.51 L619.4 322.34 L619.98 322.16 L620.56 321.98 L621.15 321.79 L621.73 321.61 L622.31 321.42 L622.89 321.23 L623.47 321.03 L624.05 320.83 L624.63 320.63 L625.21 320.42 L625.79 320.22 L626.38 320.01 L626.96 319.8 L627.54 319.58 L628.12 319.37 L628.7 319.14 L629.28 318.92 L629.86 318.68 L630.44 318.44 L631.02 318.19 L631.61 317.94 L632.19 317.67 L632.77 317.4 L633.35 317.12 L633.93 316.82 L634.51 316.52 L635.09 316.2 L635.67 315.86 L636.25 315.49 L636.84 315.11 L637.42 314.7 L638 314.27 L638.58 313.83 L639.16 313.36 L639.74 312.89 L640.32 312.4 L640.9 311.91 L641.48 311.4 L642.07 310.89 L642.65 310.37 L643.23 309.81 L643.81 309.2 L644.39 308.56 L644.97 307.89 L645.55 307.2 L646.13 306.51 L646.71 305.82 L647.3 305.15 L647.88 304.5 L648.46 303.89 L649.04 303.32 L649.62 302.8 L650.2 302.35 L650.78 301.89 L651.36 301.43 L651.94 300.98 L652.53 300.56 L653.11 300.18 L653.69 299.87 L654.27 299.64 L654.85 299.52 L655.43 299.47 L656.01 299.43 L656.59 299.4 L657.17 299.37 L657.76 299.34 L658.34 299.32 L658.92 299.31 L659.5 299.3 L660.08 299.3 L660.66 299.31 L661.24 299.35 L661.82 299.39 L662.4 299.44 L662.98 299.49 L663.57 299.54 L664.15 299.58 L664.73 299.6 L665.31 299.6 L665.89 299.56 L666.47 299.49 L667.05 299.4 L667.63 299.27 L668.21 299.13 L668.8 298.95 L669.38 298.76 L669.96 298.55 L670.54 298.32 L671.12 298.08 L671.7 297.83 L672.28 297.56 L672.86 297.29 L673.44 297.01 L674.03 296.73 L674.61 296.44 L675.19 296.16 L675.77 295.85 L676.35 295.51 L676.93 295.13 L677.51 294.73 L678.09 294.29 L678.67 293.81 L679.26 293.3 L679.84 292.75 L680.42 292.16 L681 291.53 L681.58 290.85 L682.16 290.04 L682.74 289.1 L683.32 288.05 L683.9 286.9 L684.49 285.66 L685.07 284.34 L685.65 282.86 L686.23 281.16 L686.81 279.3 L687.39 277.33 L687.97 275.28 L688.55 273.2 L689.13 271.05 L689.72 268.59 L690.3 265.98 L690.88 263.37 L691.46 260.93 L692.04 258.82 L692.62 257.2 L693.2 255.85 L693.78 254.62 L694.36 253.49 L694.95 252.46 L695.53 251.51 L696.11 250.64 L696.69 249.82 L697.27 249.05 L697.85 248.31 L698.43 247.6 L699.01 246.92 L699.59 246.27 L700.18 245.67 L700.76 245.11 L701.34 244.6 L701.92 244.14 L702.5 243.75" fill="none" stroke="#4a7ee0" stroke-width="2.0" stroke-linejoin="round" />
<circle cx="528.75" cy="354.25" r="1.75" fill="#3a6ad0" stroke="none" stroke-width="0"/>
<circle cx="532.25" cy="353.1" r="1.75" fill="#3a6ad0" stroke="none" stroke-width="0"/>
<circle cx="535.75" cy="351.88" r="1.75" fill="#3a6ad0" stroke="none" stroke-width="0"/>
<circle cx="539.25" cy="350.6" r="1.75" fill="#3a6ad0" stroke="none" stroke-width="0"/>
<circle cx="542.75" cy="349.28" r="1.75" fill="#3a6ad0" stroke="none" stroke-width="0"/>
<circle cx="546.25" cy="347.89" r="1.75" fill="#3a6ad0" stroke="none" stroke-width="0"/>
<circle cx="549.75" cy="346.36" r="1.75" fill="#3a6ad0" stroke="none" stroke-width="0"/>
<circle cx="553.25" cy="344.63" r="1.75" fill="#3a6ad0" stroke="none" stroke-width="0"/>
<circle cx="556.75" cy="342.7" r="1.75" fill="#3a6ad0" stroke="none" stroke-width="0"/>
<circle cx="560.25" cy="340.73" r="1.75" fill="#3a6ad0" stroke="none" stroke-width="0"/>
<circle cx="563.75" cy="338.82" r="1.75" fill="#3a6ad0" stroke="none" stroke-width="0"/>
<circle cx="567.25" cy="336.84" r="1.75" fill="#3a6ad0" stroke="none" stroke-width="0"/>
<circle cx="570.75" cy="334.91" r="1.75" fill="#3a6ad0" stroke="none" stroke-width="0"/>
<circle cx="574.25" cy="333.29" r="1.75" fill="#3a6ad0" stroke="none" stroke-width="0"/>
<circle cx="577.75" cy="332.07" r="1.75" fill="#3a6ad0" stroke="none" stroke-width="0"/>
<circle cx="581.25" cy="331.05" r="1.75" fill="#3a6ad0" stroke="none" stroke-width="0"/>
<circle cx="584.75" cy="330.15" r="1.75" fill="#3a6ad0" stroke="none" stroke-width="0"/>
<circle cx="588.25" cy="329.33" r="1.75" fill="#3a6ad0" stroke="none" stroke-width="0"/>
<circle cx="591.75" cy="328.6" r="1.75" fill="#3a6ad0" stroke="none" stroke-width="0"/>
<circle cx="595.25" cy="327.93" r="1.75" fill="#3a6ad0" stroke="none" stroke-width="0"/>
<circle cx="598.75" cy="327.26" r="1.75" fill="#3a6ad0" stroke="none" stroke-width="0"/>
<circle cx="602.25" cy="326.53" r="1.75" fill="#3a6ad0" stroke="none" stroke-width="0"/>
<circle cx="605.75" cy="325.8" r="1.75" fill="#3a6ad0" stroke="none" stroke-width="0"/>
<circle cx="609.25" cy="325.03" r="1.75" fill="#3a6ad0" stroke="none" stroke-width="0"/>
<circle cx="612.75" cy="324.19" r="1.75" fill="#3a6ad0" stroke="none" stroke-width="0"/>
<circle cx="616.25" cy="323.25" r="1.75" fill="#3a6ad0" stroke="none" stroke-width="0"/>
<circle cx="619.75" cy="322.23" r="1.75" fill="#3a6ad0" stroke="none" stroke-width="0"/>
<circle cx="623.25" cy="321.1" r="1.75" fill="#3a6ad0" stroke="none" stroke-width="0"/>
<circle cx="626.75" cy="319.87" r="1.75" fill="#3a6ad0" stroke="none" stroke-width="0"/>
<circle cx="630.25" cy="318.52" r="1.75" fill="#3a6ad0" stroke="none" stroke-width="0"/>
<circle cx="633.75" cy="316.91" r="1.75" fill="#3a6ad0" stroke="none" stroke-width="0"/>
<circle cx="637.25" cy="314.82" r="1.75" fill="#3a6ad0" stroke="none" stroke-width="0"/>
<circle cx="640.75" cy="312.04" r="1.75" fill="#3a6ad0" stroke="none" stroke-width="0"/>
<circle cx="644.25" cy="308.71" r="1.75" fill="#3a6ad0" stroke="none" stroke-width="0"/>
<circle cx="647.75" cy="304.64" r="1.75" fill="#3a6ad0" stroke="none" stroke-width="0"/>
<circle cx="651.25" cy="301.52" r="1.75" fill="#3a6ad0" stroke="none" stroke-width="0"/>
<circle cx="654.75" cy="299.53" r="1.75" fill="#3a6ad0" stroke="none" stroke-width="0"/>
<circle cx="658.25" cy="299.33" r="1.75" fill="#3a6ad0" stroke="none" stroke-width="0"/>
<circle cx="661.75" cy="299.38" r="1.75" fill="#3a6ad0" stroke="none" stroke-width="0"/>
<circle cx="665.25" cy="299.6" r="1.75" fill="#3a6ad0" stroke="none" stroke-width="0"/>
<circle cx="668.75" cy="298.97" r="1.75" fill="#3a6ad0" stroke="none" stroke-width="0"/>
<circle cx="672.25" cy="297.58" r="1.75" fill="#3a6ad0" stroke="none" stroke-width="0"/>
<circle cx="675.75" cy="295.86" r="1.75" fill="#3a6ad0" stroke="none" stroke-width="0"/>
<circle cx="679.25" cy="293.3" r="1.75" fill="#3a6ad0" stroke="none" stroke-width="0"/>
<circle cx="682.75" cy="289.09" r="1.75" fill="#3a6ad0" stroke="none" stroke-width="0"/>
<circle cx="686.25" cy="281.1" r="1.75" fill="#3a6ad0" stroke="none" stroke-width="0"/>
<circle cx="689.75" cy="268.44" r="1.75" fill="#3a6ad0" stroke="none" stroke-width="0"/>
<circle cx="693.25" cy="255.75" r="1.75" fill="#3a6ad0" stroke="none" stroke-width="0"/>
<circle cx="696.75" cy="249.73" r="1.75" fill="#3a6ad0" stroke="none" stroke-width="0"/>
<circle cx="700.25" cy="245.59" r="1.75" fill="#3a6ad0" stroke="none" stroke-width="0"/>
<rect x="528.5" y="222" width="175.3" height="140.6" fill="none" stroke="#3c3c3c" stroke-width="1.4"/>
<line x1="528.5" y1="362.6" x2="528.5" y2="359.6" stroke="#3c3c3c" stroke-width="1.0" />
<text x="528.5" y="373" font-size="9.0" text-anchor="middle" font-weight="bold" font-style="normal" fill="#222" stroke="#222" stroke-width="0.25">2</text>
<line x1="550.41" y1="362.6" x2="550.41" y2="359.6" stroke="#3c3c3c" stroke-width="1.0" />
<text x="550.41" y="373" font-size="9.0" text-anchor="middle" font-weight="bold" font-style="normal" fill="#222" stroke="#222" stroke-width="0.25">4</text>
<line x1="572.33" y1="362.6" x2="572.33" y2="359.6" stroke="#3c3c3c" stroke-width="1.0" />
<text x="572.33" y="373" font-size="9.0" text-anchor="middle" font-weight="bold" font-style="normal" fill="#222" stroke="#222" stroke-width="0.25">6</text>
<line x1="594.24" y1="362.6" x2="594.24" y2="359.6" stroke="#3c3c3c" stroke-width="1.0" />
<text x="594.24" y="373" font-size="9.0" text-anchor="middle" font-weight="bold" font-style="normal" fill="#222" stroke="#222" stroke-width="0.25">8</text>
<line x1="616.15" y1="362.6" x2="616.15" y2="359.6" stroke="#3c3c3c" stroke-width="1.0" />
<text x="616.15" y="373" font-size="9.0" text-anchor="middle" font-weight="bold" font-style="normal" fill="#222" stroke="#222" stroke-width="0.25">10</text>
<line x1="638.06" y1="362.6" x2="638.06" y2="359.6" stroke="#3c3c3c" stroke-width="1.0" />
<text x="638.06" y="373" font-size="9.0" text-anchor="middle" font-weight="bold" font-style="normal" fill="#222" stroke="#222" stroke-width="0.25">12</text>
<line x1="659.97" y1="362.6" x2="659.97" y2="359.6" stroke="#3c3c3c" stroke-width="1.0" />
<text x="659.97" y="373" font-size="9.0" text-anchor="middle" font-weight="bold" font-style="normal" fill="#222" stroke="#222" stroke-width="0.25">14</text>
<line x1="681.89" y1="362.6" x2="681.89" y2="359.6" stroke="#3c3c3c" stroke-width="1.0" />
<text x="681.89" y="373" font-size="9.0" text-anchor="middle" font-weight="bold" font-style="normal" fill="#222" stroke="#222" stroke-width="0.25">16</text>
<line x1="703.8" y1="362.6" x2="703.8" y2="359.6" stroke="#3c3c3c" stroke-width="1.0" />
<text x="703.8" y="373" font-size="9.0" text-anchor="middle" font-weight="bold" font-style="normal" fill="#222" stroke="#222" stroke-width="0.25">18</text>
<line x1="539.46" y1="362.6" x2="539.46" y2="360.9" stroke="#3c3c3c" stroke-width="1.0" />
<line x1="561.37" y1="362.6" x2="561.37" y2="360.9" stroke="#3c3c3c" stroke-width="1.0" />
<line x1="583.28" y1="362.6" x2="583.28" y2="360.9" stroke="#3c3c3c" stroke-width="1.0" />
<line x1="605.19" y1="362.6" x2="605.19" y2="360.9" stroke="#3c3c3c" stroke-width="1.0" />
<line x1="627.11" y1="362.6" x2="627.11" y2="360.9" stroke="#3c3c3c" stroke-width="1.0" />
<line x1="649.02" y1="362.6" x2="649.02" y2="360.9" stroke="#3c3c3c" stroke-width="1.0" />
<line x1="670.93" y1="362.6" x2="670.93" y2="360.9" stroke="#3c3c3c" stroke-width="1.0" />
<line x1="692.84" y1="362.6" x2="692.84" y2="360.9" stroke="#3c3c3c" stroke-width="1.0" />
<line x1="528.5" y1="362.6" x2="531.5" y2="362.6" stroke="#3c3c3c" stroke-width="1.0" />
<text x="525.2" y="365.7" font-size="9.0" text-anchor="end" font-weight="bold" font-style="normal" fill="#222" stroke="#222" stroke-width="0.25">0</text>
<line x1="528.5" y1="345.03" x2="530.2" y2="345.03" stroke="#3c3c3c" stroke-width="1.0" />
<line x1="528.5" y1="327.45" x2="531.5" y2="327.45" stroke="#3c3c3c" stroke-width="1.0" />
<text x="525.2" y="330.55" font-size="9.0" text-anchor="end" font-weight="bold" font-style="normal" fill="#222" stroke="#222" stroke-width="0.25">100</text>
<line x1="528.5" y1="309.88" x2="530.2" y2="309.88" stroke="#3c3c3c" stroke-width="1.0" />
<line x1="528.5" y1="292.3" x2="531.5" y2="292.3" stroke="#3c3c3c" stroke-width="1.0" />
<text x="525.2" y="295.4" font-size="9.0" text-anchor="end" font-weight="bold" font-style="normal" fill="#222" stroke="#222" stroke-width="0.25">200</text>
<line x1="528.5" y1="274.73" x2="530.2" y2="274.73" stroke="#3c3c3c" stroke-width="1.0" />
<line x1="528.5" y1="257.15" x2="531.5" y2="257.15" stroke="#3c3c3c" stroke-width="1.0" />
<text x="525.2" y="260.25" font-size="9.0" text-anchor="end" font-weight="bold" font-style="normal" fill="#222" stroke="#222" stroke-width="0.25">300</text>
<line x1="528.5" y1="239.58" x2="530.2" y2="239.58" stroke="#3c3c3c" stroke-width="1.0" />
<line x1="528.5" y1="222" x2="531.5" y2="222" stroke="#3c3c3c" stroke-width="1.0" />
<text x="525.2" y="225.1" font-size="9.0" text-anchor="end" font-weight="bold" font-style="normal" fill="#222" stroke="#222" stroke-width="0.25">400</text>
<text x="616.2" y="385.6" font-size="10.6" text-anchor="middle" font-weight="bold" font-style="normal" fill="#222" stroke="#222" stroke-width="0.25">Frequency (GHz)</text>
<text x="506" y="296.2" font-size="10.8" text-anchor="middle" font-weight="bold" font-style="normal" fill="#222" stroke="#222" stroke-width="0.25" transform="rotate(-90 506 296.2)">Attenuation constant <tspan font-style="italic">&#945;</tspan></text>
<text x="18.1" y="397.1" font-size="13.5" text-anchor="start" font-weight="bold" font-style="normal" fill="#222" stroke="#222" stroke-width="0.25">(g)</text>
<path d="M210.8 405.9 C207.33 407.72 196.8 413.25 190 416.8 C183.2 420.35 176.67 423.72 170 427.2 C163.33 430.68 156.67 434.22 150 437.7 C143.33 441.18 135.83 445.05 130 448.1 C124.17 451.15 119.67 453.32 115 456 C110.33 458.68 105.75 461.62 102 464.2 C98.25 466.78 95.25 469.17 92.5 471.5 C89.75 473.83 87.72 476.02 85.5 478.2 C83.28 480.38 80.98 482.58 79.2 484.6 C77.42 486.62 76.13 488.32 74.8 490.3 C73.47 492.28 72.3 494.05 71.2 496.5 C70.1 498.95 68.6 502.22 68.2 505 C67.8 507.78 67.92 510.88 68.8 513.2 C69.68 515.52 71.6 517.63 73.5 518.9 C75.4 520.17 77.98 520.97 80.2 520.8 C82.42 520.63 84.9 519.48 86.8 517.9 C88.7 516.32 90.17 513.37 91.6 511.3 C93.03 509.23 93.67 508.37 95.4 505.5 C97.13 502.63 99.32 498.53 102 494.1 C104.68 489.67 108.33 483.97 111.5 478.9 C114.67 473.83 118.15 468.13 121 463.7 C123.85 459.27 126.37 455.47 128.6 452.3 C130.83 449.13 132.75 446.92 134.4 444.7 C136.05 442.48 137.32 440.35 138.5 439 C139.68 437.65 140.7 436.72 141.5 436.6 C142.3 436.48 142.85 437.32 143.3 438.3 C143.75 439.28 144.12 439.72 144.2 442.5 C144.28 445.28 143.87 450.42 143.8 455 C143.73 459.58 143.75 464.18 143.8 470 C143.85 475.82 144.13 484.98 144.1 489.9 C144.07 494.82 143.85 498.98 143.6 499.5 C143.35 500.02 142.9 496.42 142.6 493 C142.3 489.58 141.77 483 141.8 479 C141.83 475 142.1 470.9 142.8 469 C143.5 467.1 144.8 467.9 146 467.6 C147.2 467.3 148.63 467.37 150 467.2 C151.37 467.03 152.2 467.35 154.2 466.6 C156.2 465.85 159.87 463.87 162 462.7 C164.13 461.53 165.5 460.27 167 459.6 C168.5 458.93 169.77 458.57 171 458.7 C172.23 458.83 173.27 459.27 174.4 460.4 C175.53 461.53 176.95 463.07 177.8 465.5 C178.65 467.93 179 471.25 179.5 475 C180 478.75 180.38 483.83 180.8 488 C181.22 492.17 181.72 496.33 182 500 C182.28 503.67 182.83 507.42 182.5 510 C182.17 512.58 180.8 513.87 180 515.5 C179.2 517.13 178.08 519.08 177.7 519.8" fill="none" stroke="#3f74d6" stroke-width="1.15" />
<path d="M127 468.5 H158.1 V500.3 H100.3" fill="none" stroke="#8a8a8a" stroke-width="1.1" stroke-dasharray="3 2.2"/>
<line x1="127" y1="468.5" x2="127" y2="500.3" stroke="#c090a0" stroke-width="1.1" stroke-dasharray="2.5 2"/>
<circle cx="79.2" cy="508.4" r="11.2" fill="none" stroke="#e05a5a" stroke-width="1.0" stroke-dasharray="2 1.6"/>
<text x="78.7" y="511.4" font-size="8.6" text-anchor="middle" font-weight="bold" font-style="normal" fill="#e03838" stroke="#e03838" stroke-width="0.25">IV</text>
<circle cx="137.2" cy="449.3" r="6.6" fill="none" stroke="#e05a5a" stroke-width="1.0" stroke-dasharray="2 1.6"/>
<text x="136.7" y="452.3" font-size="7.4" text-anchor="middle" font-weight="bold" font-style="normal" fill="#e03838" stroke="#e03838" stroke-width="0.25">III</text>
<circle cx="168.2" cy="469.7" r="7.8" fill="none" stroke="#e05a5a" stroke-width="1.0" stroke-dasharray="2 1.6"/>
<text x="167.7" y="472.7" font-size="8.6" text-anchor="middle" font-weight="bold" font-style="normal" fill="#e03838" stroke="#e03838" stroke-width="0.25">I</text>
<path d="M124.2 480.5 C118.5 483 114.5 488 113.5 494.5 L111.2 493.2 L112.3 500.6 L117.2 495.7 L115.3 495.3 C116 490 119 485.5 124.2 482.6 Z" fill="#f01818"/>
<g stroke="#777" stroke-width="0.6" fill="none">
<path d="M98 500.6 V535 H130.5"/>
<line x1="98" y1="505" x2="99.6" y2="505"/>
<line x1="98" y1="515" x2="99.6" y2="515"/>
<line x1="98" y1="525" x2="99.6" y2="525"/>
</g>
<path d="M114.3 504.2 C113.6 508 112.8 511 112.1 513.8 M120.3 507.6 C116 511 112 515 110.2 520.4 C109 524 110 528 113 530.4 C116.5 532.5 120 532 120.6 530 C121 527 118 524 115.5 521 C114 519.5 113 517 112.2 514" fill="none" stroke="#6f8fd8" stroke-width="0.7"/>
<circle cx="112.6" cy="525.8" r="3.5" fill="none" stroke="#e07070" stroke-width="0.6" stroke-dasharray="1.2 1"/>
<text x="104.8" y="532.3" font-size="8.2" text-anchor="middle" font-weight="normal" font-style="normal" fill="#e03c3c">II</text>
<text x="107" y="538.6" font-size="3.2" text-anchor="middle" font-weight="normal" font-style="normal" fill="#777">5.0</text>
<text x="122" y="538.6" font-size="3.2" text-anchor="middle" font-weight="normal" font-style="normal" fill="#777">5.5</text>
<rect x="46.6" y="399.5" width="175.1" height="141.1" fill="none" stroke="#3c3c3c" stroke-width="1.4"/>
<line x1="46.6" y1="540.6" x2="46.6" y2="537.6" stroke="#3c3c3c" stroke-width="1.0" />
<text x="46.6" y="551.6" font-size="9.0" text-anchor="middle" font-weight="bold" font-style="normal" fill="#222" stroke="#222" stroke-width="0.25">4.5</text>
<line x1="64.11" y1="540.6" x2="64.11" y2="538.9" stroke="#3c3c3c" stroke-width="1.0" />
<line x1="81.62" y1="540.6" x2="81.62" y2="537.6" stroke="#3c3c3c" stroke-width="1.0" />
<text x="81.62" y="551.6" font-size="9.0" text-anchor="middle" font-weight="bold" font-style="normal" fill="#222" stroke="#222" stroke-width="0.25">5.0</text>
<line x1="99.13" y1="540.6" x2="99.13" y2="538.9" stroke="#3c3c3c" stroke-width="1.0" />
<line x1="116.64" y1="540.6" x2="116.64" y2="537.6" stroke="#3c3c3c" stroke-width="1.0" />
<text x="116.64" y="551.6" font-size="9.0" text-anchor="middle" font-weight="bold" font-style="normal" fill="#222" stroke="#222" stroke-width="0.25">5.5</text>
<line x1="134.15" y1="540.6" x2="134.15" y2="538.9" stroke="#3c3c3c" stroke-width="1.0" />
<line x1="151.66" y1="540.6" x2="151.66" y2="537.6" stroke="#3c3c3c" stroke-width="1.0" />
<text x="151.66" y="551.6" font-size="9.0" text-anchor="middle" font-weight="bold" font-style="normal" fill="#222" stroke="#222" stroke-width="0.25">6.0</text>
<line x1="169.17" y1="540.6" x2="169.17" y2="538.9" stroke="#3c3c3c" stroke-width="1.0" />
<line x1="186.68" y1="540.6" x2="186.68" y2="537.6" stroke="#3c3c3c" stroke-width="1.0" />
<text x="186.68" y="551.6" font-size="9.0" text-anchor="middle" font-weight="bold" font-style="normal" fill="#222" stroke="#222" stroke-width="0.25">6.5</text>
<line x1="204.19" y1="540.6" x2="204.19" y2="538.9" stroke="#3c3c3c" stroke-width="1.0" />
<line x1="221.7" y1="540.6" x2="221.7" y2="537.6" stroke="#3c3c3c" stroke-width="1.0" />
<text x="221.7" y="551.6" font-size="9.0" text-anchor="middle" font-weight="bold" font-style="normal" fill="#222" stroke="#222" stroke-width="0.25">7.0</text>
<line x1="46.6" y1="540.6" x2="49.6" y2="540.6" stroke="#3c3c3c" stroke-width="1.0" />
<text x="43.2" y="543.7" font-size="9.0" text-anchor="end" font-weight="bold" font-style="normal" fill="#222" stroke="#222" stroke-width="0.25">2.0</text>
<line x1="46.6" y1="527.75" x2="48.3" y2="527.75" stroke="#3c3c3c" stroke-width="1.0" />
<line x1="46.6" y1="514.9" x2="49.6" y2="514.9" stroke="#3c3c3c" stroke-width="1.0" />
<text x="43.2" y="518" font-size="9.0" text-anchor="end" font-weight="bold" font-style="normal" fill="#222" stroke="#222" stroke-width="0.25">2.2</text>
<line x1="46.6" y1="502.05" x2="48.3" y2="502.05" stroke="#3c3c3c" stroke-width="1.0" />
<line x1="46.6" y1="489.2" x2="49.6" y2="489.2" stroke="#3c3c3c" stroke-width="1.0" />
<text x="43.2" y="492.3" font-size="9.0" text-anchor="end" font-weight="bold" font-style="normal" fill="#222" stroke="#222" stroke-width="0.25">2.4</text>
<line x1="46.6" y1="476.35" x2="48.3" y2="476.35" stroke="#3c3c3c" stroke-width="1.0" />
<line x1="46.6" y1="463.5" x2="49.6" y2="463.5" stroke="#3c3c3c" stroke-width="1.0" />
<text x="43.2" y="466.6" font-size="9.0" text-anchor="end" font-weight="bold" font-style="normal" fill="#222" stroke="#222" stroke-width="0.25">2.6</text>
<line x1="46.6" y1="450.65" x2="48.3" y2="450.65" stroke="#3c3c3c" stroke-width="1.0" />
<line x1="46.6" y1="437.8" x2="49.6" y2="437.8" stroke="#3c3c3c" stroke-width="1.0" />
<text x="43.2" y="440.9" font-size="9.0" text-anchor="end" font-weight="bold" font-style="normal" fill="#222" stroke="#222" stroke-width="0.25">2.8</text>
<line x1="46.6" y1="424.95" x2="48.3" y2="424.95" stroke="#3c3c3c" stroke-width="1.0" />
<line x1="46.6" y1="412.1" x2="49.6" y2="412.1" stroke="#3c3c3c" stroke-width="1.0" />
<text x="43.2" y="415.2" font-size="9.0" text-anchor="end" font-weight="bold" font-style="normal" fill="#222" stroke="#222" stroke-width="0.25">3.0</text>
<text x="130.4" y="565.2" font-size="10.6" text-anchor="middle" font-weight="bold" font-style="normal" fill="#222" stroke="#222" stroke-width="0.25">Real permittivity &#949;'</text>
<text x="26.8" y="470.3" font-size="10.5" text-anchor="middle" font-weight="bold" font-style="normal" fill="#222" stroke="#222" stroke-width="0.25" transform="rotate(-90 26.8 470.3)">Imaginary permittivity &#949;''</text>
<text x="257.8" y="394.4" font-size="13.5" text-anchor="start" font-weight="bold" font-style="normal" fill="#222" stroke="#222" stroke-width="0.25">(h)</text>
<path d="M289.6 415.01 L290.12 418.28 L290.64 421.38 L291.15 424.33 L291.67 427.14 L292.19 429.82 L292.71 432.37 L293.23 434.81 L293.74 437.13 L294.26 439.36 L294.78 441.5 L295.3 443.55 L295.82 445.51 L296.33 447.39 L296.85 449.21 L297.37 450.95 L297.89 452.63 L298.41 454.24 L298.92 455.8 L299.44 457.3 L299.96 458.75 L300.48 460.15 L301 461.51 L301.51 462.82 L302.03 464.08 L302.55 465.31 L303.07 466.49 L303.59 467.64 L304.1 468.76 L304.62 469.84 L305.14 470.89 L305.66 471.9 L306.18 472.89 L306.69 473.85 L307.21 474.79 L307.73 475.7 L308.25 476.58 L308.77 477.44 L309.28 478.28 L309.8 479.09 L310.32 479.88 L310.84 480.66 L311.36 481.41 L311.87 482.15 L312.39 482.86 L312.91 483.56 L313.43 484.25 L313.95 484.91 L314.46 485.56 L314.98 486.2 L315.5 486.82 L316.02 487.43 L316.54 488.02 L317.05 488.6 L317.57 489.17 L318.09 489.73 L318.61 490.27 L319.13 490.8 L319.64 491.32 L320.16 491.83 L320.68 492.33 L321.2 492.82 L321.72 493.3 L322.23 493.77 L322.75 494.23 L323.27 494.69 L323.79 495.13 L324.31 495.56 L324.82 495.99 L325.34 496.41 L325.86 496.82 L326.38 497.22 L326.9 497.62 L327.41 498.01 L327.93 498.39 L328.45 498.76 L328.97 499.13 L329.49 499.49 L330 499.85 L330.52 500.2 L331.04 500.54 L331.56 500.88 L332.08 501.21 L332.59 501.54 L333.11 501.86 L333.63 502.17 L334.15 502.48 L334.67 502.79 L335.18 503.09 L335.7 503.39 L336.22 503.68 L336.74 503.96 L337.26 504.25 L337.77 504.53 L338.29 504.8 L338.81 505.07 L339.33 505.33 L339.85 505.6 L340.36 505.85 L340.88 506.11 L341.4 506.36 L341.92 506.61 L342.44 506.85 L342.95 507.09 L343.47 507.32 L343.99 507.56 L344.51 507.79 L345.03 508.01 L345.54 508.24 L346.06 508.46 L346.58 508.68 L347.1 508.89 L347.62 509.1 L348.13 509.31 L348.65 509.52 L349.17 509.72 L349.69 509.92 L350.21 510.12 L350.72 510.31 L351.24 510.51 L351.76 510.7 L352.28 510.89 L352.8 511.07 L353.31 511.25 L353.83 511.44 L354.35 511.62 L354.87 511.79 L355.39 511.97 L355.9 512.14 L356.42 512.31 L356.94 512.48 L357.46 512.64 L357.98 512.81 L358.49 512.97 L359.01 513.13 L359.53 513.29 L360.05 513.45 L360.57 513.6 L361.08 513.76 L361.6 513.91 L362.12 514.06 L362.64 514.21 L363.16 514.35 L363.67 514.5 L364.19 514.64 L364.71 514.78 L365.23 514.92 L365.75 515.06 L366.26 515.2 L366.78 515.33 L367.3 515.47 L367.82 515.6 L368.33 515.73 L368.85 515.86 L369.37 515.99 L369.89 516.12 L370.41 516.25 L370.92 516.37 L371.44 516.49 L371.96 516.62 L372.48 516.74 L373 516.86 L373.51 516.98 L374.03 517.09 L374.55 517.21 L375.07 517.32 L375.59 517.44 L376.1 517.55 L376.62 517.66 L377.14 517.77 L377.66 517.88 L378.18 517.99 L378.69 518.1 L379.21 518.21 L379.73 518.31 L380.25 518.42 L380.77 518.52 L381.28 518.62 L381.8 518.72 L382.32 518.82 L382.84 518.92 L383.36 519.02 L383.87 519.12 L384.39 519.22 L384.91 519.31 L385.43 519.41 L385.95 519.5 L386.46 519.6 L386.98 519.69 L387.5 519.78 L388.02 519.87 L388.54 519.96 L389.05 520.05 L389.57 520.14 L390.09 520.23 L390.61 520.32 L391.13 520.4 L391.64 520.49 L392.16 520.57 L392.68 520.66 L393.2 520.74 L393.72 520.82 L394.23 520.91 L394.75 520.99 L395.27 521.07 L395.79 521.15 L396.31 521.23 L396.82 521.31 L397.34 521.39 L397.86 521.46 L398.38 521.54 L398.9 521.62 L399.41 521.69 L399.93 521.77 L400.45 521.84 L400.97 521.92 L401.49 521.99 L402 522.06 L402.52 522.13 L403.04 522.21 L403.56 522.28 L404.08 522.35 L404.59 522.42 L405.11 522.49 L405.63 522.56 L406.15 522.62 L406.67 522.69 L407.18 522.76 L407.7 522.83 L408.22 522.89 L408.74 522.96 L409.26 523.02 L409.77 523.09 L410.29 523.15 L410.81 523.22 L411.33 523.28 L411.85 523.34 L412.36 523.41 L412.88 523.47 L413.4 523.53 L413.92 523.59 L414.44 523.65 L414.95 523.71 L415.47 523.77 L415.99 523.83 L416.51 523.89 L417.03 523.95 L417.54 524.01 L418.06 524.06 L418.58 524.12 L419.1 524.18 L419.62 524.24 L420.13 524.29 L420.65 524.35 L421.17 524.4 L421.69 524.46 L422.21 524.51 L422.72 524.57 L423.24 524.62 L423.76 524.67 L424.28 524.73 L424.8 524.78 L425.31 524.83 L425.83 524.89 L426.35 524.94 L426.87 524.99 L427.39 525.04 L427.9 525.09 L428.42 525.14 L428.94 525.19 L429.46 525.24 L429.98 525.29 L430.49 525.34 L431.01 525.39 L431.53 525.44 L432.05 525.49 L432.57 525.53 L433.08 525.58 L433.6 525.63 L434.12 525.68 L434.64 525.72 L435.16 525.77 L435.67 525.81 L436.19 525.86 L436.71 525.91 L437.23 525.95 L437.75 526 L438.26 526.04 L438.78 526.09 L439.3 526.13 L439.82 526.17 L440.34 526.22 L440.85 526.26 L441.37 526.3 L441.89 526.35 L442.41 526.39 L442.93 526.43 L443.44 526.47 L443.96 526.52 L444.48 526.56" fill="none" stroke="#3a3a3a" stroke-width="1.0" stroke-linejoin="round" />
<circle cx="289.6" cy="415.01" r="1.9" fill="#4a4a4a" stroke="none" stroke-width="0"/>
<circle cx="292.7" cy="432.32" r="1.9" fill="#4a4a4a" stroke="none" stroke-width="0"/>
<circle cx="295.8" cy="445.43" r="1.9" fill="#4a4a4a" stroke="none" stroke-width="0"/>
<circle cx="298.89" cy="455.71" r="1.9" fill="#4a4a4a" stroke="none" stroke-width="0"/>
<circle cx="301.99" cy="463.98" r="1.9" fill="#4a4a4a" stroke="none" stroke-width="0"/>
<circle cx="305.09" cy="470.78" r="1.9" fill="#4a4a4a" stroke="none" stroke-width="0"/>
<circle cx="308.19" cy="476.47" r="1.9" fill="#4a4a4a" stroke="none" stroke-width="0"/>
<circle cx="311.28" cy="481.31" r="1.9" fill="#4a4a4a" stroke="none" stroke-width="0"/>
<circle cx="314.38" cy="485.46" r="1.9" fill="#4a4a4a" stroke="none" stroke-width="0"/>
<circle cx="317.48" cy="489.07" r="1.9" fill="#4a4a4a" stroke="none" stroke-width="0"/>
<circle cx="320.58" cy="492.23" r="1.9" fill="#4a4a4a" stroke="none" stroke-width="0"/>
<circle cx="323.67" cy="495.03" r="1.9" fill="#4a4a4a" stroke="none" stroke-width="0"/>
<circle cx="326.77" cy="497.52" r="1.9" fill="#4a4a4a" stroke="none" stroke-width="0"/>
<circle cx="329.87" cy="499.76" r="1.9" fill="#4a4a4a" stroke="none" stroke-width="0"/>
<circle cx="332.97" cy="501.77" r="1.9" fill="#4a4a4a" stroke="none" stroke-width="0"/>
<circle cx="336.06" cy="503.59" r="1.9" fill="#4a4a4a" stroke="none" stroke-width="0"/>
<circle cx="339.16" cy="505.25" r="1.9" fill="#4a4a4a" stroke="none" stroke-width="0"/>
<circle cx="342.26" cy="506.77" r="1.9" fill="#4a4a4a" stroke="none" stroke-width="0"/>
<circle cx="345.36" cy="508.16" r="1.9" fill="#4a4a4a" stroke="none" stroke-width="0"/>
<circle cx="348.45" cy="509.44" r="1.9" fill="#4a4a4a" stroke="none" stroke-width="0"/>
<circle cx="351.55" cy="510.62" r="1.9" fill="#4a4a4a" stroke="none" stroke-width="0"/>
<circle cx="354.65" cy="511.72" r="1.9" fill="#4a4a4a" stroke="none" stroke-width="0"/>
<circle cx="357.75" cy="512.74" r="1.9" fill="#4a4a4a" stroke="none" stroke-width="0"/>
<circle cx="360.84" cy="513.69" r="1.9" fill="#4a4a4a" stroke="none" stroke-width="0"/>
<circle cx="363.94" cy="514.57" r="1.9" fill="#4a4a4a" stroke="none" stroke-width="0"/>
<circle cx="367.04" cy="515.4" r="1.9" fill="#4a4a4a" stroke="none" stroke-width="0"/>
<circle cx="370.14" cy="516.18" r="1.9" fill="#4a4a4a" stroke="none" stroke-width="0"/>
<circle cx="373.24" cy="516.91" r="1.9" fill="#4a4a4a" stroke="none" stroke-width="0"/>
<circle cx="376.33" cy="517.6" r="1.9" fill="#4a4a4a" stroke="none" stroke-width="0"/>
<circle cx="379.43" cy="518.25" r="1.9" fill="#4a4a4a" stroke="none" stroke-width="0"/>
<circle cx="382.53" cy="518.86" r="1.9" fill="#4a4a4a" stroke="none" stroke-width="0"/>
<circle cx="385.63" cy="519.44" r="1.9" fill="#4a4a4a" stroke="none" stroke-width="0"/>
<circle cx="388.72" cy="520" r="1.9" fill="#4a4a4a" stroke="none" stroke-width="0"/>
<circle cx="391.82" cy="520.52" r="1.9" fill="#4a4a4a" stroke="none" stroke-width="0"/>
<circle cx="394.92" cy="521.01" r="1.9" fill="#4a4a4a" stroke="none" stroke-width="0"/>
<circle cx="398.02" cy="521.49" r="1.9" fill="#4a4a4a" stroke="none" stroke-width="0"/>
<circle cx="401.11" cy="521.94" r="1.9" fill="#4a4a4a" stroke="none" stroke-width="0"/>
<circle cx="404.21" cy="522.37" r="1.9" fill="#4a4a4a" stroke="none" stroke-width="0"/>
<circle cx="407.31" cy="522.78" r="1.9" fill="#4a4a4a" stroke="none" stroke-width="0"/>
<circle cx="410.41" cy="523.17" r="1.9" fill="#4a4a4a" stroke="none" stroke-width="0"/>
<circle cx="413.5" cy="523.54" r="1.9" fill="#4a4a4a" stroke="none" stroke-width="0"/>
<circle cx="416.6" cy="523.9" r="1.9" fill="#4a4a4a" stroke="none" stroke-width="0"/>
<circle cx="419.7" cy="524.24" r="1.9" fill="#4a4a4a" stroke="none" stroke-width="0"/>
<circle cx="422.8" cy="524.57" r="1.9" fill="#4a4a4a" stroke="none" stroke-width="0"/>
<circle cx="425.89" cy="524.89" r="1.9" fill="#4a4a4a" stroke="none" stroke-width="0"/>
<circle cx="428.99" cy="525.2" r="1.9" fill="#4a4a4a" stroke="none" stroke-width="0"/>
<circle cx="432.09" cy="525.49" r="1.9" fill="#4a4a4a" stroke="none" stroke-width="0"/>
<circle cx="435.19" cy="525.77" r="1.9" fill="#4a4a4a" stroke="none" stroke-width="0"/>
<circle cx="438.28" cy="526.04" r="1.9" fill="#4a4a4a" stroke="none" stroke-width="0"/>
<circle cx="441.38" cy="526.3" r="1.9" fill="#4a4a4a" stroke="none" stroke-width="0"/>
<circle cx="444.48" cy="526.56" r="1.9" fill="#4a4a4a" stroke="none" stroke-width="0"/>
<path d="M289.25 521 L289.64 519.49 L290.03 518.08 L290.42 516.78 L290.81 515.57 L291.2 514.45 L291.59 513.4 L291.98 512.43 L292.37 511.51 L292.76 510.66 L293.15 509.84 L293.54 509.07 L293.93 508.33 L294.32 507.61 L294.71 506.9 L295.11 506.21 L295.5 505.51 L295.89 504.8 L296.28 504.1 L296.67 503.39 L297.06 502.7 L297.45 502.02 L297.84 501.36 L298.23 500.73 L298.62 500.13 L299.01 499.57 L299.4 499.06 L299.79 498.59 L300.18 498.16 L300.57 497.76 L300.96 497.38 L301.35 497.02 L301.74 496.66 L302.13 496.31 L302.52 495.96 L302.91 495.59 L303.3 495.2 L303.69 494.79 L304.08 494.35 L304.47 493.91 L304.86 493.44 L305.25 492.96 L305.64 492.46 L306.04 491.96 L306.43 491.44 L306.82 490.91 L307.21 490.37 L307.6 489.82 L307.99 489.27 L308.38 488.69 L308.77 488.11 L309.16 487.5 L309.55 486.88 L309.94 486.24 L310.33 485.59 L310.72 484.91 L311.11 484.2 L311.5 483.48 L311.89 482.73 L312.28 481.95 L312.67 481.15 L313.06 480.33 L313.45 479.49 L313.84 478.64 L314.23 477.77 L314.62 476.89 L315.01 476.01 L315.4 475.12 L315.79 474.23 L316.18 473.33 L316.57 472.44 L316.96 471.56 L317.36 470.68 L317.75 469.81 L318.14 468.95 L318.53 468.11 L318.92 467.28 L319.31 466.46 L319.7 465.65 L320.09 464.85 L320.48 464.07 L320.87 463.29 L321.26 462.51 L321.65 461.75 L322.04 460.99 L322.43 460.23 L322.82 459.48 L323.21 458.73 L323.6 457.99 L323.99 457.24 L324.38 456.5 L324.77 455.76 L325.16 455.02 L325.55 454.28 L325.94 453.56 L326.33 452.84 L326.72 452.13 L327.11 451.44 L327.5 450.77 L327.89 450.11 L328.29 449.47 L328.68 448.86 L329.07 448.27 L329.46 447.71 L329.85 447.17 L330.24 446.67 L330.63 446.2 L331.02 445.76 L331.41 445.35 L331.8 444.98 L332.19 444.64 L332.58 444.34 L332.97 444.08 L333.36 443.86 L333.75 443.67 L334.14 443.53 L334.53 443.43 L334.92 443.37 L335.31 443.35 L335.7 443.37 L336.09 443.41 L336.48 443.48 L336.87 443.58 L337.26 443.69 L337.65 443.82 L338.04 443.97 L338.43 444.13 L338.82 444.29 L339.21 444.46 L339.61 444.63 L340 444.79 L340.39 444.95 L340.78 445.11 L341.17 445.25 L341.56 445.38 L341.95 445.5 L342.34 445.6 L342.73 445.7 L343.12 445.79 L343.51 445.86 L343.9 445.92 L344.29 445.97 L344.68 446.01 L345.07 446.04 L345.46 446.05 L345.85 446.05 L346.24 446.04 L346.63 446.01 L347.02 445.97 L347.41 445.92 L347.8 445.85 L348.19 445.78 L348.58 445.69 L348.97 445.6 L349.36 445.49 L349.75 445.38 L350.14 445.26 L350.54 445.13 L350.93 445 L351.32 444.87 L351.71 444.73 L352.1 444.59 L352.49 444.44 L352.88 444.3 L353.27 444.15 L353.66 444 L354.05 443.86 L354.44 443.72 L354.83 443.58 L355.22 443.44 L355.61 443.31 L356 443.19 L356.39 443.07 L356.78 442.96 L357.17 442.86 L357.56 442.77 L357.95 442.69 L358.34 442.63 L358.73 442.57 L359.12 442.53 L359.51 442.5 L359.9 442.49 L360.29 442.49 L360.68 442.51 L361.07 442.55 L361.46 442.61 L361.86 442.68 L362.25 442.78 L362.64 442.89 L363.03 443.03 L363.42 443.19 L363.81 443.37 L364.2 443.57 L364.59 443.8 L364.98 444.05 L365.37 444.32 L365.76 444.62 L366.15 444.95 L366.54 445.3 L366.93 445.68 L367.32 446.08 L367.71 446.51 L368.1 446.96 L368.49 447.43 L368.88 447.91 L369.27 448.41 L369.66 448.93 L370.05 449.45 L370.44 449.98 L370.83 450.52 L371.22 451.06 L371.61 451.6 L372 452.14 L372.39 452.68 L372.79 453.21 L373.18 453.73 L373.57 454.25 L373.96 454.74 L374.35 455.22 L374.74 455.68 L375.13 456.11 L375.52 456.5 L375.91 456.86 L376.3 457.18 L376.69 457.46 L377.08 457.68 L377.47 457.86 L377.86 457.97 L378.25 458.03 L378.64 458.02 L379.03 457.96 L379.42 457.84 L379.81 457.65 L380.2 457.42 L380.59 457.13 L380.98 456.79 L381.37 456.4 L381.76 455.95 L382.15 455.47 L382.54 454.93 L382.93 454.35 L383.32 453.73 L383.71 453.07 L384.11 452.37 L384.5 451.63 L384.89 450.85 L385.28 450.05 L385.67 449.21 L386.06 448.35 L386.45 447.46 L386.84 446.55 L387.23 445.61 L387.62 444.66 L388.01 443.68 L388.4 442.7 L388.79 441.7 L389.18 440.68 L389.57 439.66 L389.96 438.63 L390.35 437.61 L390.74 436.58 L391.13 435.55 L391.52 434.54 L391.91 433.54 L392.3 432.55 L392.69 431.58 L393.08 430.64 L393.47 429.72 L393.86 428.83 L394.25 427.97 L394.64 427.15 L395.04 426.37 L395.43 425.64 L395.82 424.95 L396.21 424.31 L396.6 423.73 L396.99 423.22 L397.38 422.77 L397.77 422.4 L398.16 422.11 L398.55 421.9 L398.94 421.78 L399.33 421.75 L399.72 421.82 L400.11 421.99 L400.5 422.24 L400.89 422.57 L401.28 422.97 L401.67 423.45 L402.06 423.99 L402.45 424.58 L402.84 425.23 L403.23 425.92 L403.62 426.65 L404.01 427.42 L404.4 428.24 L404.79 429.08 L405.18 429.96 L405.57 430.87 L405.96 431.81 L406.36 432.77 L406.75 433.76 L407.14 434.77 L407.53 435.79 L407.92 436.84 L408.31 437.9 L408.7 438.97 L409.09 440.05 L409.48 441.14 L409.87 442.23 L410.26 443.33 L410.65 444.42 L411.04 445.51 L411.43 446.59 L411.82 447.67 L412.21 448.73 L412.6 449.77 L412.99 450.8 L413.38 451.8 L413.77 452.78 L414.16 453.74 L414.55 454.66 L414.94 455.55 L415.33 456.4 L415.72 457.21 L416.11 457.98 L416.5 458.72 L416.89 459.41 L417.29 460.08 L417.68 460.7 L418.07 461.29 L418.46 461.86 L418.85 462.39 L419.24 462.89 L419.63 463.36 L420.02 463.81 L420.41 464.23 L420.8 464.62 L421.19 465 L421.58 465.35 L421.97 465.68 L422.36 466 L422.75 466.29 L423.14 466.55 L423.53 466.79 L423.92 467 L424.31 467.18 L424.7 467.33 L425.09 467.44 L425.48 467.52 L425.87 467.56 L426.26 467.56 L426.65 467.52 L427.04 467.43 L427.43 467.29 L427.82 467.09 L428.21 466.8 L428.61 466.43 L429 465.96 L429.39 465.38 L429.78 464.68 L430.17 463.83 L430.56 462.85 L430.95 461.71 L431.34 460.43 L431.73 459.03 L432.12 457.53 L432.51 455.95 L432.9 454.31 L433.29 452.62 L433.68 450.89 L434.07 449.16 L434.46 447.43 L434.85 445.73 L435.24 444.07 L435.63 442.47 L436.02 440.94 L436.41 439.47 L436.8 438.05 L437.19 436.69 L437.58 435.36 L437.97 434.07 L438.36 432.81 L438.75 431.56 L439.14 430.33 L439.54 429.1 L439.93 427.88 L440.32 426.64 L440.71 425.39 L441.1 424.11 L441.49 422.8 L441.88 421.46 L442.27 420.07 L442.66 418.63 L443.05 417.13 L443.44 415.57 L443.83 413.93 L444.22 412.21 L444.61 410.4 L445 408.5" fill="none" stroke="#4a7ee0" stroke-width="1.3" stroke-linejoin="round" />
<circle cx="289.25" cy="521" r="1.9" fill="#3a6ad0" stroke="none" stroke-width="0"/>
<circle cx="292.37" cy="511.53" r="1.9" fill="#3a6ad0" stroke="none" stroke-width="0"/>
<circle cx="295.48" cy="505.54" r="1.9" fill="#3a6ad0" stroke="none" stroke-width="0"/>
<circle cx="298.6" cy="500.17" r="1.9" fill="#3a6ad0" stroke="none" stroke-width="0"/>
<circle cx="301.71" cy="496.69" r="1.9" fill="#3a6ad0" stroke="none" stroke-width="0"/>
<circle cx="304.83" cy="493.49" r="1.9" fill="#3a6ad0" stroke="none" stroke-width="0"/>
<circle cx="307.94" cy="489.33" r="1.9" fill="#3a6ad0" stroke="none" stroke-width="0"/>
<circle cx="311.06" cy="484.3" r="1.9" fill="#3a6ad0" stroke="none" stroke-width="0"/>
<circle cx="314.17" cy="477.91" r="1.9" fill="#3a6ad0" stroke="none" stroke-width="0"/>
<circle cx="317.29" cy="470.84" r="1.9" fill="#3a6ad0" stroke="none" stroke-width="0"/>
<circle cx="320.4" cy="464.22" r="1.9" fill="#3a6ad0" stroke="none" stroke-width="0"/>
<circle cx="323.52" cy="458.15" r="1.9" fill="#3a6ad0" stroke="none" stroke-width="0"/>
<circle cx="326.63" cy="452.3" r="1.9" fill="#3a6ad0" stroke="none" stroke-width="0"/>
<circle cx="329.75" cy="447.31" r="1.9" fill="#3a6ad0" stroke="none" stroke-width="0"/>
<circle cx="332.86" cy="444.15" r="1.9" fill="#3a6ad0" stroke="none" stroke-width="0"/>
<circle cx="335.98" cy="443.39" r="1.9" fill="#3a6ad0" stroke="none" stroke-width="0"/>
<circle cx="339.09" cy="444.41" r="1.9" fill="#3a6ad0" stroke="none" stroke-width="0"/>
<circle cx="342.21" cy="445.57" r="1.9" fill="#3a6ad0" stroke="none" stroke-width="0"/>
<circle cx="345.32" cy="446.05" r="1.9" fill="#3a6ad0" stroke="none" stroke-width="0"/>
<circle cx="348.44" cy="445.73" r="1.9" fill="#3a6ad0" stroke="none" stroke-width="0"/>
<circle cx="351.55" cy="444.78" r="1.9" fill="#3a6ad0" stroke="none" stroke-width="0"/>
<circle cx="354.67" cy="443.64" r="1.9" fill="#3a6ad0" stroke="none" stroke-width="0"/>
<circle cx="357.78" cy="442.73" r="1.9" fill="#3a6ad0" stroke="none" stroke-width="0"/>
<circle cx="360.9" cy="442.53" r="1.9" fill="#3a6ad0" stroke="none" stroke-width="0"/>
<circle cx="364.01" cy="443.47" r="1.9" fill="#3a6ad0" stroke="none" stroke-width="0"/>
<circle cx="367.13" cy="445.88" r="1.9" fill="#3a6ad0" stroke="none" stroke-width="0"/>
<circle cx="370.24" cy="449.7" r="1.9" fill="#3a6ad0" stroke="none" stroke-width="0"/>
<circle cx="373.36" cy="453.97" r="1.9" fill="#3a6ad0" stroke="none" stroke-width="0"/>
<circle cx="376.47" cy="457.31" r="1.9" fill="#3a6ad0" stroke="none" stroke-width="0"/>
<circle cx="379.59" cy="457.77" r="1.9" fill="#3a6ad0" stroke="none" stroke-width="0"/>
<circle cx="382.7" cy="454.7" r="1.9" fill="#3a6ad0" stroke="none" stroke-width="0"/>
<circle cx="385.82" cy="448.89" r="1.9" fill="#3a6ad0" stroke="none" stroke-width="0"/>
<circle cx="388.93" cy="441.33" r="1.9" fill="#3a6ad0" stroke="none" stroke-width="0"/>
<circle cx="392.05" cy="433.2" r="1.9" fill="#3a6ad0" stroke="none" stroke-width="0"/>
<circle cx="395.16" cy="426.13" r="1.9" fill="#3a6ad0" stroke="none" stroke-width="0"/>
<circle cx="398.28" cy="422.04" r="1.9" fill="#3a6ad0" stroke="none" stroke-width="0"/>
<circle cx="401.39" cy="423.1" r="1.9" fill="#3a6ad0" stroke="none" stroke-width="0"/>
<circle cx="404.51" cy="428.45" r="1.9" fill="#3a6ad0" stroke="none" stroke-width="0"/>
<circle cx="407.62" cy="436.04" r="1.9" fill="#3a6ad0" stroke="none" stroke-width="0"/>
<circle cx="410.74" cy="444.66" r="1.9" fill="#3a6ad0" stroke="none" stroke-width="0"/>
<circle cx="413.85" cy="452.98" r="1.9" fill="#3a6ad0" stroke="none" stroke-width="0"/>
<circle cx="416.97" cy="459.54" r="1.9" fill="#3a6ad0" stroke="none" stroke-width="0"/>
<circle cx="420.08" cy="463.88" r="1.9" fill="#3a6ad0" stroke="none" stroke-width="0"/>
<circle cx="423.2" cy="466.59" r="1.9" fill="#3a6ad0" stroke="none" stroke-width="0"/>
<circle cx="426.31" cy="467.56" r="1.9" fill="#3a6ad0" stroke="none" stroke-width="0"/>
<circle cx="429.43" cy="465.32" r="1.9" fill="#3a6ad0" stroke="none" stroke-width="0"/>
<circle cx="432.54" cy="455.82" r="1.9" fill="#3a6ad0" stroke="none" stroke-width="0"/>
<circle cx="435.66" cy="442.37" r="1.9" fill="#3a6ad0" stroke="none" stroke-width="0"/>
<circle cx="438.77" cy="431.51" r="1.9" fill="#3a6ad0" stroke="none" stroke-width="0"/>
<circle cx="441.89" cy="421.43" r="1.9" fill="#3a6ad0" stroke="none" stroke-width="0"/>
<circle cx="445" cy="408.5" r="1.9" fill="#3a6ad0" stroke="none" stroke-width="0"/>
<path d="M279.6 399.5 H454.6 V540.6 H279.6 Z" fill="none" stroke="#3c3c3c" stroke-width="1.4"/>
<line x1="454.6" y1="399.5" x2="454.6" y2="540.6" stroke="#5a7cc0" stroke-width="1.3" />
<line x1="289.6" y1="540.6" x2="289.6" y2="537.6" stroke="#3c3c3c" stroke-width="1.0" />
<text x="289.6" y="551.6" font-size="9.0" text-anchor="middle" font-weight="bold" font-style="normal" fill="#222" stroke="#222" stroke-width="0.25">2</text>
<line x1="308.96" y1="540.6" x2="308.96" y2="537.6" stroke="#3c3c3c" stroke-width="1.0" />
<text x="308.96" y="551.6" font-size="9.0" text-anchor="middle" font-weight="bold" font-style="normal" fill="#222" stroke="#222" stroke-width="0.25">4</text>
<line x1="328.32" y1="540.6" x2="328.32" y2="537.6" stroke="#3c3c3c" stroke-width="1.0" />
<text x="328.32" y="551.6" font-size="9.0" text-anchor="middle" font-weight="bold" font-style="normal" fill="#222" stroke="#222" stroke-width="0.25">6</text>
<line x1="347.68" y1="540.6" x2="347.68" y2="537.6" stroke="#3c3c3c" stroke-width="1.0" />
<text x="347.68" y="551.6" font-size="9.0" text-anchor="middle" font-weight="bold" font-style="normal" fill="#222" stroke="#222" stroke-width="0.25">8</text>
<line x1="367.04" y1="540.6" x2="367.04" y2="537.6" stroke="#3c3c3c" stroke-width="1.0" />
<text x="367.04" y="551.6" font-size="9.0" text-anchor="middle" font-weight="bold" font-style="normal" fill="#222" stroke="#222" stroke-width="0.25">10</text>
<line x1="386.4" y1="540.6" x2="386.4" y2="537.6" stroke="#3c3c3c" stroke-width="1.0" />
<text x="386.4" y="551.6" font-size="9.0" text-anchor="middle" font-weight="bold" font-style="normal" fill="#222" stroke="#222" stroke-width="0.25">12</text>
<line x1="405.76" y1="540.6" x2="405.76" y2="537.6" stroke="#3c3c3c" stroke-width="1.0" />
<text x="405.76" y="551.6" font-size="9.0" text-anchor="middle" font-weight="bold" font-style="normal" fill="#222" stroke="#222" stroke-width="0.25">14</text>
<line x1="425.12" y1="540.6" x2="425.12" y2="537.6" stroke="#3c3c3c" stroke-width="1.0" />
<text x="425.12" y="551.6" font-size="9.0" text-anchor="middle" font-weight="bold" font-style="normal" fill="#222" stroke="#222" stroke-width="0.25">16</text>
<line x1="444.48" y1="540.6" x2="444.48" y2="537.6" stroke="#3c3c3c" stroke-width="1.0" />
<text x="444.48" y="551.6" font-size="9.0" text-anchor="middle" font-weight="bold" font-style="normal" fill="#222" stroke="#222" stroke-width="0.25">18</text>
<line x1="279.92" y1="540.6" x2="279.92" y2="538.9" stroke="#3c3c3c" stroke-width="1.0" />
<line x1="299.28" y1="540.6" x2="299.28" y2="538.9" stroke="#3c3c3c" stroke-width="1.0" />
<line x1="318.64" y1="540.6" x2="318.64" y2="538.9" stroke="#3c3c3c" stroke-width="1.0" />
<line x1="338" y1="540.6" x2="338" y2="538.9" stroke="#3c3c3c" stroke-width="1.0" />
<line x1="357.36" y1="540.6" x2="357.36" y2="538.9" stroke="#3c3c3c" stroke-width="1.0" />
<line x1="376.72" y1="540.6" x2="376.72" y2="538.9" stroke="#3c3c3c" stroke-width="1.0" />
<line x1="396.08" y1="540.6" x2="396.08" y2="538.9" stroke="#3c3c3c" stroke-width="1.0" />
<line x1="415.44" y1="540.6" x2="415.44" y2="538.9" stroke="#3c3c3c" stroke-width="1.0" />
<line x1="434.8" y1="540.6" x2="434.8" y2="538.9" stroke="#3c3c3c" stroke-width="1.0" />
<line x1="454.16" y1="540.6" x2="454.16" y2="538.9" stroke="#3c3c3c" stroke-width="1.0" />
<line x1="279.6" y1="540.5" x2="282.6" y2="540.5" stroke="#3c3c3c" stroke-width="1.0" />
<text x="276.2" y="543.6" font-size="9.0" text-anchor="end" font-weight="bold" font-style="normal" fill="#555" stroke="#555" stroke-width="0.25">0.0</text>
<line x1="279.6" y1="526.4" x2="281.3" y2="526.4" stroke="#3c3c3c" stroke-width="1.0" />
<line x1="279.6" y1="512.3" x2="282.6" y2="512.3" stroke="#3c3c3c" stroke-width="1.0" />
<text x="276.2" y="515.4" font-size="9.0" text-anchor="end" font-weight="bold" font-style="normal" fill="#555" stroke="#555" stroke-width="0.25">0.2</text>
<line x1="279.6" y1="498.2" x2="281.3" y2="498.2" stroke="#3c3c3c" stroke-width="1.0" />
<line x1="279.6" y1="484.1" x2="282.6" y2="484.1" stroke="#3c3c3c" stroke-width="1.0" />
<text x="276.2" y="487.2" font-size="9.0" text-anchor="end" font-weight="bold" font-style="normal" fill="#555" stroke="#555" stroke-width="0.25">0.4</text>
<line x1="279.6" y1="470" x2="281.3" y2="470" stroke="#3c3c3c" stroke-width="1.0" />
<line x1="279.6" y1="455.9" x2="282.6" y2="455.9" stroke="#3c3c3c" stroke-width="1.0" />
<text x="276.2" y="459" font-size="9.0" text-anchor="end" font-weight="bold" font-style="normal" fill="#555" stroke="#555" stroke-width="0.25">0.6</text>
<line x1="279.6" y1="441.8" x2="281.3" y2="441.8" stroke="#3c3c3c" stroke-width="1.0" />
<line x1="279.6" y1="427.7" x2="282.6" y2="427.7" stroke="#3c3c3c" stroke-width="1.0" />
<text x="276.2" y="430.8" font-size="9.0" text-anchor="end" font-weight="bold" font-style="normal" fill="#555" stroke="#555" stroke-width="0.25">0.8</text>
<line x1="279.6" y1="413.6" x2="281.3" y2="413.6" stroke="#3c3c3c" stroke-width="1.0" />
<line x1="279.6" y1="399.5" x2="282.6" y2="399.5" stroke="#3c3c3c" stroke-width="1.0" />
<text x="276.2" y="402.6" font-size="9.0" text-anchor="end" font-weight="bold" font-style="normal" fill="#555" stroke="#555" stroke-width="0.25">1.0</text>
<line x1="454.6" y1="526.4" x2="451.6" y2="526.4" stroke="#5a7cc0" stroke-width="1.0" />
<text x="457.8" y="529.5" font-size="9.0" text-anchor="start" font-weight="bold" font-style="normal" fill="#4a5f98" stroke="#4a5f98" stroke-width="0.25">1.2</text>
<line x1="454.6" y1="512.3" x2="452.9" y2="512.3" stroke="#5a7cc0" stroke-width="1.0" />
<line x1="454.6" y1="498.2" x2="451.6" y2="498.2" stroke="#5a7cc0" stroke-width="1.0" />
<text x="457.8" y="501.3" font-size="9.0" text-anchor="start" font-weight="bold" font-style="normal" fill="#4a5f98" stroke="#4a5f98" stroke-width="0.25">1.6</text>
<line x1="454.6" y1="484.1" x2="452.9" y2="484.1" stroke="#5a7cc0" stroke-width="1.0" />
<line x1="454.6" y1="470" x2="451.6" y2="470" stroke="#5a7cc0" stroke-width="1.0" />
<text x="457.8" y="473.1" font-size="9.0" text-anchor="start" font-weight="bold" font-style="normal" fill="#4a5f98" stroke="#4a5f98" stroke-width="0.25">2.0</text>
<line x1="454.6" y1="455.9" x2="452.9" y2="455.9" stroke="#5a7cc0" stroke-width="1.0" />
<line x1="454.6" y1="441.8" x2="451.6" y2="441.8" stroke="#5a7cc0" stroke-width="1.0" />
<text x="457.8" y="444.9" font-size="9.0" text-anchor="start" font-weight="bold" font-style="normal" fill="#4a5f98" stroke="#4a5f98" stroke-width="0.25">2.4</text>
<line x1="454.6" y1="427.7" x2="452.9" y2="427.7" stroke="#5a7cc0" stroke-width="1.0" />
<line x1="454.6" y1="413.6" x2="451.6" y2="413.6" stroke="#5a7cc0" stroke-width="1.0" />
<text x="457.8" y="416.7" font-size="9.0" text-anchor="start" font-weight="bold" font-style="normal" fill="#4a5f98" stroke="#4a5f98" stroke-width="0.25">2.8</text>
<line x1="454.6" y1="399.5" x2="452.9" y2="399.5" stroke="#5a7cc0" stroke-width="1.0" />
<text x="367.2" y="565.4" font-size="10.6" text-anchor="middle" font-weight="bold" font-style="normal" fill="#222" stroke="#222" stroke-width="0.25">Frequency (GHz)</text>
<text x="258.6" y="468" font-size="10.5" text-anchor="middle" font-weight="bold" font-style="normal" fill="#222" stroke="#222" stroke-width="0.25" transform="rotate(-90 258.6 468)">&#949;''<tspan font-style="italic">c</tspan></text>
<text x="480" y="466.6" font-size="10.5" text-anchor="middle" font-weight="bold" font-style="normal" fill="#4a70c8" stroke="#4a70c8" stroke-width="0.25" transform="rotate(-90 480 466.6)">&#949;''<tspan font-style="italic">p</tspan></text>
<line x1="312.7" y1="410.7" x2="331.8" y2="410.7" stroke="#444" stroke-width="1.0" />
<circle cx="322.4" cy="410.7" r="1.9" fill="#4a4a4a" stroke="none" stroke-width="0"/>
<text x="332.6" y="413.2" font-size="10.0" text-anchor="start" font-weight="normal" font-style="italic" fill="#333">&#949;''c</text>
<line x1="312.7" y1="422.1" x2="331.8" y2="422.1" stroke="#4a7ee0" stroke-width="1.2" />
<circle cx="322.4" cy="422.1" r="1.9" fill="#2e62c0" stroke="none" stroke-width="0"/>
<text x="332.6" y="424.3" font-size="10.0" text-anchor="start" font-weight="normal" font-style="italic" fill="#333">&#949;''p</text>
<text x="506.5" y="397.5" font-size="13.5" text-anchor="start" font-weight="bold" font-style="normal" fill="#222" stroke="#222" stroke-width="0.25">(i)</text>
<path d="M538.25 411 L538.77 413.86 L539.29 416.66 L539.81 419.41 L540.32 422.11 L540.84 424.74 L541.36 427.32 L541.88 429.85 L542.4 432.38 L542.92 434.86 L543.43 437.26 L543.95 439.53 L544.47 441.64 L544.99 443.58 L545.51 445.42 L546.03 447.16 L546.54 448.83 L547.06 450.43 L547.58 451.99 L548.1 453.47 L548.62 454.86 L549.14 456.21 L549.65 457.55 L550.17 458.92 L550.69 460.33 L551.21 461.86 L551.73 463.51 L552.25 465.21 L552.77 466.9 L553.28 468.53 L553.8 470.03 L554.32 471.35 L554.84 472.45 L555.36 473.42 L555.88 474.29 L556.39 475.11 L556.91 475.9 L557.43 476.68 L557.95 477.5 L558.47 478.37 L558.99 479.28 L559.5 480.2 L560.02 481.12 L560.54 482.06 L561.06 482.99 L561.58 483.91 L562.1 484.81 L562.61 485.7 L563.13 486.56 L563.65 487.39 L564.17 488.21 L564.69 489.01 L565.21 489.79 L565.72 490.57 L566.24 491.33 L566.76 492.09 L567.28 492.84 L567.8 493.6 L568.32 494.35 L568.84 495.12 L569.35 495.91 L569.87 496.72 L570.39 497.53 L570.91 498.33 L571.43 499.12 L571.95 499.89 L572.46 500.62 L572.98 501.31 L573.5 501.95 L574.02 502.53 L574.54 503.03 L575.06 503.49 L575.57 503.93 L576.09 504.35 L576.61 504.75 L577.13 505.13 L577.65 505.5 L578.17 505.85 L578.68 506.18 L579.2 506.49 L579.72 506.8 L580.24 507.09 L580.76 507.37 L581.28 507.64 L581.8 507.9 L582.31 508.15 L582.83 508.39 L583.35 508.63 L583.87 508.86 L584.39 509.08 L584.91 509.3 L585.42 509.51 L585.94 509.71 L586.46 509.91 L586.98 510.1 L587.5 510.29 L588.02 510.47 L588.53 510.65 L589.05 510.82 L589.57 510.99 L590.09 511.16 L590.61 511.32 L591.13 511.48 L591.64 511.64 L592.16 511.8 L592.68 511.95 L593.2 512.1 L593.72 512.24 L594.24 512.38 L594.76 512.51 L595.27 512.64 L595.79 512.77 L596.31 512.9 L596.83 513.02 L597.35 513.14 L597.87 513.27 L598.38 513.39 L598.9 513.51 L599.42 513.63 L599.94 513.75 L600.46 513.87 L600.98 514 L601.49 514.12 L602.01 514.25 L602.53 514.38 L603.05 514.52 L603.57 514.66 L604.09 514.8 L604.6 514.94 L605.12 515.09 L605.64 515.23 L606.16 515.37 L606.68 515.52 L607.2 515.66 L607.71 515.8 L608.23 515.93 L608.75 516.06 L609.27 516.19 L609.79 516.31 L610.31 516.42 L610.83 516.53 L611.34 516.63 L611.86 516.73 L612.38 516.81 L612.9 516.89 L613.42 516.97 L613.94 517.04 L614.45 517.11 L614.97 517.17 L615.49 517.23 L616.01 517.29 L616.53 517.35 L617.05 517.41 L617.56 517.47 L618.08 517.52 L618.6 517.58 L619.12 517.64 L619.64 517.7 L620.16 517.76 L620.67 517.82 L621.19 517.89 L621.71 517.96 L622.23 518.03 L622.75 518.11 L623.27 518.18 L623.79 518.26 L624.3 518.33 L624.82 518.41 L625.34 518.49 L625.86 518.57 L626.38 518.65 L626.9 518.74 L627.41 518.83 L627.93 518.93 L628.45 519.03 L628.97 519.14 L629.49 519.25 L630.01 519.37 L630.52 519.5 L631.04 519.65 L631.56 519.81 L632.08 519.98 L632.6 520.15 L633.12 520.33 L633.63 520.52 L634.15 520.71 L634.67 520.9 L635.19 521.09 L635.71 521.28 L636.23 521.47 L636.74 521.66 L637.26 521.85 L637.78 522.05 L638.3 522.27 L638.82 522.51 L639.34 522.75 L639.86 523.01 L640.37 523.26 L640.89 523.52 L641.41 523.78 L641.93 524.03 L642.45 524.27 L642.97 524.5 L643.48 524.72 L644 524.91 L644.52 525.09 L645.04 525.23 L645.56 525.35 L646.08 525.44 L646.59 525.49 L647.11 525.5 L647.63 525.5 L648.15 525.5 L648.67 525.5 L649.19 525.5 L649.7 525.5 L650.22 525.5 L650.74 525.5 L651.26 525.5 L651.78 525.5 L652.3 525.5 L652.82 525.5 L653.33 525.5 L653.85 525.5 L654.37 525.5 L654.89 525.5 L655.41 525.5 L655.93 525.5 L656.44 525.5 L656.96 525.5 L657.48 525.49 L658 525.45 L658.52 525.39 L659.04 525.31 L659.55 525.22 L660.07 525.11 L660.59 524.99 L661.11 524.86 L661.63 524.72 L662.15 524.59 L662.66 524.45 L663.18 524.32 L663.7 524.2 L664.22 524.08 L664.74 523.98 L665.26 523.89 L665.78 523.82 L666.29 523.77 L666.81 523.75 L667.33 523.75 L667.85 523.75 L668.37 523.76 L668.89 523.77 L669.4 523.78 L669.92 523.8 L670.44 523.82 L670.96 523.84 L671.48 523.86 L672 523.89 L672.51 523.92 L673.03 523.95 L673.55 523.98 L674.07 524.02 L674.59 524.05 L675.11 524.09 L675.62 524.13 L676.14 524.18 L676.66 524.22 L677.18 524.27 L677.7 524.34 L678.22 524.44 L678.73 524.57 L679.25 524.72 L679.77 524.89 L680.29 525.08 L680.81 525.29 L681.33 525.51 L681.85 525.74 L682.36 525.97 L682.88 526.22 L683.4 526.46 L683.92 526.7 L684.44 526.94 L684.96 527.18 L685.47 527.41 L685.99 527.62 L686.51 527.82 L687.03 528.01 L687.55 528.19 L688.07 528.36 L688.58 528.53 L689.1 528.7 L689.62 528.87 L690.14 529.04 L690.66 529.2 L691.18 529.37 L691.69 529.53 L692.21 529.69 L692.73 529.84 L693.25 530" fill="none" stroke="#3a3a3a" stroke-width="1.0" stroke-linejoin="round" />
<circle cx="538.25" cy="411" r="1.9" fill="#4a4a4a" stroke="none" stroke-width="0"/>
<circle cx="541.35" cy="427.27" r="1.9" fill="#4a4a4a" stroke="none" stroke-width="0"/>
<circle cx="544.45" cy="441.56" r="1.9" fill="#4a4a4a" stroke="none" stroke-width="0"/>
<circle cx="547.55" cy="451.9" r="1.9" fill="#4a4a4a" stroke="none" stroke-width="0"/>
<circle cx="550.65" cy="460.22" r="1.9" fill="#4a4a4a" stroke="none" stroke-width="0"/>
<circle cx="553.75" cy="469.89" r="1.9" fill="#4a4a4a" stroke="none" stroke-width="0"/>
<circle cx="556.85" cy="475.8" r="1.9" fill="#4a4a4a" stroke="none" stroke-width="0"/>
<circle cx="559.95" cy="480.99" r="1.9" fill="#4a4a4a" stroke="none" stroke-width="0"/>
<circle cx="563.05" cy="486.42" r="1.9" fill="#4a4a4a" stroke="none" stroke-width="0"/>
<circle cx="566.15" cy="491.19" r="1.9" fill="#4a4a4a" stroke="none" stroke-width="0"/>
<circle cx="569.25" cy="495.75" r="1.9" fill="#4a4a4a" stroke="none" stroke-width="0"/>
<circle cx="572.35" cy="500.46" r="1.9" fill="#4a4a4a" stroke="none" stroke-width="0"/>
<circle cx="575.45" cy="503.83" r="1.9" fill="#4a4a4a" stroke="none" stroke-width="0"/>
<circle cx="578.55" cy="506.09" r="1.9" fill="#4a4a4a" stroke="none" stroke-width="0"/>
<circle cx="581.65" cy="507.83" r="1.9" fill="#4a4a4a" stroke="none" stroke-width="0"/>
<circle cx="584.75" cy="509.23" r="1.9" fill="#4a4a4a" stroke="none" stroke-width="0"/>
<circle cx="587.85" cy="510.41" r="1.9" fill="#4a4a4a" stroke="none" stroke-width="0"/>
<circle cx="590.95" cy="511.43" r="1.9" fill="#4a4a4a" stroke="none" stroke-width="0"/>
<circle cx="594.05" cy="512.33" r="1.9" fill="#4a4a4a" stroke="none" stroke-width="0"/>
<circle cx="597.15" cy="513.1" r="1.9" fill="#4a4a4a" stroke="none" stroke-width="0"/>
<circle cx="600.25" cy="513.83" r="1.9" fill="#4a4a4a" stroke="none" stroke-width="0"/>
<circle cx="603.35" cy="514.6" r="1.9" fill="#4a4a4a" stroke="none" stroke-width="0"/>
<circle cx="606.45" cy="515.45" r="1.9" fill="#4a4a4a" stroke="none" stroke-width="0"/>
<circle cx="609.55" cy="516.25" r="1.9" fill="#4a4a4a" stroke="none" stroke-width="0"/>
<circle cx="612.65" cy="516.85" r="1.9" fill="#4a4a4a" stroke="none" stroke-width="0"/>
<circle cx="615.75" cy="517.26" r="1.9" fill="#4a4a4a" stroke="none" stroke-width="0"/>
<circle cx="618.85" cy="517.61" r="1.9" fill="#4a4a4a" stroke="none" stroke-width="0"/>
<circle cx="621.95" cy="517.99" r="1.9" fill="#4a4a4a" stroke="none" stroke-width="0"/>
<circle cx="625.05" cy="518.44" r="1.9" fill="#4a4a4a" stroke="none" stroke-width="0"/>
<circle cx="628.15" cy="518.97" r="1.9" fill="#4a4a4a" stroke="none" stroke-width="0"/>
<circle cx="631.25" cy="519.71" r="1.9" fill="#4a4a4a" stroke="none" stroke-width="0"/>
<circle cx="634.35" cy="520.78" r="1.9" fill="#4a4a4a" stroke="none" stroke-width="0"/>
<circle cx="637.45" cy="521.92" r="1.9" fill="#4a4a4a" stroke="none" stroke-width="0"/>
<circle cx="640.55" cy="523.35" r="1.9" fill="#4a4a4a" stroke="none" stroke-width="0"/>
<circle cx="643.65" cy="524.78" r="1.9" fill="#4a4a4a" stroke="none" stroke-width="0"/>
<circle cx="646.75" cy="525.5" r="1.9" fill="#4a4a4a" stroke="none" stroke-width="0"/>
<circle cx="649.85" cy="525.5" r="1.9" fill="#4a4a4a" stroke="none" stroke-width="0"/>
<circle cx="652.95" cy="525.5" r="1.9" fill="#4a4a4a" stroke="none" stroke-width="0"/>
<circle cx="656.05" cy="525.5" r="1.9" fill="#4a4a4a" stroke="none" stroke-width="0"/>
<circle cx="659.15" cy="525.29" r="1.9" fill="#4a4a4a" stroke="none" stroke-width="0"/>
<circle cx="662.25" cy="524.56" r="1.9" fill="#4a4a4a" stroke="none" stroke-width="0"/>
<circle cx="665.35" cy="523.88" r="1.9" fill="#4a4a4a" stroke="none" stroke-width="0"/>
<circle cx="668.45" cy="523.76" r="1.9" fill="#4a4a4a" stroke="none" stroke-width="0"/>
<circle cx="671.55" cy="523.87" r="1.9" fill="#4a4a4a" stroke="none" stroke-width="0"/>
<circle cx="674.65" cy="524.06" r="1.9" fill="#4a4a4a" stroke="none" stroke-width="0"/>
<circle cx="677.75" cy="524.35" r="1.9" fill="#4a4a4a" stroke="none" stroke-width="0"/>
<circle cx="680.85" cy="525.31" r="1.9" fill="#4a4a4a" stroke="none" stroke-width="0"/>
<circle cx="683.95" cy="526.72" r="1.9" fill="#4a4a4a" stroke="none" stroke-width="0"/>
<circle cx="687.05" cy="528.02" r="1.9" fill="#4a4a4a" stroke="none" stroke-width="0"/>
<circle cx="690.15" cy="529.04" r="1.9" fill="#4a4a4a" stroke="none" stroke-width="0"/>
<circle cx="693.25" cy="530" r="1.9" fill="#4a4a4a" stroke="none" stroke-width="0"/>
<path d="M538.25 529.93 L538.77 527.05 L539.29 524.23 L539.81 521.46 L540.32 518.75 L540.84 516.1 L541.36 513.51 L541.88 510.96 L542.4 508.41 L542.92 505.91 L543.43 503.5 L543.95 501.22 L544.47 499.1 L544.99 497.14 L545.51 495.29 L546.03 493.53 L546.54 491.86 L547.06 490.24 L547.58 488.68 L548.1 487.19 L548.62 485.78 L549.14 484.42 L549.65 483.08 L550.17 481.71 L550.69 480.28 L551.21 478.74 L551.73 477.08 L552.25 475.37 L552.77 473.67 L553.28 472.03 L553.8 470.52 L554.32 469.19 L554.84 468.09 L555.36 467.11 L555.88 466.23 L556.39 465.41 L556.91 464.62 L557.43 463.83 L557.95 463 L558.47 462.12 L558.99 461.22 L559.5 460.29 L560.02 459.36 L560.54 458.42 L561.06 457.48 L561.58 456.56 L562.1 455.64 L562.61 454.75 L563.13 453.89 L563.65 453.05 L564.17 452.23 L564.69 451.42 L565.21 450.63 L565.72 449.85 L566.24 449.08 L566.76 448.32 L567.28 447.56 L567.8 446.8 L568.32 446.05 L568.84 445.27 L569.35 444.47 L569.87 443.66 L570.39 442.85 L570.91 442.04 L571.43 441.24 L571.95 440.47 L572.46 439.73 L572.98 439.04 L573.5 438.4 L574.02 437.82 L574.54 437.31 L575.06 436.84 L575.57 436.4 L576.09 435.98 L576.61 435.58 L577.13 435.19 L577.65 434.83 L578.17 434.48 L578.68 434.14 L579.2 433.82 L579.72 433.52 L580.24 433.22 L580.76 432.94 L581.28 432.67 L581.8 432.41 L582.31 432.16 L582.83 431.91 L583.35 431.67 L583.87 431.44 L584.39 431.22 L584.91 431 L585.42 430.79 L585.94 430.59 L586.46 430.39 L586.98 430.19 L587.5 430.01 L588.02 429.82 L588.53 429.64 L589.05 429.47 L589.57 429.3 L590.09 429.13 L590.61 428.96 L591.13 428.8 L591.64 428.64 L592.16 428.49 L592.68 428.33 L593.2 428.19 L593.72 428.04 L594.24 427.9 L594.76 427.77 L595.27 427.64 L595.79 427.51 L596.31 427.38 L596.83 427.25 L597.35 427.13 L597.87 427.01 L598.38 426.89 L598.9 426.76 L599.42 426.64 L599.94 426.52 L600.46 426.4 L600.98 426.27 L601.49 426.14 L602.01 426.02 L602.53 425.88 L603.05 425.75 L603.57 425.61 L604.09 425.46 L604.6 425.32 L605.12 425.18 L605.64 425.03 L606.16 424.89 L606.68 424.74 L607.2 424.6 L607.71 424.46 L608.23 424.33 L608.75 424.2 L609.27 424.07 L609.79 423.95 L610.31 423.83 L610.83 423.72 L611.34 423.62 L611.86 423.53 L612.38 423.44 L612.9 423.36 L613.42 423.28 L613.94 423.21 L614.45 423.14 L614.97 423.08 L615.49 423.02 L616.01 422.96 L616.53 422.9 L617.05 422.84 L617.56 422.78 L618.08 422.73 L618.6 422.67 L619.12 422.61 L619.64 422.55 L620.16 422.49 L620.67 422.42 L621.19 422.36 L621.71 422.29 L622.23 422.21 L622.75 422.14 L623.27 422.06 L623.79 421.99 L624.3 421.91 L624.82 421.83 L625.34 421.75 L625.86 421.67 L626.38 421.59 L626.9 421.5 L627.41 421.41 L627.93 421.31 L628.45 421.21 L628.97 421.1 L629.49 420.99 L630.01 420.87 L630.52 420.73 L631.04 420.58 L631.56 420.42 L632.08 420.26 L632.6 420.08 L633.12 419.9 L633.63 419.71 L634.15 419.52 L634.67 419.33 L635.19 419.13 L635.71 418.94 L636.23 418.75 L636.74 418.56 L637.26 418.37 L637.78 418.17 L638.3 417.95 L638.82 417.71 L639.34 417.46 L639.86 417.21 L640.37 416.95 L640.89 416.69 L641.41 416.43 L641.93 416.17 L642.45 415.93 L642.97 415.7 L643.48 415.48 L644 415.29 L644.52 415.11 L645.04 414.97 L645.56 414.85 L646.08 414.76 L646.59 414.71 L647.11 414.7 L647.63 414.7 L648.15 414.7 L648.67 414.7 L649.19 414.7 L649.7 414.7 L650.22 414.7 L650.74 414.7 L651.26 414.7 L651.78 414.7 L652.3 414.7 L652.82 414.7 L653.33 414.7 L653.85 414.7 L654.37 414.7 L654.89 414.7 L655.41 414.7 L655.93 414.7 L656.44 414.7 L656.96 414.7 L657.48 414.71 L658 414.75 L658.52 414.81 L659.04 414.89 L659.55 414.98 L660.07 415.09 L660.59 415.21 L661.11 415.34 L661.63 415.48 L662.15 415.62 L662.66 415.75 L663.18 415.88 L663.7 416.01 L664.22 416.12 L664.74 416.23 L665.26 416.32 L665.78 416.38 L666.29 416.43 L666.81 416.46 L667.33 416.46 L667.85 416.45 L668.37 416.45 L668.89 416.44 L669.4 416.42 L669.92 416.41 L670.44 416.39 L670.96 416.37 L671.48 416.34 L672 416.32 L672.51 416.29 L673.03 416.26 L673.55 416.22 L674.07 416.19 L674.59 416.15 L675.11 416.11 L675.62 416.07 L676.14 416.03 L676.66 415.98 L677.18 415.94 L677.7 415.86 L678.22 415.76 L678.73 415.63 L679.25 415.48 L679.77 415.31 L680.29 415.12 L680.81 414.91 L681.33 414.69 L681.85 414.46 L682.36 414.22 L682.88 413.98 L683.4 413.73 L683.92 413.49 L684.44 413.24 L684.96 413.01 L685.47 412.78 L685.99 412.56 L686.51 412.36 L687.03 412.17 L687.55 411.99 L688.07 411.82 L688.58 411.64 L689.1 411.47 L689.62 411.3 L690.14 411.13 L690.66 410.97 L691.18 410.81 L691.69 410.64 L692.21 410.48 L692.73 410.32 L693.25 410.17" fill="none" stroke="#4a7ee0" stroke-width="1.3" stroke-linejoin="round" />
<circle cx="538.25" cy="529.93" r="1.9" fill="#3a6ad0" stroke="none" stroke-width="0"/>
<circle cx="541.35" cy="513.56" r="1.9" fill="#3a6ad0" stroke="none" stroke-width="0"/>
<circle cx="544.45" cy="499.18" r="1.9" fill="#3a6ad0" stroke="none" stroke-width="0"/>
<circle cx="547.55" cy="488.77" r="1.9" fill="#3a6ad0" stroke="none" stroke-width="0"/>
<circle cx="550.65" cy="480.4" r="1.9" fill="#3a6ad0" stroke="none" stroke-width="0"/>
<circle cx="553.75" cy="470.66" r="1.9" fill="#3a6ad0" stroke="none" stroke-width="0"/>
<circle cx="556.85" cy="464.71" r="1.9" fill="#3a6ad0" stroke="none" stroke-width="0"/>
<circle cx="559.95" cy="459.49" r="1.9" fill="#3a6ad0" stroke="none" stroke-width="0"/>
<circle cx="563.05" cy="454.02" r="1.9" fill="#3a6ad0" stroke="none" stroke-width="0"/>
<circle cx="566.15" cy="449.22" r="1.9" fill="#3a6ad0" stroke="none" stroke-width="0"/>
<circle cx="569.25" cy="444.64" r="1.9" fill="#3a6ad0" stroke="none" stroke-width="0"/>
<circle cx="572.35" cy="439.89" r="1.9" fill="#3a6ad0" stroke="none" stroke-width="0"/>
<circle cx="575.45" cy="436.5" r="1.9" fill="#3a6ad0" stroke="none" stroke-width="0"/>
<circle cx="578.55" cy="434.23" r="1.9" fill="#3a6ad0" stroke="none" stroke-width="0"/>
<circle cx="581.65" cy="432.48" r="1.9" fill="#3a6ad0" stroke="none" stroke-width="0"/>
<circle cx="584.75" cy="431.07" r="1.9" fill="#3a6ad0" stroke="none" stroke-width="0"/>
<circle cx="587.85" cy="429.88" r="1.9" fill="#3a6ad0" stroke="none" stroke-width="0"/>
<circle cx="590.95" cy="428.86" r="1.9" fill="#3a6ad0" stroke="none" stroke-width="0"/>
<circle cx="594.05" cy="427.95" r="1.9" fill="#3a6ad0" stroke="none" stroke-width="0"/>
<circle cx="597.15" cy="427.18" r="1.9" fill="#3a6ad0" stroke="none" stroke-width="0"/>
<circle cx="600.25" cy="426.45" r="1.9" fill="#3a6ad0" stroke="none" stroke-width="0"/>
<circle cx="603.35" cy="425.67" r="1.9" fill="#3a6ad0" stroke="none" stroke-width="0"/>
<circle cx="606.45" cy="424.81" r="1.9" fill="#3a6ad0" stroke="none" stroke-width="0"/>
<circle cx="609.55" cy="424" r="1.9" fill="#3a6ad0" stroke="none" stroke-width="0"/>
<circle cx="612.65" cy="423.4" r="1.9" fill="#3a6ad0" stroke="none" stroke-width="0"/>
<circle cx="615.75" cy="422.99" r="1.9" fill="#3a6ad0" stroke="none" stroke-width="0"/>
<circle cx="618.85" cy="422.64" r="1.9" fill="#3a6ad0" stroke="none" stroke-width="0"/>
<circle cx="621.95" cy="422.25" r="1.9" fill="#3a6ad0" stroke="none" stroke-width="0"/>
<circle cx="625.05" cy="421.8" r="1.9" fill="#3a6ad0" stroke="none" stroke-width="0"/>
<circle cx="628.15" cy="421.27" r="1.9" fill="#3a6ad0" stroke="none" stroke-width="0"/>
<circle cx="631.25" cy="420.52" r="1.9" fill="#3a6ad0" stroke="none" stroke-width="0"/>
<circle cx="634.35" cy="419.45" r="1.9" fill="#3a6ad0" stroke="none" stroke-width="0"/>
<circle cx="637.45" cy="418.3" r="1.9" fill="#3a6ad0" stroke="none" stroke-width="0"/>
<circle cx="640.55" cy="416.86" r="1.9" fill="#3a6ad0" stroke="none" stroke-width="0"/>
<circle cx="643.65" cy="415.42" r="1.9" fill="#3a6ad0" stroke="none" stroke-width="0"/>
<circle cx="646.75" cy="414.7" r="1.9" fill="#3a6ad0" stroke="none" stroke-width="0"/>
<circle cx="649.85" cy="414.7" r="1.9" fill="#3a6ad0" stroke="none" stroke-width="0"/>
<circle cx="652.95" cy="414.7" r="1.9" fill="#3a6ad0" stroke="none" stroke-width="0"/>
<circle cx="656.05" cy="414.7" r="1.9" fill="#3a6ad0" stroke="none" stroke-width="0"/>
<circle cx="659.15" cy="414.91" r="1.9" fill="#3a6ad0" stroke="none" stroke-width="0"/>
<circle cx="662.25" cy="415.64" r="1.9" fill="#3a6ad0" stroke="none" stroke-width="0"/>
<circle cx="665.35" cy="416.33" r="1.9" fill="#3a6ad0" stroke="none" stroke-width="0"/>
<circle cx="668.45" cy="416.44" r="1.9" fill="#3a6ad0" stroke="none" stroke-width="0"/>
<circle cx="671.55" cy="416.34" r="1.9" fill="#3a6ad0" stroke="none" stroke-width="0"/>
<circle cx="674.65" cy="416.15" r="1.9" fill="#3a6ad0" stroke="none" stroke-width="0"/>
<circle cx="677.75" cy="415.85" r="1.9" fill="#3a6ad0" stroke="none" stroke-width="0"/>
<circle cx="680.85" cy="414.89" r="1.9" fill="#3a6ad0" stroke="none" stroke-width="0"/>
<circle cx="683.95" cy="413.47" r="1.9" fill="#3a6ad0" stroke="none" stroke-width="0"/>
<circle cx="687.05" cy="412.16" r="1.9" fill="#3a6ad0" stroke="none" stroke-width="0"/>
<circle cx="690.15" cy="411.13" r="1.9" fill="#3a6ad0" stroke="none" stroke-width="0"/>
<circle cx="693.25" cy="410.17" r="1.9" fill="#3a6ad0" stroke="none" stroke-width="0"/>
<path d="M528.5 399.5 H703.8 V540.6 H528.5 Z" fill="none" stroke="#3c3c3c" stroke-width="1.4"/>
<line x1="703.8" y1="399.5" x2="703.8" y2="540.6" stroke="#5a7cc0" stroke-width="1.3" />
<line x1="538.2" y1="540.6" x2="538.2" y2="537.6" stroke="#3c3c3c" stroke-width="1.0" />
<text x="538.2" y="551.6" font-size="9.0" text-anchor="middle" font-weight="bold" font-style="normal" fill="#222" stroke="#222" stroke-width="0.25">2</text>
<line x1="557.64" y1="540.6" x2="557.64" y2="537.6" stroke="#3c3c3c" stroke-width="1.0" />
<text x="557.64" y="551.6" font-size="9.0" text-anchor="middle" font-weight="bold" font-style="normal" fill="#222" stroke="#222" stroke-width="0.25">4</text>
<line x1="577.08" y1="540.6" x2="577.08" y2="537.6" stroke="#3c3c3c" stroke-width="1.0" />
<text x="577.08" y="551.6" font-size="9.0" text-anchor="middle" font-weight="bold" font-style="normal" fill="#222" stroke="#222" stroke-width="0.25">6</text>
<line x1="596.52" y1="540.6" x2="596.52" y2="537.6" stroke="#3c3c3c" stroke-width="1.0" />
<text x="596.52" y="551.6" font-size="9.0" text-anchor="middle" font-weight="bold" font-style="normal" fill="#222" stroke="#222" stroke-width="0.25">8</text>
<line x1="615.96" y1="540.6" x2="615.96" y2="537.6" stroke="#3c3c3c" stroke-width="1.0" />
<text x="615.96" y="551.6" font-size="9.0" text-anchor="middle" font-weight="bold" font-style="normal" fill="#222" stroke="#222" stroke-width="0.25">10</text>
<line x1="635.4" y1="540.6" x2="635.4" y2="537.6" stroke="#3c3c3c" stroke-width="1.0" />
<text x="635.4" y="551.6" font-size="9.0" text-anchor="middle" font-weight="bold" font-style="normal" fill="#222" stroke="#222" stroke-width="0.25">12</text>
<line x1="654.84" y1="540.6" x2="654.84" y2="537.6" stroke="#3c3c3c" stroke-width="1.0" />
<text x="654.84" y="551.6" font-size="9.0" text-anchor="middle" font-weight="bold" font-style="normal" fill="#222" stroke="#222" stroke-width="0.25">14</text>
<line x1="674.28" y1="540.6" x2="674.28" y2="537.6" stroke="#3c3c3c" stroke-width="1.0" />
<text x="674.28" y="551.6" font-size="9.0" text-anchor="middle" font-weight="bold" font-style="normal" fill="#222" stroke="#222" stroke-width="0.25">16</text>
<line x1="693.72" y1="540.6" x2="693.72" y2="537.6" stroke="#3c3c3c" stroke-width="1.0" />
<text x="693.72" y="551.6" font-size="9.0" text-anchor="middle" font-weight="bold" font-style="normal" fill="#222" stroke="#222" stroke-width="0.25">18</text>
<line x1="528.48" y1="540.6" x2="528.48" y2="538.9" stroke="#3c3c3c" stroke-width="1.0" />
<line x1="547.92" y1="540.6" x2="547.92" y2="538.9" stroke="#3c3c3c" stroke-width="1.0" />
<line x1="567.36" y1="540.6" x2="567.36" y2="538.9" stroke="#3c3c3c" stroke-width="1.0" />
<line x1="586.8" y1="540.6" x2="586.8" y2="538.9" stroke="#3c3c3c" stroke-width="1.0" />
<line x1="606.24" y1="540.6" x2="606.24" y2="538.9" stroke="#3c3c3c" stroke-width="1.0" />
<line x1="625.68" y1="540.6" x2="625.68" y2="538.9" stroke="#3c3c3c" stroke-width="1.0" />
<line x1="645.12" y1="540.6" x2="645.12" y2="538.9" stroke="#3c3c3c" stroke-width="1.0" />
<line x1="664.56" y1="540.6" x2="664.56" y2="538.9" stroke="#3c3c3c" stroke-width="1.0" />
<line x1="684" y1="540.6" x2="684" y2="538.9" stroke="#3c3c3c" stroke-width="1.0" />
<line x1="703.44" y1="540.6" x2="703.44" y2="538.9" stroke="#3c3c3c" stroke-width="1.0" />
<line x1="528.5" y1="540.6" x2="531.5" y2="540.6" stroke="#3c3c3c" stroke-width="1.0" />
<text x="525.6" y="543.7" font-size="9.0" text-anchor="end" font-weight="bold" font-style="normal" fill="#555" stroke="#555" stroke-width="0.25">0%</text>
<line x1="528.5" y1="524.95" x2="530.2" y2="524.95" stroke="#3c3c3c" stroke-width="1.0" />
<line x1="528.5" y1="509.3" x2="531.5" y2="509.3" stroke="#3c3c3c" stroke-width="1.0" />
<text x="525.6" y="512.4" font-size="9.0" text-anchor="end" font-weight="bold" font-style="normal" fill="#555" stroke="#555" stroke-width="0.25">10%</text>
<line x1="528.5" y1="493.65" x2="530.2" y2="493.65" stroke="#3c3c3c" stroke-width="1.0" />
<line x1="528.5" y1="478" x2="531.5" y2="478" stroke="#3c3c3c" stroke-width="1.0" />
<text x="525.6" y="481.1" font-size="9.0" text-anchor="end" font-weight="bold" font-style="normal" fill="#555" stroke="#555" stroke-width="0.25">20%</text>
<line x1="528.5" y1="462.35" x2="530.2" y2="462.35" stroke="#3c3c3c" stroke-width="1.0" />
<line x1="528.5" y1="446.7" x2="531.5" y2="446.7" stroke="#3c3c3c" stroke-width="1.0" />
<text x="525.6" y="449.8" font-size="9.0" text-anchor="end" font-weight="bold" font-style="normal" fill="#555" stroke="#555" stroke-width="0.25">30%</text>
<line x1="528.5" y1="431.05" x2="530.2" y2="431.05" stroke="#3c3c3c" stroke-width="1.0" />
<line x1="528.5" y1="415.4" x2="531.5" y2="415.4" stroke="#3c3c3c" stroke-width="1.0" />
<text x="525.6" y="418.5" font-size="9.0" text-anchor="end" font-weight="bold" font-style="normal" fill="#555" stroke="#555" stroke-width="0.25">40%</text>
<line x1="528.5" y1="399.75" x2="530.2" y2="399.75" stroke="#3c3c3c" stroke-width="1.0" />
<line x1="703.8" y1="525.5" x2="700.8" y2="525.5" stroke="#5a7cc0" stroke-width="1.0" />
<text x="707.4" y="528.6" font-size="9.0" text-anchor="start" font-weight="bold" font-style="normal" fill="#4a78d0" stroke="#4a78d0" stroke-width="0.25">60%</text>
<line x1="703.8" y1="509.75" x2="702.1" y2="509.75" stroke="#5a7cc0" stroke-width="1.0" />
<line x1="703.8" y1="494" x2="700.8" y2="494" stroke="#5a7cc0" stroke-width="1.0" />
<text x="707.4" y="497.1" font-size="9.0" text-anchor="start" font-weight="bold" font-style="normal" fill="#4a78d0" stroke="#4a78d0" stroke-width="0.25">70%</text>
<line x1="703.8" y1="478.25" x2="702.1" y2="478.25" stroke="#5a7cc0" stroke-width="1.0" />
<line x1="703.8" y1="462.5" x2="700.8" y2="462.5" stroke="#5a7cc0" stroke-width="1.0" />
<text x="707.4" y="465.6" font-size="9.0" text-anchor="start" font-weight="bold" font-style="normal" fill="#4a78d0" stroke="#4a78d0" stroke-width="0.25">80%</text>
<line x1="703.8" y1="446.75" x2="702.1" y2="446.75" stroke="#5a7cc0" stroke-width="1.0" />
<line x1="703.8" y1="431" x2="700.8" y2="431" stroke="#5a7cc0" stroke-width="1.0" />
<text x="707.4" y="434.1" font-size="9.0" text-anchor="start" font-weight="bold" font-style="normal" fill="#4a78d0" stroke="#4a78d0" stroke-width="0.25">90%</text>
<line x1="703.8" y1="415.25" x2="702.1" y2="415.25" stroke="#5a7cc0" stroke-width="1.0" />
<line x1="703.8" y1="399.5" x2="700.8" y2="399.5" stroke="#5a7cc0" stroke-width="1.0" />
<text x="707.4" y="402.6" font-size="9.0" text-anchor="start" font-weight="bold" font-style="normal" fill="#4a78d0" stroke="#4a78d0" stroke-width="0.25">100%</text>
<text x="617.2" y="567.6" font-size="10.6" text-anchor="middle" font-weight="bold" font-style="normal" fill="#222" stroke="#222" stroke-width="0.25">Frequency (GHz)</text>
<text x="504.2" y="467.7" font-size="11.0" text-anchor="middle" font-weight="bold" font-style="normal" fill="#222" stroke="#222" stroke-width="0.25" transform="rotate(-90 504.2 467.7)">&#969;''c</text>
<text x="734.4" y="465.5" font-size="10.5" text-anchor="middle" font-weight="bold" font-style="normal" fill="#4a78d0" stroke="#4a78d0" stroke-width="0.25" transform="rotate(-90 734.4 465.5)">&#969;''<tspan font-style="italic">p</tspan></text>
<line x1="552.7" y1="408.4" x2="571.4" y2="408.4" stroke="#444" stroke-width="1.0" />
<circle cx="562.1" cy="408.4" r="1.9" fill="#4a4a4a" stroke="none" stroke-width="0"/>
<text x="572.8" y="411.4" font-size="10.0" text-anchor="start" font-weight="normal" font-style="italic" fill="#333">&#949;''c</text>
<line x1="552.7" y1="420.1" x2="571.4" y2="420.1" stroke="#4a7ee0" stroke-width="1.2" />
<circle cx="562.1" cy="420.1" r="1.9" fill="#2e62c0" stroke="none" stroke-width="0"/>
<text x="572.8" y="422.6" font-size="10.0" text-anchor="start" font-weight="normal" font-style="italic" fill="#333">&#949;''p</text>
</svg></body></html>
